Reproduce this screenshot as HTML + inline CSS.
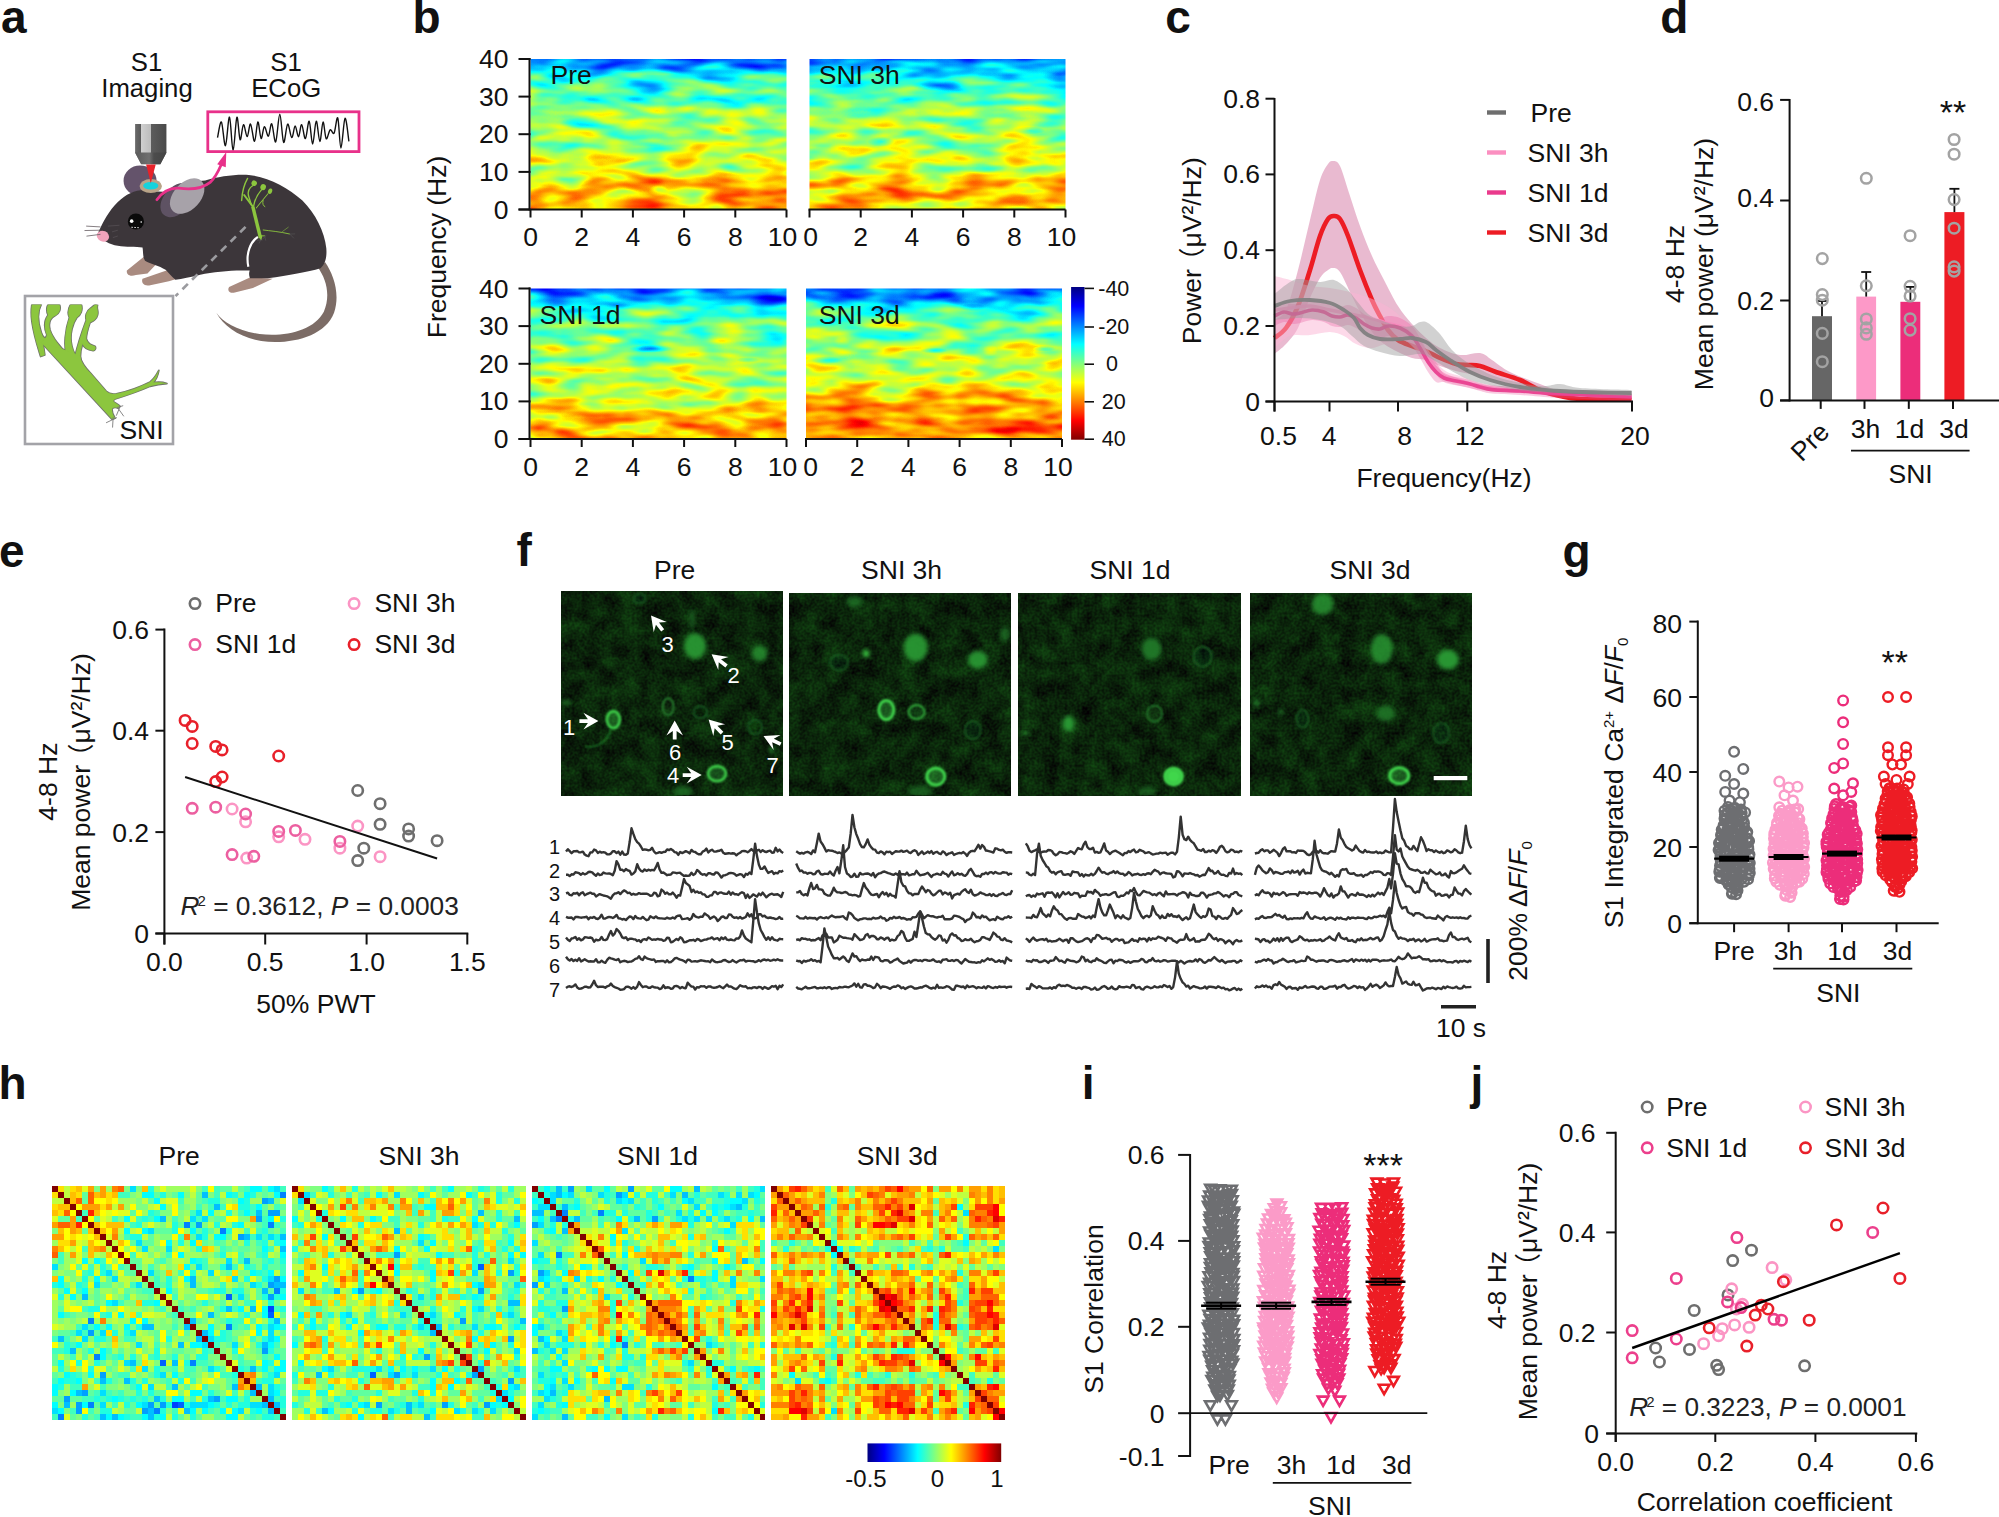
<!DOCTYPE html>
<html><head><meta charset="utf-8"><title>Figure</title>
<style>html,body{margin:0;padding:0;background:#fff}svg{display:block}text{font-family:"Liberation Sans", "Noto Sans CJK SC", sans-serif}</style></head>
<body><svg width="1999" height="1517" viewBox="0 0 1999 1517">
<defs><filter id="jt0" x="0" y="0" width="1" height="1" color-interpolation-filters="sRGB" filterUnits="objectBoundingBox">
<feTurbulence type="fractalNoise" baseFrequency="0.024 0.085" numOctaves="2" seed="3" result="n"/>
<feColorMatrix in="n" type="matrix" values="1 0 0 0 0 1 0 0 0 0 1 0 0 0 0 0 0 0 0 1" result="g"/>
<feComposite in="SourceGraphic" in2="g" operator="arithmetic" k1="0" k2="1" k3="0.47" k4="-0.235" result="m"/>
<feComponentTransfer in="m"><feFuncR type="table" tableValues="0 0 0 0 .5 1 1 1 .5"/><feFuncG type="table" tableValues="0 0 .5 1 1 1 .5 0 0"/><feFuncB type="table" tableValues=".5 1 1 1 .5 0 0 0 0"/></feComponentTransfer></filter><filter id="jt1" x="0" y="0" width="1" height="1" color-interpolation-filters="sRGB" filterUnits="objectBoundingBox">
<feTurbulence type="fractalNoise" baseFrequency="0.024 0.085" numOctaves="2" seed="11" result="n"/>
<feColorMatrix in="n" type="matrix" values="1 0 0 0 0 1 0 0 0 0 1 0 0 0 0 0 0 0 0 1" result="g"/>
<feComposite in="SourceGraphic" in2="g" operator="arithmetic" k1="0" k2="1" k3="0.47" k4="-0.235" result="m"/>
<feComponentTransfer in="m"><feFuncR type="table" tableValues="0 0 0 0 .5 1 1 1 .5"/><feFuncG type="table" tableValues="0 0 .5 1 1 1 .5 0 0"/><feFuncB type="table" tableValues=".5 1 1 1 .5 0 0 0 0"/></feComponentTransfer></filter><filter id="jt2" x="0" y="0" width="1" height="1" color-interpolation-filters="sRGB" filterUnits="objectBoundingBox">
<feTurbulence type="fractalNoise" baseFrequency="0.024 0.085" numOctaves="2" seed="23" result="n"/>
<feColorMatrix in="n" type="matrix" values="1 0 0 0 0 1 0 0 0 0 1 0 0 0 0 0 0 0 0 1" result="g"/>
<feComposite in="SourceGraphic" in2="g" operator="arithmetic" k1="0" k2="1" k3="0.47" k4="-0.235" result="m"/>
<feComponentTransfer in="m"><feFuncR type="table" tableValues="0 0 0 0 .5 1 1 1 .5"/><feFuncG type="table" tableValues="0 0 .5 1 1 1 .5 0 0"/><feFuncB type="table" tableValues=".5 1 1 1 .5 0 0 0 0"/></feComponentTransfer></filter><filter id="jt3" x="0" y="0" width="1" height="1" color-interpolation-filters="sRGB" filterUnits="objectBoundingBox">
<feTurbulence type="fractalNoise" baseFrequency="0.024 0.085" numOctaves="2" seed="37" result="n"/>
<feColorMatrix in="n" type="matrix" values="1 0 0 0 0 1 0 0 0 0 1 0 0 0 0 0 0 0 0 1" result="g"/>
<feComposite in="SourceGraphic" in2="g" operator="arithmetic" k1="0" k2="1" k3="0.47" k4="-0.235" result="m"/>
<feComponentTransfer in="m"><feFuncR type="table" tableValues="0 0 0 0 .5 1 1 1 .5"/><feFuncG type="table" tableValues="0 0 .5 1 1 1 .5 0 0"/><feFuncB type="table" tableValues=".5 1 1 1 .5 0 0 0 0"/></feComponentTransfer></filter><radialGradient id="hot"><stop offset="0" stop-color="#fff" stop-opacity=".34"/><stop offset=".6" stop-color="#fff" stop-opacity=".17"/><stop offset="1" stop-color="#fff" stop-opacity="0"/></radialGradient><radialGradient id="cold"><stop offset="0" stop-color="#000" stop-opacity=".55"/><stop offset=".6" stop-color="#000" stop-opacity=".25"/><stop offset="1" stop-color="#000" stop-opacity="0"/></radialGradient><linearGradient id="cbv" x1="0" y1="0" x2="0" y2="1"><stop offset="0.0" stop-color="#000080"/><stop offset="0.125" stop-color="#0000ff"/><stop offset="0.25" stop-color="#0080ff"/><stop offset="0.375" stop-color="#00ffff"/><stop offset="0.5" stop-color="#80ff80"/><stop offset="0.625" stop-color="#ffff00"/><stop offset="0.75" stop-color="#ff8000"/><stop offset="0.875" stop-color="#ff0000"/><stop offset="1.0" stop-color="#800000"/></linearGradient><linearGradient id="cbh" x1="0" y1="0" x2="1" y2="0"><stop offset="0.0" stop-color="#000080"/><stop offset="0.125" stop-color="#0000ff"/><stop offset="0.25" stop-color="#0080ff"/><stop offset="0.375" stop-color="#00ffff"/><stop offset="0.5" stop-color="#80ff80"/><stop offset="0.625" stop-color="#ffff00"/><stop offset="0.75" stop-color="#ff8000"/><stop offset="0.875" stop-color="#ff0000"/><stop offset="1.0" stop-color="#800000"/></linearGradient><linearGradient id="obj" x1="0" y1="0" x2="1" y2="0"><stop offset="0" stop-color="#6a6a6a"/><stop offset=".18" stop-color="#5a5a5a"/><stop offset=".2" stop-color="#cfcfcf"/><stop offset=".5" stop-color="#bdbdbd"/><stop offset=".52" stop-color="#5c5c5c"/><stop offset="1" stop-color="#4a4a4a"/></linearGradient><linearGradient id="obj2" x1="0" y1="0" x2="1" y2="0"><stop offset="0" stop-color="#5a5a5a"/><stop offset=".45" stop-color="#707070"/><stop offset=".6" stop-color="#4c4c4c"/><stop offset="1" stop-color="#444"/></linearGradient><filter id="gn0" x="0" y="0" width="1" height="1" color-interpolation-filters="sRGB">
<feTurbulence type="fractalNoise" baseFrequency="0.05" numOctaves="3" seed="7"/>
<feColorMatrix type="matrix" values="0 .3 0 0 0 0 .3 0 0 0 0 .3 0 0 0 0 0 0 0 1" result="a"/>
<feTurbulence type="fractalNoise" baseFrequency="0.4" numOctaves="1" seed="8"/>
<feColorMatrix type="matrix" values="0 .22 0 0 0 0 .22 0 0 0 0 .22 0 0 0 0 0 0 0 1" result="b"/>
<feComposite in="a" in2="b" operator="arithmetic" k1="0" k2="1" k3="1" k4="0"/>
<feColorMatrix type="matrix" values="0 0.2 0 0 -0.01  0 1 0 0 -0.115  0 0.2 0 0 -0.01  0 0 0 0 1"/></filter><filter id="gn1" x="0" y="0" width="1" height="1" color-interpolation-filters="sRGB">
<feTurbulence type="fractalNoise" baseFrequency="0.05" numOctaves="3" seed="19"/>
<feColorMatrix type="matrix" values="0 .3 0 0 0 0 .3 0 0 0 0 .3 0 0 0 0 0 0 0 1" result="a"/>
<feTurbulence type="fractalNoise" baseFrequency="0.4" numOctaves="1" seed="20"/>
<feColorMatrix type="matrix" values="0 .22 0 0 0 0 .22 0 0 0 0 .22 0 0 0 0 0 0 0 1" result="b"/>
<feComposite in="a" in2="b" operator="arithmetic" k1="0" k2="1" k3="1" k4="0"/>
<feColorMatrix type="matrix" values="0 0.2 0 0 -0.01  0 1 0 0 -0.115  0 0.2 0 0 -0.01  0 0 0 0 1"/></filter><filter id="gn2" x="0" y="0" width="1" height="1" color-interpolation-filters="sRGB">
<feTurbulence type="fractalNoise" baseFrequency="0.05" numOctaves="3" seed="31"/>
<feColorMatrix type="matrix" values="0 .3 0 0 0 0 .3 0 0 0 0 .3 0 0 0 0 0 0 0 1" result="a"/>
<feTurbulence type="fractalNoise" baseFrequency="0.4" numOctaves="1" seed="32"/>
<feColorMatrix type="matrix" values="0 .22 0 0 0 0 .22 0 0 0 0 .22 0 0 0 0 0 0 0 1" result="b"/>
<feComposite in="a" in2="b" operator="arithmetic" k1="0" k2="1" k3="1" k4="0"/>
<feColorMatrix type="matrix" values="0 0.2 0 0 -0.01  0 1 0 0 -0.115  0 0.2 0 0 -0.01  0 0 0 0 1"/></filter><filter id="gn3" x="0" y="0" width="1" height="1" color-interpolation-filters="sRGB">
<feTurbulence type="fractalNoise" baseFrequency="0.05" numOctaves="3" seed="43"/>
<feColorMatrix type="matrix" values="0 .3 0 0 0 0 .3 0 0 0 0 .3 0 0 0 0 0 0 0 1" result="a"/>
<feTurbulence type="fractalNoise" baseFrequency="0.4" numOctaves="1" seed="44"/>
<feColorMatrix type="matrix" values="0 .22 0 0 0 0 .22 0 0 0 0 .22 0 0 0 0 0 0 0 1" result="b"/>
<feComposite in="a" in2="b" operator="arithmetic" k1="0" k2="1" k3="1" k4="0"/>
<feColorMatrix type="matrix" values="0 0.2 0 0 -0.01  0 1 0 0 -0.115  0 0.2 0 0 -0.01  0 0 0 0 1"/></filter><filter id="cb" x="-0.5" y="-0.5" width="2" height="2"><feGaussianBlur stdDeviation="1.6"/></filter><filter id="cb2" x="-0.5" y="-0.5" width="2" height="2"><feGaussianBlur stdDeviation="2.2"/></filter><filter id="cb1" x="-0.5" y="-0.5" width="2" height="2"><feGaussianBlur stdDeviation="0.8"/></filter></defs>
<rect width="1999" height="1517" fill="#fff"/>
<text x="0.9" y="33.3" font-size="46" font-weight="bold" fill="#111">a</text><text x="412.4" y="33.3" font-size="46" font-weight="bold" fill="#111">b</text><text x="1165.3" y="33.3" font-size="46" font-weight="bold" fill="#111">c</text><text x="1660.2" y="33.3" font-size="46" font-weight="bold" fill="#111">d</text><text x="-1.1" y="566.5" font-size="46" font-weight="bold" fill="#111">e</text><text x="516.6" y="566.2" font-size="46" font-weight="bold" fill="#111">f</text><text x="1562.6" y="566.5" font-size="46" font-weight="bold" fill="#111">g</text><text x="-1.4" y="1099.3" font-size="46" font-weight="bold" fill="#111">h</text><text x="1081.8" y="1099.3" font-size="46" font-weight="bold" fill="#111">i</text><text x="1470.5" y="1099.3" font-size="46" font-weight="bold" fill="#111">j</text>
<clipPath id="hc0"><rect x="530.5" y="59" width="256" height="150.5"/></clipPath><linearGradient id="hp0" gradientUnits="userSpaceOnUse" x1="0" y1="59" x2="0" y2="209.5"><stop offset="0" stop-color="#383838"/><stop offset="0.05" stop-color="#4f4f4f"/><stop offset="0.14" stop-color="#696969"/><stop offset="0.25" stop-color="#787878"/><stop offset="0.45" stop-color="#878787"/><stop offset="0.6" stop-color="#8c8c8c"/><stop offset="0.72" stop-color="#969696"/><stop offset="0.8" stop-color="#a3a3a3"/><stop offset="0.9" stop-color="#afafaf"/><stop offset="1" stop-color="#acacac"/></linearGradient><g clip-path="url(#hc0)"><g filter="url(#jt0)"><rect x="490.5" y="19" width="336" height="230.5" fill="url(#hp0)"/><ellipse cx="640.6" cy="183.2" rx="26" ry="9" fill="url(#hot)" opacity="0.6"/><ellipse cx="691.8" cy="185" rx="30" ry="9" fill="url(#hot)" opacity="0.7"/><ellipse cx="725.1" cy="179.4" rx="26" ry="8" fill="url(#hot)" opacity="0.6"/><ellipse cx="591.9" cy="198.2" rx="24" ry="7" fill="url(#hot)" opacity="0.55"/><ellipse cx="776.3" cy="194.4" rx="22" ry="12" fill="url(#hot)" opacity="0.5"/><ellipse cx="735.3" cy="203.9" rx="18" ry="6" fill="url(#hot)" opacity="0.5"/><ellipse cx="563.8" cy="179.4" rx="30" ry="8" fill="url(#cold)" opacity="0.45"/><ellipse cx="658.5" cy="190.7" rx="10" ry="6" fill="url(#cold)" opacity="0.3"/><ellipse cx="645.7" cy="138" rx="30" ry="9" fill="url(#cold)" opacity="0.45"/><ellipse cx="581.7" cy="123" rx="22" ry="6" fill="url(#cold)" opacity="0.3"/><ellipse cx="658.5" cy="68.4" rx="40" ry="6" fill="url(#cold)" opacity="0.5"/><ellipse cx="755.8" cy="66.5" rx="30" ry="5" fill="url(#cold)" opacity="0.6"/><ellipse cx="556.1" cy="77.8" rx="20" ry="6" fill="url(#cold)" opacity="0.4"/><ellipse cx="735.3" cy="134.2" rx="24" ry="8" fill="url(#hot)" opacity="0.3"/><ellipse cx="581.7" cy="149.3" rx="18" ry="5" fill="url(#hot)" opacity="0.3"/><ellipse cx="535.6" cy="205.7" rx="14" ry="8" fill="url(#hot)" opacity="0.5"/></g></g><path d="M529.5 58L529.5 210.5" stroke="#111" stroke-width="2" fill="none" /><path d="M518.5 209.5L786.5 209.5" stroke="#111" stroke-width="2" fill="none" /><path d="M530.5 209.5L530.5 217.5" stroke="#111" stroke-width="2" fill="none" /><text x="530.5" y="246" font-size="26.5" text-anchor="middle" fill="#111" >0</text><path d="M581.7 209.5L581.7 217.5" stroke="#111" stroke-width="2" fill="none" /><text x="581.7" y="246" font-size="26.5" text-anchor="middle" fill="#111" >2</text><path d="M632.9 209.5L632.9 217.5" stroke="#111" stroke-width="2" fill="none" /><text x="632.9" y="246" font-size="26.5" text-anchor="middle" fill="#111" >4</text><path d="M684.1 209.5L684.1 217.5" stroke="#111" stroke-width="2" fill="none" /><text x="684.1" y="246" font-size="26.5" text-anchor="middle" fill="#111" >6</text><path d="M735.3 209.5L735.3 217.5" stroke="#111" stroke-width="2" fill="none" /><text x="735.3" y="246" font-size="26.5" text-anchor="middle" fill="#111" >8</text><path d="M786.5 209.5L786.5 217.5" stroke="#111" stroke-width="2" fill="none" /><text x="782.5" y="246" font-size="26.5" text-anchor="middle" fill="#111" >10</text><path d="M518.5 209.5L530.5 209.5" stroke="#111" stroke-width="2" fill="none" /><text x="508.5" y="218.5" font-size="26.5" text-anchor="end" fill="#111" >0</text><path d="M518.5 171.9L530.5 171.9" stroke="#111" stroke-width="2" fill="none" /><text x="508.5" y="180.9" font-size="26.5" text-anchor="end" fill="#111" >10</text><path d="M518.5 134.2L530.5 134.2" stroke="#111" stroke-width="2" fill="none" /><text x="508.5" y="143.2" font-size="26.5" text-anchor="end" fill="#111" >20</text><path d="M518.5 96.6L530.5 96.6" stroke="#111" stroke-width="2" fill="none" /><text x="508.5" y="105.6" font-size="26.5" text-anchor="end" fill="#111" >30</text><path d="M518.5 59L530.5 59" stroke="#111" stroke-width="2" fill="none" /><text x="508.5" y="68" font-size="26.5" text-anchor="end" fill="#111" >40</text><clipPath id="hc1"><rect x="809.5" y="59" width="256" height="150.5"/></clipPath><linearGradient id="hp1" gradientUnits="userSpaceOnUse" x1="0" y1="59" x2="0" y2="209.5"><stop offset="0" stop-color="#383838"/><stop offset="0.05" stop-color="#4f4f4f"/><stop offset="0.14" stop-color="#696969"/><stop offset="0.25" stop-color="#787878"/><stop offset="0.45" stop-color="#878787"/><stop offset="0.6" stop-color="#8c8c8c"/><stop offset="0.72" stop-color="#969696"/><stop offset="0.8" stop-color="#a3a3a3"/><stop offset="0.9" stop-color="#afafaf"/><stop offset="1" stop-color="#acacac"/></linearGradient><g clip-path="url(#hc1)"><g filter="url(#jt1)"><rect x="769.5" y="19" width="336" height="230.5" fill="url(#hp1)"/><ellipse cx="886.3" cy="194.4" rx="40" ry="10" fill="url(#hot)" opacity="0.55"/><ellipse cx="1011.7" cy="194.4" rx="22" ry="13" fill="url(#hot)" opacity="0.75"/><ellipse cx="950.3" cy="183.2" rx="28" ry="7" fill="url(#hot)" opacity="0.4"/><ellipse cx="1055.3" cy="156.8" rx="18" ry="10" fill="url(#hot)" opacity="0.5"/><ellipse cx="842.8" cy="149.3" rx="16" ry="7" fill="url(#hot)" opacity="0.35"/><ellipse cx="899.1" cy="130.5" rx="10" ry="6" fill="url(#hot)" opacity="0.35"/><ellipse cx="817.2" cy="190.7" rx="14" ry="12" fill="url(#hot)" opacity="0.4"/><ellipse cx="937.5" cy="85.3" rx="26" ry="6" fill="url(#cold)" opacity="0.65"/><ellipse cx="881.2" cy="141.8" rx="14" ry="5" fill="url(#cold)" opacity="0.5"/><ellipse cx="1029.7" cy="130.5" rx="16" ry="4" fill="url(#cold)" opacity="0.55"/><ellipse cx="894" cy="66.5" rx="30" ry="5" fill="url(#cold)" opacity="0.5"/><ellipse cx="1057.8" cy="74" rx="18" ry="8" fill="url(#cold)" opacity="0.5"/><ellipse cx="975.9" cy="168.1" rx="30" ry="5" fill="url(#cold)" opacity="0.3"/></g></g><path d="M808.5 209.5L1065.5 209.5" stroke="#111" stroke-width="2" fill="none" /><path d="M809.5 209.5L809.5 217.5" stroke="#111" stroke-width="2" fill="none" /><text x="810.5" y="246" font-size="26.5" text-anchor="middle" fill="#111" >0</text><path d="M860.7 209.5L860.7 217.5" stroke="#111" stroke-width="2" fill="none" /><text x="860.7" y="246" font-size="26.5" text-anchor="middle" fill="#111" >2</text><path d="M911.9 209.5L911.9 217.5" stroke="#111" stroke-width="2" fill="none" /><text x="911.9" y="246" font-size="26.5" text-anchor="middle" fill="#111" >4</text><path d="M963.1 209.5L963.1 217.5" stroke="#111" stroke-width="2" fill="none" /><text x="963.1" y="246" font-size="26.5" text-anchor="middle" fill="#111" >6</text><path d="M1014.3 209.5L1014.3 217.5" stroke="#111" stroke-width="2" fill="none" /><text x="1014.3" y="246" font-size="26.5" text-anchor="middle" fill="#111" >8</text><path d="M1065.5 209.5L1065.5 217.5" stroke="#111" stroke-width="2" fill="none" /><text x="1061.5" y="246" font-size="26.5" text-anchor="middle" fill="#111" >10</text><clipPath id="hc2"><rect x="530.5" y="288.5" width="256" height="150.5"/></clipPath><linearGradient id="hp2" gradientUnits="userSpaceOnUse" x1="0" y1="288.5" x2="0" y2="439"><stop offset="0" stop-color="#383838"/><stop offset="0.05" stop-color="#4f4f4f"/><stop offset="0.14" stop-color="#696969"/><stop offset="0.25" stop-color="#787878"/><stop offset="0.45" stop-color="#878787"/><stop offset="0.6" stop-color="#8c8c8c"/><stop offset="0.72" stop-color="#969696"/><stop offset="0.8" stop-color="#a3a3a3"/><stop offset="0.9" stop-color="#afafaf"/><stop offset="1" stop-color="#acacac"/></linearGradient><g clip-path="url(#hc2)"><g filter="url(#jt2)"><rect x="490.5" y="248.5" width="336" height="230.5" fill="url(#hp2)"/><ellipse cx="568.9" cy="412.7" rx="36" ry="10" fill="url(#hot)" opacity="0.5"/><ellipse cx="735.3" cy="418.3" rx="40" ry="10" fill="url(#hot)" opacity="0.55"/><ellipse cx="658.5" cy="427.7" rx="26" ry="8" fill="url(#hot)" opacity="0.45"/><ellipse cx="750.7" cy="431.5" rx="18" ry="7" fill="url(#hot)" opacity="0.6"/><ellipse cx="538.2" cy="427.7" rx="16" ry="12" fill="url(#hot)" opacity="0.45"/><ellipse cx="743" cy="367.5" rx="24" ry="6" fill="url(#hot)" opacity="0.3"/><ellipse cx="658.5" cy="382.6" rx="12" ry="5" fill="url(#hot)" opacity="0.3"/><ellipse cx="581.7" cy="296" rx="50" ry="7" fill="url(#cold)" opacity="0.6"/><ellipse cx="615" cy="305.4" rx="30" ry="5" fill="url(#cold)" opacity="0.5"/><ellipse cx="650.8" cy="348.7" rx="22" ry="4" fill="url(#cold)" opacity="0.55"/><ellipse cx="773.7" cy="299.8" rx="26" ry="6" fill="url(#cold)" opacity="0.5"/><ellipse cx="709.7" cy="333.6" rx="30" ry="6" fill="url(#cold)" opacity="0.3"/><ellipse cx="748.1" cy="360" rx="12" ry="3" fill="url(#cold)" opacity="0.4"/></g></g><path d="M529.5 287.5L529.5 440" stroke="#111" stroke-width="2" fill="none" /><path d="M518.5 439L786.5 439" stroke="#111" stroke-width="2" fill="none" /><path d="M530.5 439L530.5 447" stroke="#111" stroke-width="2" fill="none" /><text x="530.5" y="475.5" font-size="26.5" text-anchor="middle" fill="#111" >0</text><path d="M581.7 439L581.7 447" stroke="#111" stroke-width="2" fill="none" /><text x="581.7" y="475.5" font-size="26.5" text-anchor="middle" fill="#111" >2</text><path d="M632.9 439L632.9 447" stroke="#111" stroke-width="2" fill="none" /><text x="632.9" y="475.5" font-size="26.5" text-anchor="middle" fill="#111" >4</text><path d="M684.1 439L684.1 447" stroke="#111" stroke-width="2" fill="none" /><text x="684.1" y="475.5" font-size="26.5" text-anchor="middle" fill="#111" >6</text><path d="M735.3 439L735.3 447" stroke="#111" stroke-width="2" fill="none" /><text x="735.3" y="475.5" font-size="26.5" text-anchor="middle" fill="#111" >8</text><path d="M786.5 439L786.5 447" stroke="#111" stroke-width="2" fill="none" /><text x="782.5" y="475.5" font-size="26.5" text-anchor="middle" fill="#111" >10</text><path d="M518.5 439L530.5 439" stroke="#111" stroke-width="2" fill="none" /><text x="508.5" y="448" font-size="26.5" text-anchor="end" fill="#111" >0</text><path d="M518.5 401.4L530.5 401.4" stroke="#111" stroke-width="2" fill="none" /><text x="508.5" y="410.4" font-size="26.5" text-anchor="end" fill="#111" >10</text><path d="M518.5 363.8L530.5 363.8" stroke="#111" stroke-width="2" fill="none" /><text x="508.5" y="372.8" font-size="26.5" text-anchor="end" fill="#111" >20</text><path d="M518.5 326.1L530.5 326.1" stroke="#111" stroke-width="2" fill="none" /><text x="508.5" y="335.1" font-size="26.5" text-anchor="end" fill="#111" >30</text><path d="M518.5 288.5L530.5 288.5" stroke="#111" stroke-width="2" fill="none" /><text x="508.5" y="297.5" font-size="26.5" text-anchor="end" fill="#111" >40</text><clipPath id="hc3"><rect x="806" y="288.5" width="256" height="150.5"/></clipPath><linearGradient id="hp3" gradientUnits="userSpaceOnUse" x1="0" y1="288.5" x2="0" y2="439"><stop offset="0" stop-color="#333333"/><stop offset="0.05" stop-color="#4a4a4a"/><stop offset="0.14" stop-color="#696969"/><stop offset="0.25" stop-color="#7d7d7d"/><stop offset="0.45" stop-color="#8c8c8c"/><stop offset="0.6" stop-color="#969696"/><stop offset="0.7" stop-color="#a6a6a6"/><stop offset="0.78" stop-color="#b6b6b6"/><stop offset="0.9" stop-color="#bebebe"/><stop offset="1" stop-color="#b5b5b5"/></linearGradient><g clip-path="url(#hc3)"><g filter="url(#jt3)"><rect x="766" y="248.5" width="336" height="230.5" fill="url(#hp3)"/><ellipse cx="844.4" cy="416.4" rx="50" ry="12" fill="url(#hot)" opacity="0.55"/><ellipse cx="908.4" cy="423.9" rx="50" ry="10" fill="url(#hot)" opacity="0.5"/><ellipse cx="992.9" cy="429.6" rx="26" ry="9" fill="url(#hot)" opacity="0.6"/><ellipse cx="1026.2" cy="393.9" rx="34" ry="10" fill="url(#hot)" opacity="0.5"/><ellipse cx="1051.8" cy="423.9" rx="16" ry="12" fill="url(#hot)" opacity="0.6"/><ellipse cx="934" cy="388.2" rx="22" ry="7" fill="url(#hot)" opacity="0.4"/><ellipse cx="816.2" cy="382.6" rx="16" ry="7" fill="url(#hot)" opacity="0.4"/><ellipse cx="990.3" cy="350.6" rx="8" ry="6" fill="url(#hot)" opacity="0.4"/><ellipse cx="841.8" cy="341.2" rx="8" ry="6" fill="url(#hot)" opacity="0.3"/><ellipse cx="934" cy="294.1" rx="24" ry="6" fill="url(#cold)" opacity="0.7"/><ellipse cx="972.4" cy="307.3" rx="14" ry="4" fill="url(#cold)" opacity="0.5"/><ellipse cx="826.5" cy="360" rx="16" ry="4" fill="url(#cold)" opacity="0.45"/><ellipse cx="934" cy="350.6" rx="14" ry="3" fill="url(#cold)" opacity="0.45"/><ellipse cx="1044.1" cy="348.7" rx="12" ry="3" fill="url(#cold)" opacity="0.45"/><ellipse cx="1044.1" cy="296" rx="20" ry="5" fill="url(#cold)" opacity="0.4"/><ellipse cx="826.5" cy="296" rx="20" ry="4" fill="url(#cold)" opacity="0.4"/></g></g><path d="M805 439L1062 439" stroke="#111" stroke-width="2" fill="none" /><path d="M806 439L806 447" stroke="#111" stroke-width="2" fill="none" /><text x="810.5" y="475.5" font-size="26.5" text-anchor="middle" fill="#111" >0</text><path d="M857.2 439L857.2 447" stroke="#111" stroke-width="2" fill="none" /><text x="857.2" y="475.5" font-size="26.5" text-anchor="middle" fill="#111" >2</text><path d="M908.4 439L908.4 447" stroke="#111" stroke-width="2" fill="none" /><text x="908.4" y="475.5" font-size="26.5" text-anchor="middle" fill="#111" >4</text><path d="M959.6 439L959.6 447" stroke="#111" stroke-width="2" fill="none" /><text x="959.6" y="475.5" font-size="26.5" text-anchor="middle" fill="#111" >6</text><path d="M1010.8 439L1010.8 447" stroke="#111" stroke-width="2" fill="none" /><text x="1010.8" y="475.5" font-size="26.5" text-anchor="middle" fill="#111" >8</text><path d="M1062 439L1062 447" stroke="#111" stroke-width="2" fill="none" /><text x="1058" y="475.5" font-size="26.5" text-anchor="middle" fill="#111" >10</text><text x="550.5" y="84.2" font-size="26.5" text-anchor="start" fill="#111" >Pre</text><text x="818.8" y="84.2" font-size="26.5" text-anchor="start" fill="#111" >SNI 3h</text><text x="539.5" y="324.3" font-size="26.5" text-anchor="start" fill="#111" >SNI 1d</text><text x="818.8" y="324.3" font-size="26.5" text-anchor="start" fill="#111" >SNI 3d</text><text transform="translate(446 247) rotate(-90)" font-size="26.5" text-anchor="middle" fill="#111" >Frequency (Hz)</text><rect x="1071.1" y="287" width="13.4" height="152.7" fill="url(#cbv)"/><path d="M1084.5 288.4L1094 288.4" stroke="#111" stroke-width="1.6" fill="none" /><text x="1113.8" y="295.6" font-size="21.5" text-anchor="middle" fill="#111" >-40</text><path d="M1084.5 327L1094 327" stroke="#111" stroke-width="1.6" fill="none" /><text x="1113.8" y="334.2" font-size="21.5" text-anchor="middle" fill="#111" >-20</text><path d="M1084.5 364.2L1094 364.2" stroke="#111" stroke-width="1.6" fill="none" /><text x="1112" y="371.4" font-size="21.5" text-anchor="middle" fill="#111" >0</text><path d="M1084.5 401.8L1094 401.8" stroke="#111" stroke-width="1.6" fill="none" /><text x="1113.8" y="409" font-size="21.5" text-anchor="middle" fill="#111" >20</text><path d="M1084.5 439.2L1094 439.2" stroke="#111" stroke-width="1.6" fill="none" /><text x="1113.8" y="446.4" font-size="21.5" text-anchor="middle" fill="#111" >40</text><text x="146.5" y="70.8" font-size="25.7" text-anchor="middle" fill="#111" >S1</text><text x="147" y="97.3" font-size="25.7" text-anchor="middle" fill="#111" >Imaging</text><text x="286" y="70.8" font-size="25.7" text-anchor="middle" fill="#111" >S1</text><text x="286.2" y="97.3" font-size="25.7" text-anchor="middle" fill="#111" >ECoG</text><g transform="translate(70 100) scale(0.16483)"><path d="M1500 1010C1560 1090 1580 1190 1540 1285C1480 1400 1300 1440 1150 1420C1020 1400 930 1350 888 1290C930 1370 1030 1440 1160 1462C1330 1485 1545 1440 1602 1290C1640 1180 1600 1060 1548 985Z" fill="#7c6c66"/><ellipse cx="425" cy="490" rx="100" ry="92" fill="#64536b"/><path d="M450 950L345 1035C340 1060 365 1075 400 1062L470 1052L520 1000Z" fill="#a98b80"/><path d="M585 1035L440 1085C430 1110 450 1130 480 1125L600 1100L680 1075Z" fill="#a98b80"/><path d="M1095 1075L965 1135C950 1160 975 1175 1000 1168L1110 1140L1230 1085Z" fill="#a98b80"/><path d="M165 820C185 770 225 690 270 640C320 585 370 555 430 548C480 545 540 560 580 555C640 520 720 495 820 488C900 465 1000 450 1085 455C1200 465 1320 530 1410 610C1490 690 1545 800 1555 900C1560 960 1545 1000 1520 1020C1440 1045 1330 1060 1200 1082L1092 1082C1085 1065 1085 1050 1090 1035C1000 1030 880 1040 790 1060C730 1075 680 1085 640 1090C615 1070 600 1050 580 1030C540 1005 490 995 455 975C440 950 445 920 440 895C400 890 340 895 290 885C240 875 195 850 165 820Z" fill="#3c363a"/><ellipse cx="650" cy="606" rx="122" ry="80" fill="#5e5263" transform="rotate(-47 650 606)"/><ellipse cx="711" cy="583" rx="126" ry="82" fill="#a7a2a9" transform="rotate(-47 711 583)"/><ellipse cx="490" cy="522" rx="68" ry="42" fill="#b9a488"/><ellipse cx="490" cy="520" rx="46" ry="23" fill="#16d3dc"/><path d="M395 145H585V320L548 390H432L395 320Z" fill="url(#obj)"/><path d="M395 318H585L548 390H432Z" fill="url(#obj2)"/><path d="M462 392H520L490 505Z" fill="#e8222a"/><circle cx="400" cy="737" r="49" fill="#0a0a0a"/><circle cx="374" cy="735" r="11" fill="#fff"/><circle cx="432" cy="740" r="5" fill="#fff"/><path d="M372 772L420 775" stroke="#fff" stroke-width="5" stroke-dasharray="10 8"/><ellipse cx="200" cy="826" rx="38" ry="32" fill="#f1a3bb" transform="rotate(25 200 826)"/><path d="M185 770L98 765M185 790L88 792M185 815L100 826" stroke="#6a6266" stroke-width="5" fill="none"/><path d="M230 765L300 760M255 800L290 790M260 835L290 825" stroke="#5a5458" stroke-width="4" fill="none"/><path d="M1140 830C1095 860 1065 930 1082 1012" stroke="#fff" stroke-width="13" fill="none"/></g><g transform="translate(247.7 177.8) rotate(22) scale(0.46) translate(-36.3 -304.4) translate(0 280) scale(0.12506)"><g fill="none" stroke="#8cc63e" stroke-linecap="round" stroke-linejoin="round"><path d="M292 205C275 320 300 480 340 600" stroke-width="24"/><path d="M425 285C385 340 380 420 420 480L520 600" stroke-width="24"/><path d="M590 300C555 400 545 500 570 610" stroke-width="24"/><path d="M720 320C690 420 655 520 625 625" stroke-width="16"/><path d="M685 460C695 520 720 545 755 548" stroke-width="15"/><path d="M345 495L560 625" stroke-width="34"/><path d="M560 625L890 1085" stroke-width="60" stroke-linecap="butt"/><path d="M880 935C1000 905 1150 855 1330 828" stroke-width="14"/><path d="M1200 835L1266 728" stroke-width="8"/></g><g fill="#8cc63e"><ellipse cx="430" cy="240" rx="48" ry="48"/><ellipse cx="600" cy="245" rx="48" ry="52"/><ellipse cx="738" cy="265" rx="36" ry="48"/><path d="M870 1040L955 1010L940 1030L900 1050L920 1105L890 1110Z"/></g><path d="M848 1142L935 1100M905 1095L900 1180M930 1085L962 1008M940 1020L990 1090M1335 828L1420 790M1335 828L1430 870" stroke="#5a5a5a" stroke-width="8" fill="none"/></g><g transform="translate(70 100) scale(0.16483)"><path d="M527 605C560 560 600 530 660 535C730 545 800 540 850 500C890 465 905 420 925 375" fill="none" stroke="#e8318a" stroke-width="17" stroke-linecap="round"/><path d="M948 316L893 390L945 408Z" fill="#e8318a"/><path d="M1065 770L640 1190" stroke="#9b9b9f" stroke-width="16" stroke-dasharray="46 36" fill="none"/><path d="M895 228.7C898.9 212.9 910.4 125.6 918.5 133.6C926.5 141.6 934.9 281.7 943.1 276.8C951.3 271.9 959.9 99.1 967.6 104.2C975.4 109.3 982 307.2 989.4 307.3C996.9 307.5 1005.2 116.1 1012.3 105C1019.4 94 1025.3 233.3 1032 240.8C1038.7 248.2 1045.3 152.8 1052.5 149.8C1059.6 146.8 1067.8 223.2 1074.9 222.5C1082.1 221.9 1087.8 141.1 1095.2 145.8C1102.7 150.6 1112.3 253.1 1119.7 251.1C1127.1 249 1133.1 136.5 1139.7 133.5C1146.3 130.6 1152.9 228.5 1159.5 233.2C1166.1 237.9 1171.9 163.8 1179.3 161.5C1186.6 159.3 1196.1 222.6 1203.5 219.7C1210.9 216.7 1216.4 138.2 1223.8 144C1231.2 149.8 1239.9 263.7 1248 254.2C1256.2 244.7 1264.8 86.4 1272.8 86.8C1280.8 87.2 1287.9 246.6 1295.9 256.6C1303.8 266.5 1312.3 151.1 1320.5 146.5C1328.8 141.8 1337.7 226.7 1345.3 228.5C1352.9 230.3 1359.3 158.2 1366.1 157.3C1372.9 156.3 1379.5 224.2 1386.1 222.9C1392.7 221.5 1398.5 147.4 1405.5 149.2C1412.5 151.1 1420.5 237.5 1428.1 234.1C1435.7 230.8 1443.9 123.6 1451.2 129.2C1458.5 134.8 1464.9 267.8 1472 267.7C1479.2 267.5 1486.6 131.1 1493.9 128.4C1501.2 125.7 1508.9 250.5 1515.8 251.4C1522.7 252.2 1528.7 136.5 1535.2 133.7C1541.6 131 1547.1 227 1554.3 234.9C1561.5 242.7 1570.4 186.6 1578.4 180.9C1586.3 175.2 1594.4 212.5 1602.1 200.5C1609.8 188.6 1617.6 94.2 1624.6 109.4C1631.5 124.6 1636.5 291.4 1643.8 291.7C1651.2 292 1660.5 118 1668.6 111.1C1676.6 104.2 1688.2 227.2 1692.1 250.4" fill="none" stroke="#111" stroke-width="8.5" stroke-linejoin="round"/></g><rect x="207.8" y="111.8" width="151.2" height="39.8" fill="none" stroke="#e8318a" stroke-width="2.8"/><rect x="25" y="296" width="148" height="148" fill="none" stroke="#a3a3a8" stroke-width="2.6"/><g transform="translate(0 280) scale(0.12506)"><clipPath id="ncl"><rect x="210" y="195" width="1160" height="1100"/></clipPath><g clip-path="url(#ncl)"><path d="M255 195L330 195C300 250 300 330 330 420C340 450 350 470 380 470L400 500L340 500C350 540 355 570 358 600L325 612C300 530 270 440 255 330C248 280 250 230 255 195Z" fill="#6e6e6e" stroke="#6e6e6e" stroke-width="14" stroke-linejoin="round"/><path d="M385 195L475 195C490 230 475 270 440 285C400 305 385 340 400 400C420 460 480 540 540 590L500 640L330 500C360 470 370 460 375 440C350 380 355 320 385 280C370 250 372 220 385 195Z" fill="#6e6e6e" stroke="#6e6e6e" stroke-width="14" stroke-linejoin="round"/><path d="M565 195L650 195C665 240 645 280 615 300C580 350 560 430 570 500C575 540 590 580 610 610L530 600C510 520 520 400 555 300C540 270 545 230 565 195Z" fill="#6e6e6e" stroke="#6e6e6e" stroke-width="14" stroke-linejoin="round"/><path d="M760 195L780 200C770 230 790 250 780 280C770 320 740 330 720 340C700 400 690 440 690 470C700 510 730 520 760 530C770 545 760 565 745 565C700 560 670 540 660 510C645 560 640 600 645 640L600 610C620 520 660 400 690 320C680 290 690 250 720 230C740 215 750 205 760 195Z" fill="#6e6e6e" stroke="#6e6e6e" stroke-width="14" stroke-linejoin="round"/><path d="M330 500L520 560L640 610C650 660 680 700 720 740L850 890C870 910 900 915 930 910C1030 890 1130 850 1200 815C1230 790 1250 760 1270 722C1262 770 1245 800 1225 820C1260 815 1300 815 1335 828C1290 830 1240 838 1200 850C1110 890 1020 920 940 945C920 950 905 960 905 970C920 985 945 995 960 1010L945 1025C925 1015 905 1020 895 1030C895 1060 905 1085 920 1105L895 1112Z" fill="#6e6e6e" stroke="#6e6e6e" stroke-width="14" stroke-linejoin="round"/><path d="M255 195L330 195C300 250 300 330 330 420C340 450 350 470 380 470L400 500L340 500C350 540 355 570 358 600L325 612C300 530 270 440 255 330C248 280 250 230 255 195Z" fill="#8cc63e" stroke="#8cc63e" stroke-width="2"/><path d="M385 195L475 195C490 230 475 270 440 285C400 305 385 340 400 400C420 460 480 540 540 590L500 640L330 500C360 470 370 460 375 440C350 380 355 320 385 280C370 250 372 220 385 195Z" fill="#8cc63e" stroke="#8cc63e" stroke-width="2"/><path d="M565 195L650 195C665 240 645 280 615 300C580 350 560 430 570 500C575 540 590 580 610 610L530 600C510 520 520 400 555 300C540 270 545 230 565 195Z" fill="#8cc63e" stroke="#8cc63e" stroke-width="2"/><path d="M760 195L780 200C770 230 790 250 780 280C770 320 740 330 720 340C700 400 690 440 690 470C700 510 730 520 760 530C770 545 760 565 745 565C700 560 670 540 660 510C645 560 640 600 645 640L600 610C620 520 660 400 690 320C680 290 690 250 720 230C740 215 750 205 760 195Z" fill="#8cc63e" stroke="#8cc63e" stroke-width="2"/><path d="M330 500L520 560L640 610C650 660 680 700 720 740L850 890C870 910 900 915 930 910C1030 890 1130 850 1200 815C1230 790 1250 760 1270 722C1262 770 1245 800 1225 820C1260 815 1300 815 1335 828C1290 830 1240 838 1200 850C1110 890 1020 920 940 945C920 950 905 960 905 970C920 985 945 995 960 1010L945 1025C925 1015 905 1020 895 1030C895 1060 905 1085 920 1105L895 1112Z" fill="#8cc63e" stroke="#8cc63e" stroke-width="2"/><path d="M848 1142L935 1100M905 1095L900 1180M930 1085L962 1008M940 1020L990 1090M935 1020L985 1005" stroke="#777" stroke-width="7" fill="none"/></g></g><text x="119.4" y="438.7" font-size="26.5" text-anchor="start" fill="#111" >SNI</text><path d="M1274.4 320C1276.3 318.3 1282.1 318.3 1286 310C1289.9 301.7 1294 285 1298 270C1302 255 1306.3 235 1310 220C1313.7 205 1317 189.3 1320 180C1323 170.7 1325.8 167.2 1328 164C1330.2 160.8 1331 160.7 1333 161C1335 161.3 1337.2 160.2 1340 166C1342.8 171.8 1346.7 186 1350 196C1353.3 206 1356.3 216 1360 226C1363.7 236 1368 247 1372 256C1376 265 1379.7 271.7 1384 280C1388.3 288.3 1393.3 298.7 1398 306C1402.7 313.3 1407.3 318.7 1412 324C1416.7 329.3 1421.3 334 1426 338C1430.7 342 1434.3 345.2 1440 348C1445.7 350.8 1453.3 354.2 1460 355C1466.7 355.8 1474.7 352.2 1480 353C1485.3 353.8 1487 356.8 1492 360C1497 363.2 1502 368 1510 372C1518 376 1528.3 379.8 1540 384C1551.7 388.2 1564.7 394.7 1580 397C1595.3 399.3 1623 397.8 1631.6 398L1631.6 400.6C1623 400.5 1595.3 401.1 1580 400C1564.7 398.9 1553.3 397 1540 394C1526.7 391 1510 385 1500 382C1490 379 1486.7 377.7 1480 376C1473.3 374.3 1466.7 373.7 1460 372C1453.3 370.3 1445.7 368 1440 366C1434.3 364 1430.7 361.3 1426 360C1421.3 358.7 1416.7 359.3 1412 358C1407.3 356.7 1402.7 354.3 1398 352C1393.3 349.7 1388.3 347.3 1384 344C1379.7 340.7 1376 337.3 1372 332C1368 326.7 1363.7 318.7 1360 312C1356.3 305.3 1353.3 298.7 1350 292C1346.7 285.3 1342.8 276 1340 272C1337.2 268 1335 268.3 1333 268C1331 267.7 1330.2 268.3 1328 270C1325.8 271.7 1323 273.3 1320 278C1317 282.7 1313.7 289.7 1310 298C1306.3 306.3 1302 320.3 1298 328C1294 335.7 1289.9 339.7 1286 344C1282.1 348.3 1276.3 352.3 1274.4 354Z" fill="#c9528a" opacity="0.4"/><path d="M1274.4 338C1276.3 336.3 1282.1 333.3 1286 328C1289.9 322.7 1294 315.7 1298 306C1302 296.3 1306.3 281.7 1310 270C1313.7 258.3 1317 244.5 1320 236C1323 227.5 1325.7 222.3 1328 219C1330.3 215.7 1332 216 1334 216C1336 216 1337.7 215.7 1340 219C1342.3 222.3 1344.7 227.5 1348 236C1351.3 244.5 1356 259.3 1360 270C1364 280.7 1368.7 292.3 1372 300C1375.3 307.7 1377.3 311 1380 316C1382.7 321 1385 326 1388 330C1391 334 1394 337.3 1398 340C1402 342.7 1407.3 344.2 1412 346C1416.7 347.8 1421.3 349 1426 351C1430.7 353 1435 355.8 1440 358C1445 360.2 1451.3 362.8 1456 364C1460.7 365.2 1464 364.7 1468 365C1472 365.3 1475.3 364.8 1480 366C1484.7 367.2 1489.3 369.7 1496 372C1502.7 374.3 1512.7 377 1520 380C1527.3 383 1533.3 387.3 1540 390C1546.7 392.7 1553.3 394.5 1560 396C1566.7 397.5 1568.1 398.4 1580 399C1591.9 399.6 1623 399.5 1631.6 399.6" fill="none" stroke="#ed1c24" stroke-width="4.6" opacity="1"/><path d="M1274.4 310C1277 309.7 1284.1 308.7 1290 308C1295.9 307.3 1303.3 305.7 1310 306C1316.7 306.3 1323.3 308.7 1330 310C1336.7 311.3 1343.3 312.7 1350 314C1356.7 315.3 1363.3 316.3 1370 318C1376.7 319.7 1384.3 322.3 1390 324C1395.7 325.7 1399 324.7 1404 328C1409 331.3 1415.7 338.7 1420 344C1424.3 349.3 1426.7 355.3 1430 360C1433.3 364.7 1436.3 369 1440 372C1443.7 375 1445.3 375.7 1452 378C1458.7 380.3 1468.7 383.8 1480 386C1491.3 388.2 1494.7 389.3 1520 391C1545.3 392.7 1613 395.2 1631.6 396" fill="none" stroke="#fb8fc0" stroke-width="3.4" opacity="0.9"/><path d="M1274.4 276C1277 276.7 1284.1 278.3 1290 280C1295.9 281.7 1303.3 284.7 1310 286C1316.7 287.3 1323.3 287 1330 288C1336.7 289 1343.3 290.3 1350 292C1356.7 293.7 1363.3 295.3 1370 298C1376.7 300.7 1384.3 304.3 1390 308C1395.7 311.7 1399 315.3 1404 320C1409 324.7 1415.3 330 1420 336C1424.7 342 1428 350.3 1432 356C1436 361.7 1439.3 366.7 1444 370C1448.7 373.3 1450.7 373.3 1460 376C1469.3 378.7 1471.4 383 1500 386C1528.6 389 1609.7 392.7 1631.6 394L1631.6 398C1609.7 397 1528.6 394 1500 392C1471.4 390 1469.3 387.7 1460 386C1450.7 384.3 1448.7 384.7 1444 382C1439.3 379.3 1436 374.7 1432 370C1428 365.3 1424.7 359 1420 354C1415.3 349 1409 342 1404 340C1399 338 1395.3 340.7 1390 342C1384.7 343.3 1377.7 347.7 1372 348C1366.3 348.3 1360.7 346 1356 344C1351.3 342 1348.3 338 1344 336C1339.7 334 1335.7 332.2 1330 332C1324.3 331.8 1316.7 334.3 1310 335C1303.3 335.7 1295.9 333.8 1290 336C1284.1 338.2 1277 346 1274.4 348Z" fill="#fbb4d4" opacity="0.5"/><path d="M1274.4 316C1276 315.3 1281.1 312.3 1284 312C1286.9 311.7 1289.3 313.8 1292 314C1294.7 314.2 1296.7 313.7 1300 313C1303.3 312.3 1308 310.2 1312 310C1316 309.8 1320.7 311 1324 312C1327.3 313 1329.3 315.2 1332 316C1334.7 316.8 1337.3 317.2 1340 317C1342.7 316.8 1345.3 314.8 1348 315C1350.7 315.2 1353.3 316.5 1356 318C1358.7 319.5 1361.3 322.3 1364 324C1366.7 325.7 1369.3 327.2 1372 328C1374.7 328.8 1377.3 329.3 1380 329C1382.7 328.7 1384.7 326.2 1388 326C1391.3 325.8 1396 326.3 1400 328C1404 329.7 1408.7 332.7 1412 336C1415.3 339.3 1417.3 343.7 1420 348C1422.7 352.3 1425.3 358 1428 362C1430.7 366 1433.3 369.3 1436 372C1438.7 374.7 1440.7 376.5 1444 378C1447.3 379.5 1451.7 380 1456 381C1460.3 382 1466 383 1470 384C1474 385 1476.3 386.1 1480 387C1483.7 387.9 1485.3 388.9 1492 389.6C1498.7 390.3 1508.7 390.3 1520 391C1531.3 391.7 1541.4 393 1560 394C1578.6 395 1619.7 396.5 1631.6 397" fill="none" stroke="#ea3a8c" stroke-width="3.6" opacity="0.95"/><path d="M1274.4 306C1276 305.3 1281.1 302.3 1284 302C1286.9 301.7 1289.3 303.8 1292 304C1294.7 304.2 1296.7 303.7 1300 303C1303.3 302.3 1308 300.2 1312 300C1316 299.8 1320.7 301 1324 302C1327.3 303 1329.3 305.2 1332 306C1334.7 306.8 1337.3 307.2 1340 307C1342.7 306.8 1345.3 304.8 1348 305C1350.7 305.2 1353.3 306.5 1356 308C1358.7 309.5 1361.3 312.3 1364 314C1366.7 315.7 1369.3 317.2 1372 318C1374.7 318.8 1377.3 319.3 1380 319C1382.7 318.7 1384.7 316.2 1388 316C1391.3 315.8 1396 316.3 1400 318C1404 319.7 1408.7 322.7 1412 326C1415.3 329.3 1417.3 333.7 1420 338C1422.7 342.3 1425.3 348 1428 352C1430.7 356 1433.3 358.3 1436 362C1438.7 365.7 1440.7 371.5 1444 374C1447.3 376.5 1451.7 376 1456 377C1460.3 378 1466 379 1470 380C1474 381 1476.3 382.1 1480 383C1483.7 383.9 1485.3 384.9 1492 385.6C1498.7 386.3 1508.7 386.3 1520 387C1531.3 387.7 1541.4 389 1560 390C1578.6 391 1619.7 392.5 1631.6 393L1631.6 401C1619.7 400.5 1578.6 399 1560 398C1541.4 397 1531.3 395.7 1520 395C1508.7 394.3 1498.7 394.3 1492 393.6C1485.3 392.9 1483.7 391.9 1480 391C1476.3 390.1 1474 389 1470 388C1466 387 1460.3 386 1456 385C1451.7 384 1447.3 382.5 1444 382C1440.7 381.5 1438.7 383.7 1436 382C1433.3 380.3 1430.7 376 1428 372C1425.3 368 1422.7 362.3 1420 358C1417.3 353.7 1415.3 349.3 1412 346C1408.7 342.7 1404 339.7 1400 338C1396 336.3 1391.3 335.8 1388 336C1384.7 336.2 1382.7 338.7 1380 339C1377.3 339.3 1374.7 338.8 1372 338C1369.3 337.2 1366.7 335.7 1364 334C1361.3 332.3 1358.7 329.5 1356 328C1353.3 326.5 1350.7 325.2 1348 325C1345.3 324.8 1342.7 326.8 1340 327C1337.3 327.2 1334.7 326.8 1332 326C1329.3 325.2 1327.3 323 1324 322C1320.7 321 1316 319.8 1312 320C1308 320.2 1303.3 322.3 1300 323C1296.7 323.7 1294.7 324.2 1292 324C1289.3 323.8 1286.9 321.7 1284 322C1281.1 322.3 1276 325.3 1274.4 326Z" fill="#e8559a" opacity="0.3"/><path d="M1274.4 306C1277 305.2 1284.1 302 1290 301C1295.9 300 1303.3 299.7 1310 300C1316.7 300.3 1324.3 301.3 1330 303C1335.7 304.7 1340 307.5 1344 310C1348 312.5 1351.3 315 1354 318C1356.7 321 1357.7 325.2 1360 328C1362.3 330.8 1364.7 333.2 1368 335C1371.3 336.8 1374.7 338.3 1380 339C1385.3 339.7 1394.7 339.2 1400 339C1405.3 338.8 1407.7 337.5 1412 338C1416.3 338.5 1422 340 1426 342C1430 344 1432 347 1436 350C1440 353 1444.3 356.3 1450 360C1455.7 363.7 1463.3 368.7 1470 372C1476.7 375.3 1481.7 377.5 1490 380C1498.3 382.5 1508.3 385.2 1520 387C1531.7 388.8 1546.7 390.1 1560 391C1573.3 391.9 1588.1 392.1 1600 392.4C1611.9 392.7 1626.3 392.9 1631.6 393" fill="none" stroke="#6e6e6e" stroke-width="3.8" opacity="0.95"/><path d="M1274.4 294C1277 292 1285.7 284.5 1290 282C1294.3 279.5 1295 279 1300 279C1305 279 1314.3 281.8 1320 282C1325.7 282.2 1329.7 279 1334 280C1338.3 281 1342.3 284.7 1346 288C1349.7 291.3 1352.3 295.7 1356 300C1359.7 304.3 1364 310.7 1368 314C1372 317.3 1374.7 318 1380 320C1385.3 322 1394.7 325 1400 326C1405.3 327 1408.7 326.7 1412 326C1415.3 325.3 1417.3 322.5 1420 322C1422.7 321.5 1424.7 321 1428 323C1431.3 325 1436 329.5 1440 334C1444 338.5 1447 345 1452 350C1457 355 1462 359.3 1470 364C1478 368.7 1488.3 374.3 1500 378C1511.7 381.7 1530 385 1540 386C1550 387 1553.3 383.7 1560 384C1566.7 384.3 1568.1 387 1580 388C1591.9 389 1623 389.7 1631.6 390L1631.6 396C1616.3 395.3 1561.9 393.5 1540 392C1518.1 390.5 1511.7 389 1500 387C1488.3 385 1478.3 382.8 1470 380C1461.7 377.2 1456.7 373.7 1450 370C1443.3 366.3 1435 360.7 1430 358C1425 355.3 1425 354.3 1420 354C1415 353.7 1406.7 356.3 1400 356C1393.3 355.7 1386 353.7 1380 352C1374 350.3 1368.7 348.7 1364 346C1359.3 343.3 1356 339.3 1352 336C1348 332.7 1345.3 328.7 1340 326C1334.7 323.3 1326.7 321.3 1320 320C1313.3 318.7 1307.6 318 1300 318C1292.4 318 1278.7 319.7 1274.4 320Z" fill="#9a9a9a" opacity="0.45"/><path d="M1274.5 98L1274.5 411.5" stroke="#111" stroke-width="2" fill="none" /><path d="M1265.5 401.5L1633 401.5" stroke="#111" stroke-width="2" fill="none" /><path d="M1265.5 98.7L1274.5 98.7" stroke="#111" stroke-width="2" fill="none" /><text x="1260" y="107.7" font-size="26.5" text-anchor="end" fill="#111" >0.8</text><path d="M1265.5 174.4L1274.5 174.4" stroke="#111" stroke-width="2" fill="none" /><text x="1260" y="183.4" font-size="26.5" text-anchor="end" fill="#111" >0.6</text><path d="M1265.5 250.2L1274.5 250.2" stroke="#111" stroke-width="2" fill="none" /><text x="1260" y="259.2" font-size="26.5" text-anchor="end" fill="#111" >0.4</text><path d="M1265.5 326L1274.5 326" stroke="#111" stroke-width="2" fill="none" /><text x="1260" y="335" font-size="26.5" text-anchor="end" fill="#111" >0.2</text><path d="M1265.5 401.5L1274.5 401.5" stroke="#111" stroke-width="2" fill="none" /><text x="1260" y="410.5" font-size="26.5" text-anchor="end" fill="#111" >0</text><path d="M1274.5 401.5L1274.5 411.5" stroke="#111" stroke-width="2" fill="none" /><text x="1278.5" y="445" font-size="26.5" text-anchor="middle" fill="#111" >0.5</text><path d="M1329.5 401.5L1329.5 411.5" stroke="#111" stroke-width="2" fill="none" /><text x="1329" y="445" font-size="26.5" text-anchor="middle" fill="#111" >4</text><path d="M1398 401.5L1398 411.5" stroke="#111" stroke-width="2" fill="none" /><text x="1404.5" y="445" font-size="26.5" text-anchor="middle" fill="#111" >8</text><path d="M1467.3 401.5L1467.3 411.5" stroke="#111" stroke-width="2" fill="none" /><text x="1469.8" y="445" font-size="26.5" text-anchor="middle" fill="#111" >12</text><path d="M1632 401.5L1632 411.5" stroke="#111" stroke-width="2" fill="none" /><text x="1635" y="445" font-size="26.5" text-anchor="middle" fill="#111" >20</text><text x="1444" y="487" font-size="26.5" text-anchor="middle" fill="#111" >Frequency(Hz)</text><text transform="translate(1201 250.7) rotate(-90)" font-size="26.5" text-anchor="middle" fill="#111" >Power<tspan dx="-5">（</tspan>μV²/Hz)</text><path d="M1487 112.5L1506 112.5" stroke="#6e6e6e" stroke-width="4.4" fill="none" /><text x="1530.5" y="121.5" font-size="26.5" text-anchor="start" fill="#111" >Pre</text><path d="M1487 152.5L1506 152.5" stroke="#fb8fc0" stroke-width="4.4" fill="none" /><text x="1527.5" y="161.5" font-size="26.5" text-anchor="start" fill="#111" >SNI 3h</text><path d="M1487 192.5L1506 192.5" stroke="#ea3a8c" stroke-width="4.4" fill="none" /><text x="1527.5" y="201.5" font-size="26.5" text-anchor="start" fill="#111" >SNI 1d</text><path d="M1487 232.5L1506 232.5" stroke="#ed1c24" stroke-width="4.4" fill="none" /><text x="1527.5" y="241.5" font-size="26.5" text-anchor="start" fill="#111" >SNI 3d</text><rect x="1812" y="316.2" width="20" height="84.2" fill="#666666"/><path d="M1822 316.2L1822 301" stroke="#111" stroke-width="1.8" fill="none" /><path d="M1817 301L1827 301" stroke="#111" stroke-width="1.8" fill="none" /><rect x="1856.3" y="296.6" width="19.8" height="103.8" fill="#fd99c8"/><path d="M1866.2 296.6L1866.2 272" stroke="#111" stroke-width="1.8" fill="none" /><path d="M1861.2 272L1871.2 272" stroke="#111" stroke-width="1.8" fill="none" /><rect x="1900.4" y="301.8" width="19.9" height="98.6" fill="#ec2d7a"/><path d="M1910.4 301.8L1910.4 286.9" stroke="#111" stroke-width="1.8" fill="none" /><path d="M1905.4 286.9L1915.4 286.9" stroke="#111" stroke-width="1.8" fill="none" /><rect x="1944.4" y="212.1" width="20" height="188.3" fill="#ed1c24"/><path d="M1954.4 212.1L1954.4 188.8" stroke="#111" stroke-width="1.8" fill="none" /><path d="M1949.4 188.8L1959.4 188.8" stroke="#111" stroke-width="1.8" fill="none" /><circle cx="1822.3" cy="258.6" r="5.3" fill="none" stroke="#a3a3a3" stroke-width="2.5"/><circle cx="1822.3" cy="294.6" r="5.3" fill="none" stroke="#a3a3a3" stroke-width="2.5"/><circle cx="1822.3" cy="300.2" r="5.3" fill="none" stroke="#a3a3a3" stroke-width="2.5"/><circle cx="1822.3" cy="333.4" r="5.3" fill="none" stroke="#a3a3a3" stroke-width="2.5"/><circle cx="1822.3" cy="361.7" r="5.3" fill="none" stroke="#a3a3a3" stroke-width="2.5"/><circle cx="1866.3" cy="178.3" r="5.3" fill="none" stroke="#a3a3a3" stroke-width="2.5"/><circle cx="1866.3" cy="285.8" r="5.3" fill="none" stroke="#a3a3a3" stroke-width="2.5"/><circle cx="1866.3" cy="319" r="5.3" fill="none" stroke="#a3a3a3" stroke-width="2.5"/><circle cx="1866.3" cy="327.9" r="5.3" fill="none" stroke="#a3a3a3" stroke-width="2.5"/><circle cx="1866.3" cy="334.3" r="5.3" fill="none" stroke="#a3a3a3" stroke-width="2.5"/><circle cx="1910.1" cy="235.7" r="5.3" fill="none" stroke="#a3a3a3" stroke-width="2.5"/><circle cx="1910.1" cy="286.3" r="5.3" fill="none" stroke="#a3a3a3" stroke-width="2.5"/><circle cx="1910.1" cy="296" r="5.3" fill="none" stroke="#a3a3a3" stroke-width="2.5"/><circle cx="1910.1" cy="318.7" r="5.3" fill="none" stroke="#a3a3a3" stroke-width="2.5"/><circle cx="1910.1" cy="330.1" r="5.3" fill="none" stroke="#a3a3a3" stroke-width="2.5"/><circle cx="1954.1" cy="139.5" r="5.3" fill="none" stroke="#a3a3a3" stroke-width="2.5"/><circle cx="1954.1" cy="154.2" r="5.3" fill="none" stroke="#a3a3a3" stroke-width="2.5"/><circle cx="1954.1" cy="199.6" r="5.3" fill="none" stroke="#a3a3a3" stroke-width="2.5"/><circle cx="1954.1" cy="228.2" r="5.3" fill="none" stroke="#a3a3a3" stroke-width="2.5"/><circle cx="1954.1" cy="266.9" r="5.3" fill="none" stroke="#a3a3a3" stroke-width="2.5"/><circle cx="1954.1" cy="271.1" r="5.3" fill="none" stroke="#a3a3a3" stroke-width="2.5"/><path d="M1789.6 99L1789.6 401.4" stroke="#111" stroke-width="2" fill="none" /><path d="M1780.1 400.4L1999 400.4" stroke="#111" stroke-width="2" fill="none" /><path d="M1780.1 99.9L1789.6 99.9" stroke="#111" stroke-width="2" fill="none" /><text x="1774" y="111.1" font-size="26.5" text-anchor="end" fill="#111" >0.6</text><path d="M1780.1 200.5L1789.6 200.5" stroke="#111" stroke-width="2" fill="none" /><text x="1774" y="206.5" font-size="26.5" text-anchor="end" fill="#111" >0.4</text><path d="M1780.1 300.5L1789.6 300.5" stroke="#111" stroke-width="2" fill="none" /><text x="1774" y="309.8" font-size="26.5" text-anchor="end" fill="#111" >0.2</text><path d="M1780.1 400.4L1789.6 400.4" stroke="#111" stroke-width="2" fill="none" /><text x="1774" y="406.9" font-size="26.5" text-anchor="end" fill="#111" >0</text><path d="M1820.7 400.4L1820.7 408.9" stroke="#111" stroke-width="2" fill="none" /><path d="M1864.5 400.4L1864.5 408.9" stroke="#111" stroke-width="2" fill="none" /><path d="M1908.8 400.4L1908.8 408.9" stroke="#111" stroke-width="2" fill="none" /><path d="M1953 400.4L1953 408.9" stroke="#111" stroke-width="2" fill="none" /><text x="1953" y="124" font-size="34" text-anchor="middle" fill="#111" >**</text><text x="1865.5" y="437.5" font-size="26.5" text-anchor="middle" fill="#111" >3h</text><text x="1909.5" y="437.5" font-size="26.5" text-anchor="middle" fill="#111" >1d</text><text x="1954" y="437.5" font-size="26.5" text-anchor="middle" fill="#111" >3d</text><path d="M1851 450.6L1969.6 450.6" stroke="#111" stroke-width="1.8" fill="none" /><text x="1910.6" y="483.3" font-size="26.5" text-anchor="middle" fill="#111" >SNI</text><text transform="translate(1831 433.5) rotate(-45)" font-size="26.5" text-anchor="end" fill="#111" >Pre</text><text transform="translate(1684 264) rotate(-90)" font-size="26.5" text-anchor="middle" fill="#111" >4-8 Hz</text><text transform="translate(1713 264) rotate(-90)" font-size="26.5" text-anchor="middle" fill="#111" >Mean power (μV²/Hz)</text><path d="M164.4 628.6L164.4 944.5" stroke="#111" stroke-width="2" fill="none" /><path d="M155.4 933.5L468.3 933.5" stroke="#111" stroke-width="2" fill="none" /><path d="M155.4 629.6L164.4 629.6" stroke="#111" stroke-width="2" fill="none" /><text x="149" y="639.1" font-size="26.5" text-anchor="end" fill="#111" >0.6</text><path d="M155.4 730.7L164.4 730.7" stroke="#111" stroke-width="2" fill="none" /><text x="149" y="740.2" font-size="26.5" text-anchor="end" fill="#111" >0.4</text><path d="M155.4 832.1L164.4 832.1" stroke="#111" stroke-width="2" fill="none" /><text x="149" y="841.6" font-size="26.5" text-anchor="end" fill="#111" >0.2</text><path d="M155.4 933.5L164.4 933.5" stroke="#111" stroke-width="2" fill="none" /><text x="149" y="943" font-size="26.5" text-anchor="end" fill="#111" >0</text><path d="M164.4 933.5L164.4 944.5" stroke="#111" stroke-width="2" fill="none" /><text x="164.4" y="971.2" font-size="26.5" text-anchor="middle" fill="#111" >0.0</text><path d="M265.2 933.5L265.2 944.5" stroke="#111" stroke-width="2" fill="none" /><text x="265.2" y="971.2" font-size="26.5" text-anchor="middle" fill="#111" >0.5</text><path d="M366.6 933.5L366.6 944.5" stroke="#111" stroke-width="2" fill="none" /><text x="366.6" y="971.2" font-size="26.5" text-anchor="middle" fill="#111" >1.0</text><path d="M467.3 933.5L467.3 944.5" stroke="#111" stroke-width="2" fill="none" /><text x="467.3" y="971.2" font-size="26.5" text-anchor="middle" fill="#111" >1.5</text><text x="316" y="1013" font-size="26.5" text-anchor="middle" fill="#111" >50% PWT</text><text transform="translate(57 781.6) rotate(-90)" font-size="26.5" text-anchor="middle" fill="#111" >4-8 Hz</text><text transform="translate(89.7 782) rotate(-90)" font-size="26.5" text-anchor="middle" fill="#111" >Mean power<tspan dx="-5">（</tspan>μV²/Hz)</text><circle cx="357.7" cy="790.5" r="5.2" fill="none" stroke="#6e6e6e" stroke-width="2.6"/><circle cx="380.1" cy="803.7" r="5.2" fill="none" stroke="#6e6e6e" stroke-width="2.6"/><circle cx="380.1" cy="824.3" r="5.2" fill="none" stroke="#6e6e6e" stroke-width="2.6"/><circle cx="408.6" cy="828.9" r="5.2" fill="none" stroke="#6e6e6e" stroke-width="2.6"/><circle cx="408.6" cy="836.1" r="5.2" fill="none" stroke="#6e6e6e" stroke-width="2.6"/><circle cx="437.1" cy="840.7" r="5.2" fill="none" stroke="#6e6e6e" stroke-width="2.6"/><circle cx="363.8" cy="848.2" r="5.2" fill="none" stroke="#6e6e6e" stroke-width="2.6"/><circle cx="357.7" cy="860.6" r="5.2" fill="none" stroke="#6e6e6e" stroke-width="2.6"/><circle cx="232.1" cy="809" r="5.2" fill="none" stroke="#fb95c4" stroke-width="2.6"/><circle cx="245.6" cy="821.8" r="5.2" fill="none" stroke="#fb95c4" stroke-width="2.6"/><circle cx="278.7" cy="836.8" r="5.2" fill="none" stroke="#fb95c4" stroke-width="2.6"/><circle cx="305" cy="839.3" r="5.2" fill="none" stroke="#fb95c4" stroke-width="2.6"/><circle cx="339.9" cy="848.2" r="5.2" fill="none" stroke="#fb95c4" stroke-width="2.6"/><circle cx="357.7" cy="826.1" r="5.2" fill="none" stroke="#fb95c4" stroke-width="2.6"/><circle cx="380.1" cy="856.7" r="5.2" fill="none" stroke="#fb95c4" stroke-width="2.6"/><circle cx="246.7" cy="858.1" r="5.2" fill="none" stroke="#fb95c4" stroke-width="2.6"/><circle cx="192.2" cy="808.3" r="5.2" fill="none" stroke="#ec5fa0" stroke-width="2.6"/><circle cx="215.7" cy="807.2" r="5.2" fill="none" stroke="#ec5fa0" stroke-width="2.6"/><circle cx="245.6" cy="814" r="5.2" fill="none" stroke="#ec5fa0" stroke-width="2.6"/><circle cx="278.7" cy="831.4" r="5.2" fill="none" stroke="#ec5fa0" stroke-width="2.6"/><circle cx="295.4" cy="830.4" r="5.2" fill="none" stroke="#ec5fa0" stroke-width="2.6"/><circle cx="339.9" cy="841.4" r="5.2" fill="none" stroke="#ec5fa0" stroke-width="2.6"/><circle cx="232.1" cy="854.6" r="5.2" fill="none" stroke="#ec5fa0" stroke-width="2.6"/><circle cx="253.8" cy="856.3" r="5.2" fill="none" stroke="#ec5fa0" stroke-width="2.6"/><circle cx="185.1" cy="720.4" r="5.2" fill="none" stroke="#e8202a" stroke-width="2.6"/><circle cx="192.2" cy="726.4" r="5.2" fill="none" stroke="#e8202a" stroke-width="2.6"/><circle cx="192.2" cy="743.5" r="5.2" fill="none" stroke="#e8202a" stroke-width="2.6"/><circle cx="215.7" cy="746.4" r="5.2" fill="none" stroke="#e8202a" stroke-width="2.6"/><circle cx="222.1" cy="749.9" r="5.2" fill="none" stroke="#e8202a" stroke-width="2.6"/><circle cx="278.7" cy="756" r="5.2" fill="none" stroke="#e8202a" stroke-width="2.6"/><circle cx="215.7" cy="781.6" r="5.2" fill="none" stroke="#e8202a" stroke-width="2.6"/><circle cx="222.1" cy="777" r="5.2" fill="none" stroke="#e8202a" stroke-width="2.6"/><path d="M185.1 777L437.1 858.5" stroke="#111" stroke-width="2" fill="none" /><circle cx="195" cy="603.6" r="5.2" fill="none" stroke="#6e6e6e" stroke-width="2.6"/><text x="215.3" y="612.1" font-size="26.5" text-anchor="start" fill="#111" >Pre</text><circle cx="354.1" cy="603.6" r="5.2" fill="none" stroke="#fb95c4" stroke-width="2.6"/><text x="374.4" y="612.1" font-size="26.5" text-anchor="start" fill="#111" >SNI 3h</text><circle cx="195" cy="644.6" r="5.2" fill="none" stroke="#ec5fa0" stroke-width="2.6"/><text x="215.3" y="653.1" font-size="26.5" text-anchor="start" fill="#111" >SNI 1d</text><circle cx="354.1" cy="644.6" r="5.2" fill="none" stroke="#e8202a" stroke-width="2.6"/><text x="374.4" y="653.1" font-size="26.5" text-anchor="start" fill="#111" >SNI 3d</text><text x="180.5" y="915.2" font-size="26.3" fill="#222"><tspan font-style="italic">R</tspan><tspan font-size="15" dy="-9" dx="-2">2</tspan><tspan dy="9"> = 0.3612, </tspan><tspan font-style="italic">P</tspan> = 0.0003</text><rect x="561" y="591.5" width="222" height="203.7" fill="#072607"/><rect x="561" y="591.5" width="222" height="203.7" filter="url(#gn0)"/><rect x="789" y="593" width="222" height="202.2" fill="#072607"/><rect x="789" y="593" width="222" height="202.2" filter="url(#gn1)"/><rect x="1018.6" y="593" width="222" height="202.2" fill="#072607"/><rect x="1018.6" y="593" width="222" height="202.2" filter="url(#gn2)"/><rect x="1250" y="593" width="221.3" height="202.2" fill="#072607"/><rect x="1250" y="593" width="221.3" height="202.2" filter="url(#gn3)"/><clipPath id="ic0"><rect x="561" y="591.5" width="222" height="203.7"/></clipPath><clipPath id="ic1"><rect x="789" y="593" width="222" height="202.2"/></clipPath><clipPath id="ic2"><rect x="1018.6" y="593" width="222" height="202.2"/></clipPath><clipPath id="ic3"><rect x="1250" y="593" width="221.3" height="202.2"/></clipPath><g clip-path="url(#ic0)"><ellipse cx="695.1" cy="646.1" rx="11" ry="13" fill="#2a9c34" opacity="0.9" filter="url(#cb2)"/><ellipse cx="759.6" cy="653.6" rx="8" ry="8" fill="#2a9c34" opacity="0.75" filter="url(#cb2)"/><ellipse cx="692.1" cy="619" rx="3" ry="10" fill="#1a6020" opacity="0.8" filter="url(#cb2)"/><ellipse cx="613.4" cy="719.6" rx="6.5" ry="8.5" fill="#3fd64c" fill-opacity="0.3" stroke="#3fd64c" stroke-width="2.6" filter="url(#cb1)"/><ellipse cx="717" cy="773.6" rx="9" ry="7.5" fill="#3fd64c" fill-opacity="0.25" stroke="#3fd64c" stroke-width="2.6" filter="url(#cb1)"/><ellipse cx="668.1" cy="706.7" rx="5.5" ry="8.5" fill="#26802e" fill-opacity="0.1" stroke="#26802e" stroke-width="2" filter="url(#cb1)"/><ellipse cx="700.5" cy="712.1" rx="7" ry="6" fill="#1b5e24" fill-opacity="0.05" stroke="#1b5e24" stroke-width="1.6" filter="url(#cb1)"/><ellipse cx="755.1" cy="727.1" rx="7" ry="7" fill="#1b5e24" fill-opacity="0.05" stroke="#1b5e24" stroke-width="1.5" filter="url(#cb1)"/><ellipse cx="639.6" cy="598.6" rx="6" ry="5" fill="#1b5e24" fill-opacity="0.1" stroke="#1b5e24" stroke-width="1.5" filter="url(#cb1)"/><path d="M611 729.2C608 742.1 596 748.1 585.5 746.6" stroke="#1f7a28" stroke-width="1.5" fill="none" filter="url(#cb1)"/><ellipse cx="683.1" cy="791.6" rx="10" ry="6" fill="#227e2a" opacity="0.7" filter="url(#cb2)"/><ellipse cx="566.6" cy="702.5" rx="5" ry="3" fill="#227e2a" opacity="0.8" filter="url(#cb2)"/><ellipse cx="771.6" cy="749.6" rx="3" ry="3" fill="#2a9c34" opacity="0.8" filter="url(#cb2)"/></g><g clip-path="url(#ic1)"><ellipse cx="915.7" cy="647.6" rx="12" ry="14" fill="#2a9c34" opacity="0.9" filter="url(#cb2)"/><ellipse cx="977.8" cy="659.6" rx="10" ry="9" fill="#2a9c34" opacity="0.9" filter="url(#cb2)"/><ellipse cx="866.1" cy="653.6" rx="3" ry="3.5" fill="#3fd848" opacity="1" filter="url(#cb2)"/><ellipse cx="854.1" cy="601.6" rx="8" ry="6" fill="#227e2a" opacity="0.7" filter="url(#cb2)"/><ellipse cx="1004.8" cy="634" rx="5" ry="7" fill="#227e2a" opacity="0.7" filter="url(#cb2)"/><ellipse cx="886.3" cy="710" rx="7.5" ry="9.5" fill="#3fd64c" fill-opacity="0.3" stroke="#3fd64c" stroke-width="3" filter="url(#cb1)"/><ellipse cx="916.6" cy="712.1" rx="8" ry="7" fill="#30ac3a" fill-opacity="0.15" stroke="#30ac3a" stroke-width="2" filter="url(#cb1)"/><ellipse cx="935.8" cy="776.6" rx="9" ry="8.5" fill="#3fd64c" fill-opacity="0.3" stroke="#3fd64c" stroke-width="3.2" filter="url(#cb1)"/><ellipse cx="839.1" cy="662.6" rx="9" ry="8" fill="#1b5e24" fill-opacity="0.1" stroke="#1b5e24" stroke-width="1.6" filter="url(#cb1)"/><ellipse cx="972.7" cy="730.1" rx="8" ry="9" fill="#1b5e24" fill-opacity="0.1" stroke="#1b5e24" stroke-width="1.6" filter="url(#cb1)"/><ellipse cx="920.2" cy="791.6" rx="12" ry="6" fill="#227e2a" opacity="0.6" filter="url(#cb2)"/></g><g clip-path="url(#ic2)"><ellipse cx="1151.6" cy="649.1" rx="10" ry="11" fill="#227e2a" opacity="0.9" filter="url(#cb2)"/><ellipse cx="1068.4" cy="723.5" rx="6" ry="8" fill="#2a9c34" opacity="0.95" filter="url(#cb2)"/><ellipse cx="1173.5" cy="776.6" rx="9" ry="8.5" fill="#3fd848" opacity="1" filter="url(#cb2)"/><ellipse cx="1025.5" cy="733.1" rx="5" ry="1.5" fill="#2a9c34" opacity="0.9" filter="url(#cb2)"/><ellipse cx="1147.1" cy="791.6" rx="9" ry="5" fill="#227e2a" opacity="0.6" filter="url(#cb2)"/><ellipse cx="1173.5" cy="776.6" rx="8.5" ry="8" fill="#3fd64c" fill-opacity="0.6" stroke="#3fd64c" stroke-width="3" filter="url(#cb1)"/><ellipse cx="1202.6" cy="656.6" rx="9" ry="10" fill="#1b5e24" fill-opacity="0.15" stroke="#1b5e24" stroke-width="1.8" filter="url(#cb1)"/><ellipse cx="1154.6" cy="713.6" rx="7.5" ry="8" fill="#26802e" fill-opacity="0.1" stroke="#26802e" stroke-width="1.6" filter="url(#cb1)"/><ellipse cx="1036" cy="775.1" rx="6" ry="6" fill="#1a6020" opacity="0.0" filter="url(#cb2)"/></g><g clip-path="url(#ic3)"><ellipse cx="1322.6" cy="604" rx="11" ry="11" fill="#2a9c34" opacity="0.8" filter="url(#cb2)"/><ellipse cx="1381.8" cy="649.1" rx="11" ry="15" fill="#2a9c34" opacity="0.8" filter="url(#cb2)"/><ellipse cx="1447.8" cy="659.6" rx="11" ry="10" fill="#2a9c34" opacity="0.95" filter="url(#cb2)"/><ellipse cx="1385.7" cy="713.6" rx="9" ry="8" fill="#227e2a" opacity="0.8" filter="url(#cb2)"/><ellipse cx="1399.2" cy="775.7" rx="9.5" ry="8" fill="#3fd64c" fill-opacity="0.3" stroke="#3fd64c" stroke-width="3.2" filter="url(#cb1)"/><ellipse cx="1441.2" cy="733.1" rx="8" ry="10" fill="#1b5e24" fill-opacity="0.1" stroke="#1b5e24" stroke-width="1.5" filter="url(#cb1)"/><ellipse cx="1302.5" cy="718.7" rx="6" ry="9" fill="#1b5e24" fill-opacity="0.1" stroke="#1b5e24" stroke-width="1.5" filter="url(#cb1)"/><ellipse cx="1256.6" cy="703.1" rx="3" ry="4" fill="#2a9c34" opacity="0.7" filter="url(#cb2)"/><ellipse cx="1280.6" cy="712.1" rx="3" ry="2.5" fill="#2a9c34" opacity="0.7" filter="url(#cb2)"/></g><rect x="1433.7" y="776" width="33.6" height="4.2" fill="#fff"/><path transform="translate(598.4 721.1) rotate(0)" d="M0 0L-15 -8.3L-10.5 -1.9H-19V1.9H-10.5L-15 8.3Z" fill="#fff"/><text x="569" y="734.6" font-size="22" text-anchor="middle" fill="#fff" >1</text><path transform="translate(711.6 654.2) rotate(-142)" d="M0 0L-15 -8.3L-10.5 -1.9H-19V1.9H-10.5L-15 8.3Z" fill="#fff"/><text x="733.5" y="683" font-size="22" text-anchor="middle" fill="#fff" >2</text><path transform="translate(651 615.4) rotate(-128)" d="M0 0L-15 -8.3L-10.5 -1.9H-19V1.9H-10.5L-15 8.3Z" fill="#fff"/><text x="667.5" y="652.1" font-size="22" text-anchor="middle" fill="#fff" >3</text><path transform="translate(701.7 775.1) rotate(0)" d="M0 0L-15 -8.3L-10.5 -1.9H-19V1.9H-10.5L-15 8.3Z" fill="#fff"/><text x="673.2" y="782.6" font-size="22" text-anchor="middle" fill="#fff" >4</text><path transform="translate(708.6 719.6) rotate(-135)" d="M0 0L-15 -8.3L-10.5 -1.9H-19V1.9H-10.5L-15 8.3Z" fill="#fff"/><text x="727.5" y="750.2" font-size="22" text-anchor="middle" fill="#fff" >5</text><path transform="translate(674.7 720.5) rotate(-90)" d="M0 0L-15 -8.3L-10.5 -1.9H-19V1.9H-10.5L-15 8.3Z" fill="#fff"/><text x="675" y="760.1" font-size="22" text-anchor="middle" fill="#fff" >6</text><path transform="translate(763.5 736.1) rotate(-155)" d="M0 0L-15 -8.3L-10.5 -1.9H-19V1.9H-10.5L-15 8.3Z" fill="#fff"/><text x="772.5" y="772.7" font-size="22" text-anchor="middle" fill="#fff" >7</text><text x="674.7" y="579.3" font-size="26.5" text-anchor="middle" fill="#111" >Pre</text><text x="901.6" y="579.3" font-size="26.5" text-anchor="middle" fill="#111" >SNI 3h</text><text x="1130" y="579.3" font-size="26.5" text-anchor="middle" fill="#111" >SNI 1d</text><text x="1370" y="579.3" font-size="26.5" text-anchor="middle" fill="#111" >SNI 3d</text><text x="554.5" y="854" font-size="20" text-anchor="middle" fill="#111" >1</text><text x="554.5" y="877.5" font-size="20" text-anchor="middle" fill="#111" >2</text><text x="554.5" y="901" font-size="20" text-anchor="middle" fill="#111" >3</text><text x="554.5" y="925" font-size="20" text-anchor="middle" fill="#111" >4</text><text x="554.5" y="948.5" font-size="20" text-anchor="middle" fill="#111" >5</text><text x="554.5" y="972.5" font-size="20" text-anchor="middle" fill="#111" >6</text><text x="554.5" y="996.5" font-size="20" text-anchor="middle" fill="#111" >7</text><path d="M566 851.6L567.9 849.3L569.7 851.1L571.6 853.2L573.5 851.3L575.4 851.3L577.2 851L579.1 852.4L581 852.2L582.9 851.6L584.7 854.5L586.6 855.6L588.5 856.2L590.3 852.5L592.2 852.4L594.1 849.6L596 850.4L597.8 852.9L599.7 851.7L601.6 852.6L603.4 852.1L605.3 852.7L607.2 854.2L609.1 854.4L610.9 853.6L612.8 851.2L614.7 851.3L616.6 853.1L618.4 851.6L620.3 854.7L622.2 851.6L624 854.5L625.9 854.7L627.8 853.4L629.7 841.8L631.5 828.3L633.4 833.9L635.3 839.1L637.2 842.1L639 843.7L640.9 846.5L642.8 849.9L644.6 849.4L646.5 849.7L648.4 850.3L650.3 849.9L652.1 847.8L654 851.5L655.9 853.4L657.7 852.9L659.6 852.1L661.5 852.9L663.4 852L665.2 851.9L667.1 849.4L669 850.1L670.9 849L672.7 850.2L674.6 852.1L676.5 852.5L678.3 854.9L680.2 851.9L682.1 853.1L684 852.1L685.8 851.1L687.7 852L689.6 853.4L691.5 849.9L693.3 851.6L695.2 852L697.1 853.5L698.9 854.3L700.8 854.3L702.7 851.6L704.6 850.7L706.4 848.6L708.3 852.5L710.2 850.6L712 849.7L713.9 851.5L715.8 851.6L717.7 851L719.5 850.7L721.4 849.7L723.3 852.8L725.2 853.9L727 853.5L728.9 853.2L730.8 853.6L732.6 853.3L734.5 853.5L736.4 855.3L738.3 853.7L740.1 852.8L742 851.1L743.9 851L745.8 851.3L747.6 852.2L749.5 850.9L751.4 849.1L753.2 850.9L755.1 852.3L757 850.3L758.9 849.8L760.7 852L762.6 850.2L764.5 851.5L766.3 852.1L768.2 851.1L770.1 850.7L772 852.7L773.8 852.6L775.7 847.8L777.6 851.4L779.5 849.5L781.3 851.7L783.2 852.9" fill="none" stroke="#333" stroke-width="2.4" stroke-linejoin="round"/><path d="M566 874.7L567.9 874.7L569.7 876.1L571.6 874.3L573.5 874.6L575.4 872.3L577.2 872.6L579.1 873.2L581 874.7L582.9 873.1L584.7 874.4L586.6 873.6L588.5 872L590.3 871.8L592.2 872.3L594.1 874.3L596 875.7L597.8 873.5L599.7 875L601.6 874.6L603.4 872.5L605.3 873.4L607.2 873.6L609.1 873.4L610.9 874L612.8 875.2L614.7 870.8L616.6 861.1L618.4 864.3L620.3 869.8L622.2 869.7L624 871.3L625.9 869.1L627.8 870.4L629.7 871L631.5 874.6L633.4 873.5L635.3 871.4L637.2 864.2L639 868.5L640.9 870.8L642.8 871.5L644.6 869.4L646.5 870.9L648.4 869.7L650.3 870.5L652.1 869.9L654 870.3L655.9 867.1L657.7 862.9L659.6 869.5L661.5 872.9L663.4 872.5L665.2 873.8L667.1 875.2L669 874.7L670.9 874.6L672.7 872.4L674.6 872.6L676.5 873.2L678.3 872.9L680.2 872.8L682.1 874.6L684 875.9L685.8 875.5L687.7 875.9L689.6 875.5L691.5 872.7L693.3 874.9L695.2 873.7L697.1 870L698.9 871.4L700.8 873.6L702.7 874.7L704.6 874.1L706.4 875.5L708.3 873.3L710.2 873.3L712 874.3L713.9 874.6L715.8 872.4L717.7 872.7L719.5 874.8L721.4 877.6L723.3 875.4L725.2 875.2L727 874.5L728.9 873.2L730.8 873L732.6 873.1L734.5 873.9L736.4 875.7L738.3 874.9L740.1 874.2L742 874.7L743.9 877.1L745.8 873.8L747.6 874.8L749.5 872.4L751.4 874.1L753.2 860.1L755.1 843.8L757 856.1L758.9 864.8L760.7 868.9L762.6 868.8L764.5 866.4L766.3 869.9L768.2 872.9L770.1 872L772 871.2L773.8 873.9L775.7 872.8L777.6 873.4L779.5 871.1L781.3 871.7L783.2 870.5" fill="none" stroke="#333" stroke-width="2.4" stroke-linejoin="round"/><path d="M566 893.4L567.9 892.7L569.7 894.9L571.6 895.4L573.5 893.3L575.4 893.6L577.2 892.7L579.1 895.3L581 893.1L582.9 892.3L584.7 895.2L586.6 894.2L588.5 893.3L590.3 892.6L592.2 893.8L594.1 893.7L596 896.4L597.8 895.3L599.7 894.1L601.6 894.8L603.4 895.5L605.3 895.9L607.2 896.3L609.1 897.5L610.9 898.7L612.8 895.4L614.7 893.5L616.6 893.3L618.4 892.2L620.3 894.1L622.2 892L624 890.4L625.9 891.4L627.8 893.1L629.7 892.7L631.5 894.7L633.4 893.8L635.3 894.6L637.2 894.3L639 893.1L640.9 893.9L642.8 893.8L644.6 893.7L646.5 893.7L648.4 894.4L650.3 895.8L652.1 895.6L654 892.8L655.9 893.1L657.7 896.3L659.6 895.7L661.5 889.6L663.4 891.1L665.2 893.8L667.1 892.5L669 894.3L670.9 894.3L672.7 892.6L674.6 894.7L676.5 897.7L678.3 895.1L680.2 895.6L682.1 887.4L684 878.9L685.8 883L687.7 884.4L689.6 886L691.5 892L693.3 889.7L695.2 892.4L697.1 891.5L698.9 892.9L700.8 892.3L702.7 894.3L704.6 894.4L706.4 896.7L708.3 896.9L710.2 895.4L712 895.2L713.9 892L715.8 892L717.7 894.1L719.5 892.6L721.4 892.5L723.3 893.5L725.2 893.8L727 893.9L728.9 891.6L730.8 894.7L732.6 892.4L734.5 894.2L736.4 894.1L738.3 895L740.1 893.3L742 892.3L743.9 893.1L745.8 898L747.6 894.5L749.5 897.9L751.4 896.3L753.2 894.4L755.1 895.5L757 896.6L758.9 893.6L760.7 895.2L762.6 892.6L764.5 895L766.3 897.3L768.2 895.6L770.1 894.3L772 893.7L773.8 894.8L775.7 894.5L777.6 894.2L779.5 895.4L781.3 897L783.2 891.9" fill="none" stroke="#333" stroke-width="2.4" stroke-linejoin="round"/><path d="M566 916.8L567.9 917.7L569.7 917.8L571.6 917.5L573.5 919.5L575.4 917L577.2 917L579.1 917.3L581 917.7L582.9 917.4L584.7 917.3L586.6 916.7L588.5 919.2L590.3 917.4L592.2 917.8L594.1 916.9L596 918.5L597.8 919L599.7 917.7L601.6 914.7L603.4 918.6L605.3 918.5L607.2 917.5L609.1 916.9L610.9 917.2L612.8 918L614.7 916.9L616.6 914.9L618.4 918.2L620.3 918.5L622.2 919.5L624 918.9L625.9 920.1L627.8 918.1L629.7 916.5L631.5 917L633.4 919.1L635.3 916L637.2 918L639 918.4L640.9 918.6L642.8 916.9L644.6 918.6L646.5 920.2L648.4 919.7L650.3 916.3L652.1 917.3L654 918L655.9 916.4L657.7 918L659.6 918.3L661.5 918.4L663.4 918.6L665.2 918.7L667.1 917.6L669 918.5L670.9 918.5L672.7 917.4L674.6 918.6L676.5 916.4L678.3 915.7L680.2 915.5L682.1 919.1L684 918.9L685.8 918.6L687.7 918.2L689.6 919.7L691.5 918.2L693.3 914L695.2 916.3L697.1 917.1L698.9 917.5L700.8 916.6L702.7 916.7L704.6 913.4L706.4 914.7L708.3 915.9L710.2 918.8L712 917.6L713.9 916.5L715.8 917.9L717.7 921L719.5 919.4L721.4 917L723.3 916.5L725.2 918L727 918L728.9 914.5L730.8 914.6L732.6 916.8L734.5 917.9L736.4 917.3L738.3 918.4L740.1 917L742 918.6L743.9 917.8L745.8 917L747.6 913.3L749.5 916.4L751.4 914.2L753.2 918.4L755.1 918.3L757 917.6L758.9 914.1L760.7 914.3L762.6 916.5L764.5 915.6L766.3 917.4L768.2 918L770.1 917.5L772 918L773.8 918.3L775.7 919.1L777.6 918.7L779.5 917L781.3 918.9L783.2 918.7" fill="none" stroke="#333" stroke-width="2.4" stroke-linejoin="round"/><path d="M566 937.4L567.9 939.8L569.7 940.9L571.6 938.5L573.5 938.1L575.4 936.9L577.2 939.8L579.1 938.3L581 940.3L582.9 939.4L584.7 937.2L586.6 937.4L588.5 937.9L590.3 937.5L592.2 938.2L594.1 941.8L596 939.6L597.8 940.4L599.7 939.9L601.6 936.9L603.4 939.9L605.3 940.1L607.2 939.1L609.1 934.5L610.9 931L612.8 935.6L614.7 933.6L616.6 929L618.4 930.8L620.3 933.5L622.2 937.4L624 938.2L625.9 937.3L627.8 940L629.7 938.7L631.5 938.7L633.4 939.2L635.3 939.4L637.2 941L639 940.2L640.9 942.1L642.8 939.6L644.6 939.1L646.5 940L648.4 937.4L650.3 938.6L652.1 939.9L654 939.4L655.9 939.7L657.7 938.9L659.6 939.5L661.5 939.4L663.4 940.7L665.2 940.4L667.1 937.7L669 938L670.9 942.3L672.7 941.8L674.6 940.4L676.5 938.9L678.3 940.1L680.2 937.3L682.1 938.6L684 942.3L685.8 942.1L687.7 941.2L689.6 940.2L691.5 940.3L693.3 939.8L695.2 941L697.1 939L698.9 939.5L700.8 941.1L702.7 940.3L704.6 939.6L706.4 939.6L708.3 938.6L710.2 938.4L712 937.4L713.9 939.3L715.8 938.7L717.7 938.2L719.5 940.3L721.4 937.5L723.3 939.1L725.2 937.3L727 939.7L728.9 940.2L730.8 939.5L732.6 940.1L734.5 940.4L736.4 938.4L738.3 938.6L740.1 936.6L742 930.4L743.9 935.5L745.8 938.5L747.6 939.7L749.5 941.1L751.4 942.3L753.2 921.8L755.1 899.2L757 912.7L758.9 923.7L760.7 930L762.6 933.4L764.5 937.1L766.3 939.8L768.2 937.2L770.1 939.9L772 937.3L773.8 939.6L775.7 940.2L777.6 940.7L779.5 938.8L781.3 939.1L783.2 939.2" fill="none" stroke="#333" stroke-width="2.4" stroke-linejoin="round"/><path d="M566 956.7L567.9 959.3L569.7 960.6L571.6 959L573.5 961.1L575.4 959.8L577.2 960.9L579.1 958.2L581 961.5L582.9 960.4L584.7 959.2L586.6 960.4L588.5 961.6L590.3 961.3L592.2 961.5L594.1 961.5L596 959.2L597.8 962.2L599.7 962.4L601.6 960.7L603.4 962.2L605.3 962.8L607.2 959.9L609.1 957.7L610.9 958.4L612.8 958.9L614.7 959.7L616.6 960.1L618.4 959L620.3 962.3L622.2 961.3L624 960.8L625.9 961.1L627.8 962.1L629.7 961.6L631.5 961.5L633.4 960.4L635.3 958.9L637.2 958.4L639 956.2L640.9 959.1L642.8 959.9L644.6 956.6L646.5 958.2L648.4 958.9L650.3 959.3L652.1 959.9L654 959.4L655.9 962L657.7 961.2L659.6 961.2L661.5 961L663.4 960.9L665.2 962.3L667.1 960.3L669 962.4L670.9 962L672.7 960.6L674.6 958.5L676.5 957.9L678.3 958.8L680.2 959.6L682.1 960.1L684 961L685.8 962.4L687.7 959.6L689.6 960L691.5 961.6L693.3 961.4L695.2 961.1L697.1 961.6L698.9 961L700.8 960.3L702.7 960.6L704.6 961L706.4 961.4L708.3 961.2L710.2 962.2L712 959.4L713.9 961.1L715.8 962.1L717.7 962.2L719.5 961.8L721.4 961.5L723.3 960.2L725.2 960L727 961.2L728.9 962.1L730.8 961.6L732.6 960.1L734.5 961.5L736.4 962.5L738.3 961.3L740.1 960.2L742 960.4L743.9 959.7L745.8 961.6L747.6 960.9L749.5 960.9L751.4 961.1L753.2 961.2L755.1 962.1L757 961.4L758.9 960.1L760.7 961.4L762.6 960L764.5 959.5L766.3 960.4L768.2 959.7L770.1 960.7L772 960.4L773.8 959.6L775.7 960.3L777.6 959.2L779.5 960.2L781.3 960.5L783.2 960.5" fill="none" stroke="#333" stroke-width="2.4" stroke-linejoin="round"/><path d="M566 988L567.9 986.6L569.7 986.3L571.6 987L573.5 986.1L575.4 984.4L577.2 987.4L579.1 988.7L581 988.5L582.9 987.8L584.7 986.8L586.6 986.8L588.5 987.5L590.3 987.4L592.2 984.5L594.1 980.7L596 985.2L597.8 987L599.7 986.7L601.6 986.6L603.4 986.8L605.3 987.7L607.2 986.3L609.1 985.7L610.9 983.6L612.8 986L614.7 987.1L616.6 987.8L618.4 988.5L620.3 989.7L622.2 989.6L624 989.1L625.9 987L627.8 986.6L629.7 987.4L631.5 988.7L633.4 987.1L635.3 988.8L637.2 986.6L639 982.1L640.9 985L642.8 987.2L644.6 986.5L646.5 986.5L648.4 987.7L650.3 987.7L652.1 986.4L654 987.2L655.9 987.5L657.7 987.6L659.6 989.1L661.5 988.3L663.4 985.3L665.2 988L667.1 987.3L669 987.5L670.9 988.7L672.7 988.5L674.6 986.1L676.5 986L678.3 986.6L680.2 988.3L682.1 987L684 988L685.8 988.2L687.7 982.7L689.6 984.9L691.5 986.6L693.3 986.6L695.2 989.5L697.1 987.1L698.9 987.6L700.8 986.3L702.7 986.4L704.6 986.3L706.4 987.8L708.3 986.5L710.2 986.4L712 987.4L713.9 987.8L715.8 987.5L717.7 987L719.5 986L721.4 987.2L723.3 988.2L725.2 986.4L727 984.5L728.9 986.6L730.8 986.4L732.6 987.6L734.5 988.7L736.4 989.1L738.3 987.3L740.1 985.2L742 986.3L743.9 986.6L745.8 986.3L747.6 988.3L749.5 987.9L751.4 988.4L753.2 987.4L755.1 987.3L757 988L758.9 986.9L760.7 987.1L762.6 988.9L764.5 987L766.3 987.9L768.2 988.9L770.1 987.9L772 986.2L773.8 986.7L775.7 985.7L777.6 989.2L779.5 985.8L781.3 987.1L783.2 984.3" fill="none" stroke="#333" stroke-width="2.4" stroke-linejoin="round"/><path d="M796.2 851.3L798.1 852.6L800 853.6L801.8 852.8L803.7 853.6L805.6 852.3L807.5 851.8L809.3 852.6L811.2 854.1L813.1 850.4L815 852.3L816.9 842.9L818.7 833.6L820.6 841.5L822.5 844.2L824.4 847.6L826.3 851.5L828.1 850.2L830 850.6L831.9 850.7L833.8 851.4L835.6 852L837.5 853L839.4 852.4L841.3 853.6L843.2 854L845 851.8L846.9 849.8L848.8 847.5L850.7 833.4L852.5 814.9L854.4 827.3L856.3 834.1L858.2 838.8L860.1 844.1L861.9 847L863.8 847.4L865.7 844.1L867.6 839.4L869.5 844.8L871.3 847.4L873.2 849.4L875.1 849.6L877 852.6L878.8 853L880.7 851.4L882.6 852.3L884.5 854.3L886.4 851.6L888.2 852.2L890.1 851.7L892 853.9L893.9 852.6L895.7 851.3L897.6 851.5L899.5 851.6L901.4 850.6L903.3 851.9L905.1 851.3L907 850.7L908.9 852.3L910.8 853L912.7 851.1L914.5 850.2L916.4 851.3L918.3 854.9L920.2 853.2L922 851.4L923.9 853.9L925.8 853L927.7 851.6L929.6 852.9L931.4 851.1L933.3 853.8L935.2 852.4L937.1 851.8L938.9 853.4L940.8 854.1L942.7 851.4L944.6 852.5L946.5 855.1L948.3 853.7L950.2 853.1L952.1 852.3L954 854.9L955.9 854L957.7 853.3L959.6 852.8L961.5 853.3L963.4 852.1L965.2 853.6L967.1 855.9L969 852.7L970.9 851.2L972.8 850.8L974.6 851.2L976.5 848.2L978.4 844.8L980.3 848.6L982.1 845.1L984 846.9L985.9 850.6L987.8 850.8L989.7 851.3L991.5 851.9L993.4 852.6L995.3 848.3L997.2 848.7L999.1 849.9L1000.9 850.3L1002.8 849.6L1004.7 851.7L1006.6 852.9L1008.4 852.1L1010.3 852.3L1012.2 852.5" fill="none" stroke="#333" stroke-width="2.4" stroke-linejoin="round"/><path d="M796.2 863.6L798.1 867.9L800 871.2L801.8 870.5L803.7 872.6L805.6 872.4L807.5 873.8L809.3 872.9L811.2 872.9L813.1 874.3L815 874L816.9 871.3L818.7 870.7L820.6 874L822.5 874.6L824.4 873.8L826.3 873.9L828.1 874L830 871.4L831.9 874L833.8 875.5L835.6 870.8L837.5 867L839.4 873.3L841.3 860.8L843.2 845.3L845 867L846.9 873.4L848.8 874.7L850.7 877L852.5 876.5L854.4 873.7L856.3 876.9L858.2 876.6L860.1 872.9L861.9 874.4L863.8 874.2L865.7 873.7L867.6 873.5L869.5 874.2L871.3 875.4L873.2 872.9L875.1 877.3L877 874.7L878.8 873.5L880.7 873.1L882.6 872L884.5 871.5L886.4 872.3L888.2 873.1L890.1 873.6L892 874.5L893.9 874.7L895.7 873.5L897.6 874.9L899.5 872.6L901.4 874.3L903.3 874.2L905.1 874.7L907 872.6L908.9 875.3L910.8 874.8L912.7 874.1L914.5 874.2L916.4 870.7L918.3 873.4L920.2 875.3L922 874.9L923.9 874.5L925.8 873.8L927.7 872.8L929.6 874.9L931.4 877L933.3 874.8L935.2 874.4L937.1 873.6L938.9 874.4L940.8 874.8L942.7 871.8L944.6 873.6L946.5 874.1L948.3 876.6L950.2 873.8L952.1 871.5L954 875.3L955.9 874.7L957.7 873.2L959.6 874.6L961.5 873.8L963.4 875.3L965.2 875.8L967.1 874.1L969 870.5L970.9 868.8L972.8 871.9L974.6 875.1L976.5 876.2L978.4 875.8L980.3 876.8L982.1 874L984 874L985.9 872.6L987.8 874.2L989.7 872.4L991.5 872.1L993.4 873.6L995.3 871.9L997.2 873.1L999.1 873.6L1000.9 873.5L1002.8 872.2L1004.7 872.5L1006.6 872.6L1008.4 874.8L1010.3 873.6L1012.2 874.2" fill="none" stroke="#333" stroke-width="2.4" stroke-linejoin="round"/><path d="M796.2 892.4L798.1 892.3L800 891.1L801.8 894L803.7 895.2L805.6 894.1L807.5 895.4L809.3 888.4L811.2 883L813.1 889L815 888.3L816.9 884.9L818.7 889.3L820.6 889.4L822.5 890L824.4 893.6L826.3 894.7L828.1 895.6L830 895.6L831.9 892.5L833.8 887.7L835.6 891.1L837.5 892.4L839.4 892.4L841.3 893L843.2 892.7L845 892L846.9 892.7L848.8 894.5L850.7 894.7L852.5 895.3L854.4 894.9L856.3 895.3L858.2 896.6L860.1 896.1L861.9 889.4L863.8 883.1L865.7 887.4L867.6 889.7L869.5 892.6L871.3 894.6L873.2 895.1L875.1 894.5L877 893.9L878.8 897.3L880.7 894.1L882.6 892L884.5 894.6L886.4 892.8L888.2 896.3L890.1 893.8L892 895.6L893.9 895.9L895.7 897.6L897.6 884.3L899.5 871.3L901.4 882.2L903.3 885.8L905.1 886.3L907 890.7L908.9 893.3L910.8 893.4L912.7 895.3L914.5 893.9L916.4 894L918.3 894.1L920.2 889.6L922 886.5L923.9 889.2L925.8 892.2L927.7 890L929.6 890.8L931.4 893.7L933.3 895.4L935.2 894.4L937.1 892.5L938.9 890.8L940.8 890.8L942.7 894.4L944.6 892.5L946.5 893.2L948.3 894.4L950.2 892.7L952.1 898.5L954 895.2L955.9 894.4L957.7 893.7L959.6 894.6L961.5 891.9L963.4 890.3L965.2 889.3L967.1 891.9L969 892.9L970.9 889.7L972.8 894.3L974.6 895.5L976.5 895L978.4 894.2L980.3 892.4L982.1 893.4L984 893.9L985.9 895.1L987.8 895.1L989.7 894.1L991.5 895.9L993.4 894.2L995.3 895.8L997.2 896.1L999.1 894.5L1000.9 894.1L1002.8 892.9L1004.7 894.6L1006.6 895.1L1008.4 894L1010.3 894.1L1012.2 890.2" fill="none" stroke="#333" stroke-width="2.4" stroke-linejoin="round"/><path d="M796.2 915.8L798.1 916.8L800 918.4L801.8 918.4L803.7 918.6L805.6 916.8L807.5 918.6L809.3 917.8L811.2 918L813.1 918.3L815 918L816.9 919.5L818.7 917.9L820.6 917L822.5 917.8L824.4 918.2L826.3 917.3L828.1 918.3L830 916.7L831.9 915.5L833.8 916.7L835.6 917.3L837.5 917L839.4 917L841.3 916.6L843.2 916.2L845 918.2L846.9 919.5L848.8 912.5L850.7 913.4L852.5 915.2L854.4 918.1L856.3 919.3L858.2 920.4L860.1 919.3L861.9 919L863.8 918.4L865.7 918.4L867.6 919.1L869.5 918.8L871.3 919.2L873.2 917.6L875.1 918.5L877 918.3L878.8 918L880.7 916.5L882.6 918.4L884.5 918.1L886.4 920.7L888.2 920L890.1 917.9L892 918.5L893.9 916.8L895.7 918L897.6 917.8L899.5 916.9L901.4 918.6L903.3 918L905.1 918.6L907 919.7L908.9 919.1L910.8 919.5L912.7 917.3L914.5 917.4L916.4 916.9L918.3 913.5L920.2 911.4L922 914.6L923.9 918.2L925.8 916.7L927.7 915.1L929.6 915.9L931.4 916.3L933.3 916.3L935.2 917.1L937.1 917.5L938.9 916.9L940.8 916.9L942.7 915.7L944.6 919.2L946.5 919.1L948.3 919.2L950.2 919.2L952.1 918.5L954 915.7L955.9 915.9L957.7 916.4L959.6 917L961.5 918.4L963.4 919.2L965.2 922L967.1 919.9L969 919.3L970.9 918.1L972.8 912.6L974.6 914.3L976.5 917.3L978.4 917L980.3 918.2L982.1 915.4L984 917.2L985.9 916.6L987.8 918.6L989.7 920.4L991.5 919.7L993.4 919.2L995.3 920.1L997.2 916.7L999.1 918L1000.9 919L1002.8 919.3L1004.7 917.5L1006.6 917.6L1008.4 916.3L1010.3 917.8L1012.2 916.7" fill="none" stroke="#333" stroke-width="2.4" stroke-linejoin="round"/><path d="M796.2 940L798.1 939.4L800 940.3L801.8 938.1L803.7 938.9L805.6 938.8L807.5 939.7L809.3 939.3L811.2 940.5L813.1 940L815 940.4L816.9 939L818.7 938.1L820.6 940.2L822.5 935.5L824.4 934.1L826.3 933.7L828.1 937.6L830 937.5L831.9 937.5L833.8 942.4L835.6 941.3L837.5 939.8L839.4 935.7L841.3 936.7L843.2 937.8L845 937.6L846.9 938.1L848.8 938.4L850.7 938.6L852.5 939.7L854.4 934.2L856.3 936.1L858.2 938.1L860.1 940.1L861.9 939.7L863.8 938.7L865.7 935L867.6 934.1L869.5 937.5L871.3 936L873.2 935.9L875.1 936.8L877 939.3L878.8 939.2L880.7 937.4L882.6 938.3L884.5 939.7L886.4 938L888.2 937.7L890.1 940.8L892 939.6L893.9 940.4L895.7 939.8L897.6 936.1L899.5 934.6L901.4 930.9L903.3 932.5L905.1 937.7L907 940.9L908.9 940.9L910.8 939.8L912.7 938.9L914.5 931.7L916.4 937L918.3 924.7L920.2 911.5L922 918L923.9 926.5L925.8 933.1L927.7 934.3L929.6 934.5L931.4 937L933.3 938.6L935.2 939.7L937.1 938.1L938.9 935.4L940.8 935.9L942.7 940.6L944.6 939.5L946.5 942.7L948.3 939.9L950.2 935.1L952.1 933.4L954 935.5L955.9 935.3L957.7 938L959.6 938.7L961.5 941.1L963.4 940.6L965.2 939.2L967.1 940.1L969 940L970.9 938.7L972.8 941.1L974.6 942.2L976.5 941.2L978.4 941L980.3 939.9L982.1 937.1L984 937.3L985.9 938.3L987.8 938.9L989.7 939.9L991.5 936.7L993.4 932.6L995.3 934.1L997.2 936.6L999.1 936.9L1000.9 939.6L1002.8 940.2L1004.7 938.2L1006.6 940.5L1008.4 940.8L1010.3 941.4L1012.2 942.4" fill="none" stroke="#333" stroke-width="2.4" stroke-linejoin="round"/><path d="M796.2 960.5L798.1 961.2L800 961L801.8 963L803.7 960.7L805.6 961.6L807.5 960.8L809.3 960.6L811.2 959.2L813.1 960.8L815 960.1L816.9 961.6L818.7 960.9L820.6 962.3L822.5 946.4L824.4 928.4L826.3 937.5L828.1 946.5L830 950.5L831.9 954.9L833.8 958.2L835.6 958.3L837.5 957.8L839.4 959.6L841.3 958L843.2 956.5L845 958L846.9 960.8L848.8 961.9L850.7 957.8L852.5 953.4L854.4 956.5L856.3 956.1L858.2 959.1L860.1 961.2L861.9 959.5L863.8 960.1L865.7 960.3L867.6 959.5L869.5 959.8L871.3 956.6L873.2 960L875.1 956.8L877 957.2L878.8 957.7L880.7 960.8L882.6 961.4L884.5 960.2L886.4 960.2L888.2 960.5L890.1 962.6L892 961.8L893.9 960.4L895.7 959.7L897.6 958.5L899.5 961L901.4 962.2L903.3 963.5L905.1 963L907 962.6L908.9 960.7L910.8 962.7L912.7 960.6L914.5 960L916.4 960L918.3 960.9L920.2 960.3L922 961.2L923.9 959.9L925.8 959.9L927.7 960.5L929.6 960.8L931.4 960.4L933.3 959.4L935.2 961.1L937.1 961.8L938.9 961.3L940.8 962.5L942.7 959.8L944.6 959.6L946.5 959.2L948.3 960.9L950.2 960.9L952.1 960.2L954 961.1L955.9 959.9L957.7 960.1L959.6 962L961.5 963.5L963.4 961.2L965.2 959.1L967.1 960.4L969 961.8L970.9 962L972.8 962.4L974.6 962.3L976.5 962.8L978.4 962.2L980.3 962.6L982.1 960.2L984 961.4L985.9 959.9L987.8 958.3L989.7 959.9L991.5 959L993.4 960.2L995.3 961.9L997.2 961.6L999.1 960.3L1000.9 961.7L1002.8 960.9L1004.7 963.3L1006.6 957.6L1008.4 959.2L1010.3 960.5L1012.2 960.8" fill="none" stroke="#333" stroke-width="2.4" stroke-linejoin="round"/><path d="M796.2 986.9L798.1 988.5L800 988.8L801.8 989.3L803.7 988.1L805.6 986.7L807.5 988.2L809.3 988.2L811.2 987.9L813.1 987.3L815 986.9L816.9 988.2L818.7 988.2L820.6 987.7L822.5 988.2L824.4 987.3L826.3 988.3L828.1 987.2L830 987.3L831.9 989L833.8 988.2L835.6 987.9L837.5 988.3L839.4 987L841.3 987.4L843.2 987.2L845 986.6L846.9 987L848.8 987.3L850.7 986.3L852.5 985.5L854.4 983.4L856.3 986.7L858.2 983.8L860.1 987.3L861.9 987.7L863.8 984.4L865.7 984.3L867.6 985.8L869.5 985.8L871.3 986.6L873.2 988.1L875.1 987.3L877 983.8L878.8 985.3L880.7 988.2L882.6 986.5L884.5 986.7L886.4 987.1L888.2 987.9L890.1 988.8L892 987.4L893.9 986.5L895.7 986.9L897.6 985.4L899.5 986.1L901.4 988.3L903.3 987.3L905.1 989L907 987.9L908.9 986.9L910.8 986.4L912.7 987.2L914.5 988.5L916.4 988.5L918.3 988L920.2 987.3L922 987.6L923.9 986.3L925.8 985.7L927.7 986.6L929.6 987.9L931.4 988.6L933.3 987.6L935.2 988.5L937.1 984.8L938.9 987.8L940.8 987.4L942.7 987.9L944.6 987.4L946.5 986.2L948.3 986.6L950.2 987.8L952.1 989.5L954 989.7L955.9 985.7L957.7 985.8L959.6 986.4L961.5 987L963.4 986.5L965.2 988.3L967.1 985.5L969 987.1L970.9 986.6L972.8 986.2L974.6 986.9L976.5 988.3L978.4 987.1L980.3 987.6L982.1 987.9L984 986.6L985.9 988.5L987.8 986.1L989.7 986.7L991.5 987.6L993.4 988L995.3 987L997.2 987.7L999.1 986.5L1000.9 987L1002.8 986.9L1004.7 986.6L1006.6 987.7L1008.4 986.9L1010.3 986.8L1012.2 987" fill="none" stroke="#333" stroke-width="2.4" stroke-linejoin="round"/><path d="M1025.8 843.3L1027.7 846.2L1029.5 850.7L1031.4 852.1L1033.3 851.2L1035.1 850.4L1037 849.4L1038.9 851.9L1040.7 852.7L1042.6 851.7L1044.5 851.5L1046.3 851.6L1048.2 850L1050.1 850.2L1051.9 851L1053.8 853.8L1055.7 855.3L1057.5 854.2L1059.4 851.9L1061.3 852.1L1063.1 852.9L1065 853.1L1066.9 853.7L1068.7 852.8L1070.6 851.3L1072.5 852.1L1074.3 854L1076.2 850.8L1078.1 848L1079.9 848.9L1081.8 849.3L1083.7 844.5L1085.5 841.7L1087.4 847.1L1089.3 849L1091.1 849L1093 847.8L1094.9 852.6L1096.7 851.9L1098.6 852.8L1100.5 852.3L1102.3 848.3L1104.2 843.4L1106.1 850.5L1107.9 851.8L1109.8 854.1L1111.7 852.3L1113.5 851.3L1115.4 850.6L1117.3 851.7L1119.1 852.7L1121 854L1122.9 855.2L1124.7 853L1126.6 853.1L1128.5 851.1L1130.3 852.1L1132.2 850.5L1134 849.6L1135.9 852.4L1137.8 851.9L1139.6 849.8L1141.5 850.7L1143.4 851.4L1145.2 853.1L1147.1 852.7L1149 852.1L1150.8 853.4L1152.7 854.5L1154.6 854.1L1156.4 853.6L1158.3 853.6L1160.2 852.7L1162 853.2L1163.9 852.9L1165.8 852.6L1167.6 854.8L1169.5 853.5L1171.4 852.6L1173.2 852.8L1175.1 854.4L1177 851.8L1178.8 837.6L1180.7 816.7L1182.6 834.7L1184.4 839.2L1186.3 840.1L1188.2 836.7L1190 839.9L1191.9 841.9L1193.8 843.3L1195.6 846.4L1197.5 849.6L1199.4 850.2L1201.2 850.8L1203.1 849L1205 852L1206.8 852L1208.7 850.6L1210.6 851.6L1212.4 850.1L1214.3 850.9L1216.2 852.9L1218 850.6L1219.9 846.9L1221.8 845.8L1223.6 847.7L1225.5 851.2L1227.4 852.4L1229.2 851.6L1231.1 849.6L1233 850.1L1234.8 852L1236.7 851.6L1238.6 852.3L1240.4 850.9L1242.3 851.7" fill="none" stroke="#333" stroke-width="2.4" stroke-linejoin="round"/><path d="M1025.8 872.5L1027.7 872.6L1029.5 874.7L1031.4 875.3L1033.3 873.7L1035.1 875L1037 854.3L1038.9 843.6L1040.7 855.8L1042.6 860L1044.5 863L1046.3 866.2L1048.2 867.5L1050.1 871.1L1051.9 872.7L1053.8 871.9L1055.7 874.3L1057.5 872.3L1059.4 871.6L1061.3 871.1L1063.1 874.5L1065 874.8L1066.9 874.3L1068.7 874.2L1070.6 875.8L1072.5 871.4L1074.3 872L1076.2 872.1L1078.1 872.5L1079.9 875.8L1081.8 874.1L1083.7 876.5L1085.5 874.5L1087.4 875.3L1089.3 875.5L1091.1 873.8L1093 875.3L1094.9 873.9L1096.7 871L1098.6 867.7L1100.5 870.7L1102.3 872.7L1104.2 872.1L1106.1 873.6L1107.9 874.2L1109.8 872.9L1111.7 872.5L1113.5 871.1L1115.4 873.1L1117.3 871.5L1119.1 873.1L1121 873.9L1122.9 873.6L1124.7 875.4L1126.6 874.4L1128.5 872.1L1130.3 873.3L1132.2 875.4L1134 874.5L1135.9 874.3L1137.8 873.7L1139.6 874.8L1141.5 875L1143.4 874.1L1145.2 874.9L1147.1 873.5L1149 873.2L1150.8 874.2L1152.7 871.8L1154.6 869.8L1156.4 870.8L1158.3 871.6L1160.2 874.2L1162 872.9L1163.9 872.4L1165.8 873.3L1167.6 873.6L1169.5 873.6L1171.4 874L1173.2 877.4L1175.1 876.6L1177 871.2L1178.8 871.5L1180.7 873.3L1182.6 876.3L1184.4 873.5L1186.3 873.6L1188.2 873.9L1190 873L1191.9 873.9L1193.8 874.3L1195.6 875.4L1197.5 875L1199.4 876.7L1201.2 875.8L1203.1 874.7L1205 875L1206.8 871.7L1208.7 868.1L1210.6 871L1212.4 870.8L1214.3 873.7L1216.2 873L1218 871L1219.9 873.7L1221.8 874.9L1223.6 874.8L1225.5 875.8L1227.4 876.2L1229.2 872.9L1231.1 873.6L1233 868.6L1234.8 874.2L1236.7 873L1238.6 873.8L1240.4 873.4L1242.3 875.2" fill="none" stroke="#333" stroke-width="2.4" stroke-linejoin="round"/><path d="M1025.8 896.2L1027.7 895.2L1029.5 895L1031.4 896.9L1033.3 895.5L1035.1 896.6L1037 893.6L1038.9 894.5L1040.7 893.8L1042.6 893.3L1044.5 896.8L1046.3 893L1048.2 892.5L1050.1 892.9L1051.9 892.3L1053.8 894.5L1055.7 897.3L1057.5 893.3L1059.4 897.4L1061.3 894.6L1063.1 891.9L1065 894.3L1066.9 893.6L1068.7 892.2L1070.6 894.8L1072.5 894.5L1074.3 892.8L1076.2 893.3L1078.1 893.5L1079.9 897.3L1081.8 895.6L1083.7 895.9L1085.5 895.9L1087.4 891.4L1089.3 892.3L1091.1 892L1093 893.7L1094.9 889.9L1096.7 891.8L1098.6 893.1L1100.5 895.8L1102.3 894.8L1104.2 894.5L1106.1 894.1L1107.9 895L1109.8 894.7L1111.7 893.6L1113.5 892.5L1115.4 892.1L1117.3 896.6L1119.1 897.1L1121 895.7L1122.9 895.9L1124.7 894.7L1126.6 892.4L1128.5 893.5L1130.3 890.2L1132.2 891.2L1134 888.1L1135.9 892.2L1137.8 895.1L1139.6 895.4L1141.5 893.3L1143.4 890.9L1145.2 891.7L1147.1 892.4L1149 892.6L1150.8 893.7L1152.7 895L1154.6 894.1L1156.4 895.4L1158.3 893.4L1160.2 892.7L1162 894.8L1163.9 896.2L1165.8 891.4L1167.6 894.3L1169.5 894.3L1171.4 894.1L1173.2 893.9L1175.1 894.2L1177 895.6L1178.8 893.9L1180.7 893.3L1182.6 892.2L1184.4 892.5L1186.3 893.8L1188.2 897.5L1190 892.7L1191.9 894.9L1193.8 895.2L1195.6 896L1197.5 896L1199.4 895.5L1201.2 892.6L1203.1 892.7L1205 894.6L1206.8 897.6L1208.7 895L1210.6 894.7L1212.4 894.3L1214.3 893.4L1216.2 893.2L1218 892L1219.9 893.1L1221.8 894.6L1223.6 896.5L1225.5 895.1L1227.4 895.7L1229.2 897.3L1231.1 894.1L1233 893.8L1234.8 892.2L1236.7 892.1L1238.6 895L1240.4 895.7L1242.3 896.3" fill="none" stroke="#333" stroke-width="2.4" stroke-linejoin="round"/><path d="M1025.8 917.5L1027.7 917.6L1029.5 917.6L1031.4 918.1L1033.3 914.9L1035.1 916.9L1037 917.3L1038.9 913L1040.7 908.1L1042.6 913.3L1044.5 915L1046.3 916.9L1048.2 914.5L1050.1 916.3L1051.9 910.5L1053.8 906.3L1055.7 909.3L1057.5 910.4L1059.4 914L1061.3 914.1L1063.1 916.5L1065 918.6L1066.9 919.8L1068.7 918.2L1070.6 917.9L1072.5 918.7L1074.3 918.7L1076.2 918.9L1078.1 914L1079.9 915.3L1081.8 916.5L1083.7 916.7L1085.5 918L1087.4 917.4L1089.3 916.2L1091.1 918.4L1093 915.5L1094.9 917.1L1096.7 907.8L1098.6 899.1L1100.5 907.7L1102.3 912.4L1104.2 915.4L1106.1 915.3L1107.9 910.3L1109.8 904.6L1111.7 908.8L1113.5 912.8L1115.4 918.2L1117.3 915.2L1119.1 916.6L1121 918.4L1122.9 915.3L1124.7 917.5L1126.6 918.4L1128.5 919.3L1130.3 918.1L1132.2 907.6L1134 893L1135.9 901.6L1137.8 909L1139.6 912.2L1141.5 916.2L1143.4 918.2L1145.2 916.3L1147.1 915.6L1149 917.2L1150.8 915.4L1152.7 906.2L1154.6 910.8L1156.4 914.2L1158.3 915.5L1160.2 918.3L1162 915.6L1163.9 917.8L1165.8 917.8L1167.6 913.9L1169.5 916.1L1171.4 914.2L1173.2 916.5L1175.1 916.3L1177 917L1178.8 915.5L1180.7 918.1L1182.6 920.1L1184.4 918.5L1186.3 917.3L1188.2 919.3L1190 918.2L1191.9 911.6L1193.8 904.6L1195.6 911.9L1197.5 914.4L1199.4 916.3L1201.2 918L1203.1 916.2L1205 917L1206.8 915.1L1208.7 908.6L1210.6 909.5L1212.4 916.2L1214.3 916.6L1216.2 919.1L1218 915.9L1219.9 916.6L1221.8 918.5L1223.6 918.7L1225.5 917.9L1227.4 918.8L1229.2 916.6L1231.1 914.8L1233 908.1L1234.8 910.6L1236.7 914L1238.6 913.4L1240.4 911.5L1242.3 910" fill="none" stroke="#333" stroke-width="2.4" stroke-linejoin="round"/><path d="M1025.8 938.4L1027.7 939.8L1029.5 941.9L1031.4 939.5L1033.3 937.5L1035.1 939.6L1037 940.7L1038.9 939.8L1040.7 939.4L1042.6 939.1L1044.5 940.1L1046.3 938.8L1048.2 941.5L1050.1 940.7L1051.9 941.6L1053.8 941.2L1055.7 941.1L1057.5 940.1L1059.4 938.7L1061.3 940L1063.1 941.3L1065 940L1066.9 939.6L1068.7 942.8L1070.6 938.2L1072.5 938.2L1074.3 939.9L1076.2 941.3L1078.1 942.1L1079.9 941.6L1081.8 941.2L1083.7 940L1085.5 938.6L1087.4 938.3L1089.3 939.3L1091.1 942L1093 938.2L1094.9 938.5L1096.7 935L1098.6 935.1L1100.5 936.9L1102.3 938.8L1104.2 938.3L1106.1 937.8L1107.9 939L1109.8 938.9L1111.7 941.8L1113.5 940.2L1115.4 939L1117.3 939L1119.1 940.7L1121 939.7L1122.9 939.6L1124.7 943.1L1126.6 942.6L1128.5 942.4L1130.3 940.7L1132.2 938.9L1134 940.8L1135.9 940.4L1137.8 941.8L1139.6 938.2L1141.5 939.4L1143.4 938.6L1145.2 939L1147.1 941.4L1149 937.9L1150.8 940.1L1152.7 938.3L1154.6 938.9L1156.4 938.5L1158.3 936.7L1160.2 937.5L1162 938L1163.9 938.9L1165.8 940.8L1167.6 937.5L1169.5 938.1L1171.4 938.5L1173.2 940.7L1175.1 941.5L1177 942.7L1178.8 940.6L1180.7 939.7L1182.6 939.9L1184.4 939.4L1186.3 934.1L1188.2 939L1190 940.5L1191.9 939.6L1193.8 938.1L1195.6 941.7L1197.5 941.3L1199.4 941.5L1201.2 940L1203.1 939.7L1205 939.7L1206.8 937.4L1208.7 933.7L1210.6 935.3L1212.4 937.9L1214.3 939.2L1216.2 938.1L1218 940.9L1219.9 939.1L1221.8 939.5L1223.6 940.5L1225.5 943.2L1227.4 941.4L1229.2 940.4L1231.1 941.9L1233 944.2L1234.8 941.2L1236.7 939.9L1238.6 941.4L1240.4 941.4L1242.3 940.4" fill="none" stroke="#333" stroke-width="2.4" stroke-linejoin="round"/><path d="M1025.8 960.4L1027.7 961.2L1029.5 961.2L1031.4 962L1033.3 959.8L1035.1 960.5L1037 960.2L1038.9 962L1040.7 962L1042.6 961.3L1044.5 960.4L1046.3 961.2L1048.2 963L1050.1 960.8L1051.9 960.7L1053.8 960.3L1055.7 957.1L1057.5 959L1059.4 961.2L1061.3 960.6L1063.1 961.8L1065 962.7L1066.9 959.5L1068.7 960L1070.6 960.9L1072.5 961L1074.3 961.2L1076.2 962.3L1078.1 961.7L1079.9 960.3L1081.8 956.5L1083.7 957.3L1085.5 961.3L1087.4 959.7L1089.3 961.7L1091.1 962.2L1093 960.7L1094.9 960.8L1096.7 958.3L1098.6 960L1100.5 960.7L1102.3 961.5L1104.2 962.9L1106.1 963L1107.9 961.4L1109.8 959.9L1111.7 959.7L1113.5 963.3L1115.4 960.7L1117.3 961.1L1119.1 959.8L1121 960L1122.9 960.4L1124.7 961.9L1126.6 962.5L1128.5 961.4L1130.3 962.9L1132.2 961.9L1134 961.2L1135.9 961.2L1137.8 961.4L1139.6 960.6L1141.5 958.9L1143.4 959.6L1145.2 962L1147.1 962.2L1149 960.3L1150.8 960.5L1152.7 958.1L1154.6 960.9L1156.4 961.4L1158.3 960.5L1160.2 961.7L1162 961.1L1163.9 960.2L1165.8 960.4L1167.6 961.5L1169.5 961.2L1171.4 960.8L1173.2 960.8L1175.1 960.7L1177 961.3L1178.8 962.4L1180.7 960.8L1182.6 962L1184.4 963.6L1186.3 962.1L1188.2 961.4L1190 961L1191.9 961.5L1193.8 961.1L1195.6 959.4L1197.5 961.5L1199.4 959L1201.2 959.8L1203.1 962.1L1205 962.9L1206.8 961.6L1208.7 960L1210.6 960.6L1212.4 958.8L1214.3 957L1216.2 958.9L1218 960.5L1219.9 961.6L1221.8 960L1223.6 961.5L1225.5 963L1227.4 961.6L1229.2 961.4L1231.1 961.5L1233 960.9L1234.8 960.9L1236.7 962.7L1238.6 962L1240.4 960.3L1242.3 961.5" fill="none" stroke="#333" stroke-width="2.4" stroke-linejoin="round"/><path d="M1025.8 988.7L1027.7 988.5L1029.5 989L1031.4 983.9L1033.3 985.6L1035.1 986.6L1037 988L1038.9 986.2L1040.7 986.8L1042.6 988.4L1044.5 988.4L1046.3 988.4L1048.2 988.4L1050.1 987.4L1051.9 988.8L1053.8 987.1L1055.7 988.1L1057.5 985.5L1059.4 984.7L1061.3 986L1063.1 985.7L1065 986.1L1066.9 985L1068.7 985.6L1070.6 986.6L1072.5 987.9L1074.3 987.7L1076.2 988.8L1078.1 987.7L1079.9 987.7L1081.8 989L1083.7 986.9L1085.5 987L1087.4 987.7L1089.3 988.1L1091.1 989.6L1093 989.1L1094.9 987.6L1096.7 989.8L1098.6 989.6L1100.5 988.2L1102.3 986.8L1104.2 986L1106.1 987.1L1107.9 988.9L1109.8 988.4L1111.7 986.6L1113.5 988.6L1115.4 989.3L1117.3 988.8L1119.1 986.2L1121 987.1L1122.9 987.2L1124.7 987.2L1126.6 986.6L1128.5 987.2L1130.3 987.8L1132.2 984.9L1134 985.1L1135.9 988.1L1137.8 987.3L1139.6 986.9L1141.5 989.2L1143.4 989.6L1145.2 987.3L1147.1 986.6L1149 987.3L1150.8 988.2L1152.7 987.6L1154.6 986.2L1156.4 987.2L1158.3 987.4L1160.2 986.4L1162 987.1L1163.9 985L1165.8 985.9L1167.6 987.1L1169.5 985.9L1171.4 988.8L1173.2 987.1L1175.1 977.1L1177 961.5L1178.8 973.7L1180.7 978.8L1182.6 982.4L1184.4 983.9L1186.3 986.6L1188.2 985.7L1190 988.6L1191.9 987.3L1193.8 986.1L1195.6 987L1197.5 987.4L1199.4 988.2L1201.2 988.4L1203.1 987.9L1205 986.6L1206.8 988.6L1208.7 986.7L1210.6 986.7L1212.4 987L1214.3 987.3L1216.2 988L1218 986.3L1219.9 987.2L1221.8 988.2L1223.6 987.6L1225.5 989.3L1227.4 988.9L1229.2 990.4L1231.1 989.6L1233 988.5L1234.8 988L1236.7 990L1238.6 988.6L1240.4 990L1242.3 988.7" fill="none" stroke="#333" stroke-width="2.4" stroke-linejoin="round"/><path d="M1254.9 853.5L1256.8 853L1258.6 852.8L1260.5 850.4L1262.4 849.3L1264.2 851.3L1266.1 850.4L1268 850.4L1269.8 852.7L1271.7 851.5L1273.6 849.8L1275.4 851.1L1277.3 852.6L1279.2 856.1L1281 853.1L1282.9 849L1284.8 847.3L1286.6 851.4L1288.5 851.1L1290.4 851.2L1292.2 852.4L1294.1 852.1L1296 852.9L1297.8 850.4L1299.7 850.8L1301.6 850.6L1303.4 850.9L1305.3 852.3L1307.2 854.3L1309 855.1L1310.9 854.3L1312.8 851.8L1314.6 852L1316.5 850.8L1318.4 852.7L1320.2 850.3L1322.1 852.6L1324 853.3L1325.8 853.3L1327.7 853.7L1329.6 852.2L1331.4 851.1L1333.3 851.5L1335.2 851.5L1337 843.4L1338.9 829.5L1340.8 837.8L1342.6 840L1344.5 844.1L1346.4 847.1L1348.2 848.3L1350.1 849.3L1352 850.6L1353.8 849.5L1355.7 845.6L1357.6 848.4L1359.4 850.9L1361.3 852L1363.2 852.6L1365 850L1366.9 852L1368.7 851.6L1370.6 852.4L1372.5 852.5L1374.3 852.5L1376.2 851.5L1378.1 853.2L1379.9 852.4L1381.8 853.2L1383.7 852.6L1385.5 850.5L1387.4 851.6L1389.3 852.4L1391.1 852.3L1393 828.2L1394.9 799L1396.7 812.1L1398.6 821.4L1400.5 830.5L1402.3 838.2L1404.2 840.8L1406.1 845.9L1407.9 847L1409.8 849.1L1411.7 849.4L1413.5 845.9L1415.4 848.7L1417.3 851.1L1419.1 844.3L1421 837.2L1422.9 840.7L1424.7 845.4L1426.6 851L1428.5 849.2L1430.3 850.2L1432.2 850.3L1434.1 852.1L1435.9 850.4L1437.8 851.9L1439.7 852.7L1441.5 851.5L1443.4 853.2L1445.3 852.5L1447.1 850.4L1449 851.2L1450.9 852.4L1452.7 851.6L1454.6 849.3L1456.5 850.5L1458.3 852.3L1460.2 853.2L1462.1 852.7L1463.9 841.5L1465.8 825.7L1467.7 839.1L1469.5 845L1471.4 848.4" fill="none" stroke="#333" stroke-width="2.4" stroke-linejoin="round"/><path d="M1254.9 874.9L1256.8 867.8L1258.6 865.5L1260.5 867.6L1262.4 870.3L1264.2 871.8L1266.1 873.3L1268 872.3L1269.8 868.4L1271.7 870.1L1273.6 873.5L1275.4 872L1277.3 872.4L1279.2 873.1L1281 873.9L1282.9 873.7L1284.8 872.1L1286.6 872.1L1288.5 871.5L1290.4 873.3L1292.2 870.4L1294.1 872.6L1296 872L1297.8 870.8L1299.7 874.6L1301.6 871.3L1303.4 869.6L1305.3 873.5L1307.2 872.8L1309 873.1L1310.9 873.3L1312.8 859.2L1314.6 840.8L1316.5 854.5L1318.4 861.2L1320.2 867.1L1322.1 870.3L1324 871.3L1325.8 871.6L1327.7 872.7L1329.6 874.2L1331.4 872.8L1333.3 874.8L1335.2 876.8L1337 875.1L1338.9 876.4L1340.8 870.4L1342.6 869.3L1344.5 869.6L1346.4 868.9L1348.2 872.7L1350.1 873.7L1352 873.8L1353.8 873.1L1355.7 875L1357.6 875.5L1359.4 875.4L1361.3 874.6L1363.2 876.8L1365 875L1366.9 875L1368.7 873.8L1370.6 872L1372.5 873L1374.3 871.4L1376.2 871.7L1378.1 871.4L1379.9 871.8L1381.8 872.8L1383.7 874.9L1385.5 875.1L1387.4 873.1L1389.3 873.4L1391.1 875L1393 856.9L1394.9 835.1L1396.7 849.7L1398.6 851.5L1400.5 848.4L1402.3 856.5L1404.2 860.2L1406.1 863.6L1407.9 866.8L1409.8 868.9L1411.7 869.5L1413.5 870.1L1415.4 870.7L1417.3 869.8L1419.1 870.9L1421 872.8L1422.9 872.7L1424.7 871.7L1426.6 873.3L1428.5 873.6L1430.3 869.7L1432.2 871.3L1434.1 872.9L1435.9 874.2L1437.8 873.9L1439.7 872.3L1441.5 875.2L1443.4 875L1445.3 873.5L1447.1 876L1449 877.6L1450.9 871.1L1452.7 873.1L1454.6 873.2L1456.5 872.4L1458.3 871L1460.2 869.7L1462.1 868.7L1463.9 865.3L1465.8 868.4L1467.7 870.9L1469.5 873.4L1471.4 873.9" fill="none" stroke="#333" stroke-width="2.4" stroke-linejoin="round"/><path d="M1254.9 895.6L1256.8 894.2L1258.6 895.3L1260.5 892.4L1262.4 890.2L1264.2 892.4L1266.1 893L1268 892.5L1269.8 893.5L1271.7 896.6L1273.6 892.7L1275.4 894.1L1277.3 893.5L1279.2 895.1L1281 893.8L1282.9 892.2L1284.8 893.1L1286.6 895.8L1288.5 894.7L1290.4 894.2L1292.2 894.1L1294.1 894.1L1296 894.1L1297.8 895.8L1299.7 892L1301.6 893.1L1303.4 892.5L1305.3 892.9L1307.2 894.1L1309 892.3L1310.9 893.2L1312.8 893.3L1314.6 892.7L1316.5 892.7L1318.4 893.9L1320.2 896.6L1322.1 893.1L1324 888.2L1325.8 891.6L1327.7 895L1329.6 896.4L1331.4 893.4L1333.3 897.6L1335.2 895.4L1337 895L1338.9 893.4L1340.8 886.4L1342.6 891.4L1344.5 891.5L1346.4 894.7L1348.2 897.6L1350.1 894.8L1352 894.2L1353.8 895L1355.7 895.7L1357.6 892.7L1359.4 894.8L1361.3 894.5L1363.2 894.7L1365 895.8L1366.9 897L1368.7 895.1L1370.6 896.6L1372.5 894.7L1374.3 896.4L1376.2 894.5L1378.1 892.5L1379.9 894.3L1381.8 892.9L1383.7 895L1385.5 891.4L1387.4 887.6L1389.3 879L1391.1 888.4L1393 873.8L1394.9 853.2L1396.7 863.7L1398.6 864.3L1400.5 873.6L1402.3 879L1404.2 882.1L1406.1 886.2L1407.9 886.2L1409.8 886.6L1411.7 888.3L1413.5 891.5L1415.4 892.9L1417.3 891.4L1419.1 892.3L1421 885.2L1422.9 877.7L1424.7 882.8L1426.6 882.8L1428.5 887.6L1430.3 889.7L1432.2 891.1L1434.1 891.6L1435.9 895.7L1437.8 894L1439.7 893.7L1441.5 895.8L1443.4 895.6L1445.3 894.6L1447.1 894.7L1449 897.4L1450.9 894.9L1452.7 894.8L1454.6 887.5L1456.5 890.9L1458.3 893.5L1460.2 893.6L1462.1 895.4L1463.9 891.1L1465.8 889L1467.7 891.2L1469.5 893L1471.4 894.6" fill="none" stroke="#333" stroke-width="2.4" stroke-linejoin="round"/><path d="M1254.9 919.3L1256.8 918.4L1258.6 918.9L1260.5 917.1L1262.4 916L1264.2 917.8L1266.1 918L1268 917.1L1269.8 917.2L1271.7 917L1273.6 915.3L1275.4 913.8L1277.3 915.6L1279.2 915L1281 916.6L1282.9 917.7L1284.8 915.7L1286.6 919L1288.5 919.3L1290.4 918.4L1292.2 919L1294.1 918.2L1296 918.4L1297.8 918.2L1299.7 918.6L1301.6 917.8L1303.4 918.4L1305.3 914.8L1307.2 912.2L1309 916.5L1310.9 918.6L1312.8 918.8L1314.6 916.4L1316.5 917.3L1318.4 917.8L1320.2 918.8L1322.1 918.4L1324 917.2L1325.8 919.8L1327.7 918.7L1329.6 917.8L1331.4 917.8L1333.3 918.7L1335.2 919.8L1337 917.4L1338.9 918.6L1340.8 917.7L1342.6 918.9L1344.5 919.1L1346.4 919.5L1348.2 917.3L1350.1 918.8L1352 917.6L1353.8 917.8L1355.7 918.4L1357.6 917.5L1359.4 917.8L1361.3 917.9L1363.2 917.9L1365 918.8L1366.9 919.1L1368.7 917.2L1370.6 918.3L1372.5 918L1374.3 916.6L1376.2 917.2L1378.1 916.6L1379.9 915.7L1381.8 916.4L1383.7 915.6L1385.5 917.3L1387.4 912.1L1389.3 907.7L1391.1 913.3L1393 899.9L1394.9 881.5L1396.7 893L1398.6 900L1400.5 905.7L1402.3 908.5L1404.2 907.4L1406.1 907L1407.9 912L1409.8 913.4L1411.7 913.7L1413.5 915.7L1415.4 913.1L1417.3 913.3L1419.1 913.1L1421 914.5L1422.9 914.9L1424.7 917.2L1426.6 918L1428.5 917.6L1430.3 917.5L1432.2 918.3L1434.1 918.5L1435.9 918.8L1437.8 915.5L1439.7 917.3L1441.5 918.4L1443.4 920.4L1445.3 917L1447.1 916L1449 917.2L1450.9 917.8L1452.7 917.3L1454.6 917.8L1456.5 917.4L1458.3 918.2L1460.2 917.3L1462.1 918.1L1463.9 918L1465.8 918.6L1467.7 918.6L1469.5 916.3L1471.4 915.7" fill="none" stroke="#333" stroke-width="2.4" stroke-linejoin="round"/><path d="M1254.9 938.8L1256.8 939L1258.6 939.5L1260.5 942.1L1262.4 939.7L1264.2 939.1L1266.1 941.1L1268 940.8L1269.8 942.6L1271.7 941.1L1273.6 938.6L1275.4 940.7L1277.3 938.2L1279.2 941.5L1281 938L1282.9 940.7L1284.8 938.7L1286.6 937.6L1288.5 937.7L1290.4 941.1L1292.2 942.1L1294.1 940.8L1296 940.2L1297.8 939.4L1299.7 936.2L1301.6 937.4L1303.4 939.4L1305.3 940.3L1307.2 939.6L1309 941.2L1310.9 940.3L1312.8 940.6L1314.6 939.9L1316.5 940.6L1318.4 940.1L1320.2 939.2L1322.1 941.2L1324 940.7L1325.8 939L1327.7 938.2L1329.6 936.5L1331.4 938.5L1333.3 939.6L1335.2 940.5L1337 936.2L1338.9 933.2L1340.8 937.5L1342.6 938.4L1344.5 939.2L1346.4 938L1348.2 940.8L1350.1 940.8L1352 940L1353.8 941.5L1355.7 942.2L1357.6 939.2L1359.4 940.3L1361.3 938.3L1363.2 940.3L1365 939.8L1366.9 940.1L1368.7 939L1370.6 937.9L1372.5 939.3L1374.3 939L1376.2 937.7L1378.1 937.4L1379.9 941.1L1381.8 939.7L1383.7 936.1L1385.5 930L1387.4 924.4L1389.3 911.6L1391.1 922.9L1393 930L1394.9 931.5L1396.7 936L1398.6 938.7L1400.5 937.4L1402.3 938.5L1404.2 938.6L1406.1 939.3L1407.9 941.1L1409.8 939.5L1411.7 939.8L1413.5 938.7L1415.4 941.3L1417.3 940L1419.1 939.5L1421 941.5L1422.9 940.5L1424.7 938.8L1426.6 941.6L1428.5 940.8L1430.3 939.9L1432.2 939.4L1434.1 939.3L1435.9 939.2L1437.8 938.2L1439.7 940.6L1441.5 940.5L1443.4 941.2L1445.3 940.9L1447.1 940.6L1449 935.2L1450.9 932.4L1452.7 937.1L1454.6 937L1456.5 939.1L1458.3 940L1460.2 939.2L1462.1 938.7L1463.9 939.5L1465.8 938.6L1467.7 937.8L1469.5 941.3L1471.4 942.3" fill="none" stroke="#333" stroke-width="2.4" stroke-linejoin="round"/><path d="M1254.9 961.7L1256.8 962.5L1258.6 961.3L1260.5 961.6L1262.4 960.4L1264.2 959.6L1266.1 960.8L1268 959L1269.8 960.3L1271.7 960.5L1273.6 963.6L1275.4 962.3L1277.3 962L1279.2 960.6L1281 960.2L1282.9 958.7L1284.8 960L1286.6 961.3L1288.5 962L1290.4 961.1L1292.2 961.1L1294.1 960.2L1296 962.5L1297.8 961.8L1299.7 961.4L1301.6 960.7L1303.4 961.1L1305.3 960.9L1307.2 956.6L1309 957.5L1310.9 959.7L1312.8 959.8L1314.6 960.7L1316.5 961.7L1318.4 960.8L1320.2 960.8L1322.1 960.5L1324 960.5L1325.8 961.4L1327.7 961.8L1329.6 960.1L1331.4 959.9L1333.3 960.4L1335.2 961.1L1337 961.9L1338.9 961.3L1340.8 961.5L1342.6 960.6L1344.5 960.3L1346.4 961.2L1348.2 961.2L1350.1 960L1352 959.1L1353.8 961.8L1355.7 959.5L1357.6 960.2L1359.4 961L1361.3 959.6L1363.2 960.8L1365 959.7L1366.9 961.6L1368.7 959.8L1370.6 961.5L1372.5 959.7L1374.3 959.8L1376.2 959.7L1378.1 960.2L1379.9 961.5L1381.8 960.7L1383.7 960.3L1385.5 960.6L1387.4 960.5L1389.3 960.2L1391.1 959.5L1393 961.1L1394.9 961.3L1396.7 959.2L1398.6 956.8L1400.5 958.5L1402.3 959.2L1404.2 958.6L1406.1 956.8L1407.9 953.4L1409.8 955.7L1411.7 958.4L1413.5 957.7L1415.4 957.8L1417.3 957.3L1419.1 956.2L1421 957.5L1422.9 959.3L1424.7 959.2L1426.6 959.5L1428.5 959.1L1430.3 961.2L1432.2 961L1434.1 960.4L1435.9 961L1437.8 960.7L1439.7 960L1441.5 961.4L1443.4 960.3L1445.3 961.2L1447.1 962.2L1449 962.1L1450.9 962.1L1452.7 962.6L1454.6 961.2L1456.5 960.9L1458.3 962.6L1460.2 960.9L1462.1 961.6L1463.9 960.7L1465.8 961.4L1467.7 962.1L1469.5 960.6L1471.4 961.7" fill="none" stroke="#333" stroke-width="2.4" stroke-linejoin="round"/><path d="M1254.9 988.6L1256.8 986.3L1258.6 987.1L1260.5 986.8L1262.4 985.5L1264.2 986.8L1266.1 985.6L1268 987.2L1269.8 986.7L1271.7 988.8L1273.6 985.1L1275.4 984.3L1277.3 985.1L1279.2 982L1281 984.7L1282.9 985.6L1284.8 986.7L1286.6 988.9L1288.5 987L1290.4 986.8L1292.2 988.7L1294.1 988.2L1296 988L1297.8 989.8L1299.7 987.3L1301.6 988.1L1303.4 987.3L1305.3 985.9L1307.2 987.6L1309 987.4L1310.9 986.8L1312.8 986.5L1314.6 986.8L1316.5 988.3L1318.4 988.8L1320.2 986.7L1322.1 986.7L1324 988.9L1325.8 988.7L1327.7 987.8L1329.6 986.6L1331.4 986.6L1333.3 986.5L1335.2 985.7L1337 988.7L1338.9 986.9L1340.8 987L1342.6 985.5L1344.5 984.8L1346.4 987.2L1348.2 988.5L1350.1 988.1L1352 987.2L1353.8 985.9L1355.7 986.3L1357.6 988L1359.4 986.5L1361.3 987.6L1363.2 987.1L1365 989.9L1366.9 988.5L1368.7 986.6L1370.6 983.8L1372.5 986.8L1374.3 985.5L1376.2 984.6L1378.1 985.7L1379.9 988.1L1381.8 986.8L1383.7 985.4L1385.5 982.4L1387.4 985.2L1389.3 986.4L1391.1 986L1393 986.1L1394.9 977L1396.7 966.9L1398.6 975L1400.5 978.3L1402.3 983.6L1404.2 982.6L1406.1 981.4L1407.9 983.9L1409.8 984.6L1411.7 984.9L1413.5 981.7L1415.4 985.2L1417.3 985L1419.1 984.1L1421 987.4L1422.9 990.5L1424.7 989.6L1426.6 988.5L1428.5 988.1L1430.3 988.5L1432.2 987.7L1434.1 988.4L1435.9 989.2L1437.8 987.9L1439.7 988.3L1441.5 989.1L1443.4 986.7L1445.3 988.2L1447.1 986.5L1449 987.1L1450.9 987.6L1452.7 988L1454.6 987.6L1456.5 986.7L1458.3 988.3L1460.2 988.6L1462.1 988.2L1463.9 985.8L1465.8 987.4L1467.7 987.1L1469.5 987.1L1471.4 986.9" fill="none" stroke="#333" stroke-width="2.4" stroke-linejoin="round"/><path d="M1488 939L1488 983" stroke="#222" stroke-width="3.6" fill="none" /><path d="M1441 1006.8L1476 1006.8" stroke="#222" stroke-width="3.6" fill="none" /><text x="1461" y="1036.5" font-size="26.5" text-anchor="middle" fill="#111" >10 s</text><text transform="translate(1527 911) rotate(-90)" font-size="26.5" text-anchor="middle" fill="#111">200% Δ<tspan font-style="italic">F</tspan>/<tspan font-style="italic">F</tspan><tspan font-size="15" dy="5">0</tspan></text><path d="M1727.1 893.7a4.8 4.8 0 1 0 9.6 0a4.8 4.8 0 1 0 -9.6 0M1731.3 894.2a4.8 4.8 0 1 0 9.6 0a4.8 4.8 0 1 0 -9.6 0M1727.4 892.2a4.8 4.8 0 1 0 9.6 0a4.8 4.8 0 1 0 -9.6 0M1732.7 890.6a4.8 4.8 0 1 0 9.6 0a4.8 4.8 0 1 0 -9.6 0M1726.6 887.3a4.8 4.8 0 1 0 9.6 0a4.8 4.8 0 1 0 -9.6 0M1731.1 888.5a4.8 4.8 0 1 0 9.6 0a4.8 4.8 0 1 0 -9.6 0M1723.8 884.5a4.8 4.8 0 1 0 9.6 0a4.8 4.8 0 1 0 -9.6 0M1729.7 885.4a4.8 4.8 0 1 0 9.6 0a4.8 4.8 0 1 0 -9.6 0M1733 885.5a4.8 4.8 0 1 0 9.6 0a4.8 4.8 0 1 0 -9.6 0M1721.3 880.8a4.8 4.8 0 1 0 9.6 0a4.8 4.8 0 1 0 -9.6 0M1727.1 882.6a4.8 4.8 0 1 0 9.6 0a4.8 4.8 0 1 0 -9.6 0M1731.8 881.2a4.8 4.8 0 1 0 9.6 0a4.8 4.8 0 1 0 -9.6 0M1739.2 881.7a4.8 4.8 0 1 0 9.6 0a4.8 4.8 0 1 0 -9.6 0M1715.1 877.9a4.8 4.8 0 1 0 9.6 0a4.8 4.8 0 1 0 -9.6 0M1722.2 879.2a4.8 4.8 0 1 0 9.6 0a4.8 4.8 0 1 0 -9.6 0M1727.4 879.5a4.8 4.8 0 1 0 9.6 0a4.8 4.8 0 1 0 -9.6 0M1732 880.1a4.8 4.8 0 1 0 9.6 0a4.8 4.8 0 1 0 -9.6 0M1736.9 879a4.8 4.8 0 1 0 9.6 0a4.8 4.8 0 1 0 -9.6 0M1743.3 879.2a4.8 4.8 0 1 0 9.6 0a4.8 4.8 0 1 0 -9.6 0M1715.7 875.9a4.8 4.8 0 1 0 9.6 0a4.8 4.8 0 1 0 -9.6 0M1721.1 874.5a4.8 4.8 0 1 0 9.6 0a4.8 4.8 0 1 0 -9.6 0M1725.7 875.2a4.8 4.8 0 1 0 9.6 0a4.8 4.8 0 1 0 -9.6 0M1731.2 875a4.8 4.8 0 1 0 9.6 0a4.8 4.8 0 1 0 -9.6 0M1737 875.1a4.8 4.8 0 1 0 9.6 0a4.8 4.8 0 1 0 -9.6 0M1744.1 875.3a4.8 4.8 0 1 0 9.6 0a4.8 4.8 0 1 0 -9.6 0M1714.5 871.7a4.8 4.8 0 1 0 9.6 0a4.8 4.8 0 1 0 -9.6 0M1720 873.6a4.8 4.8 0 1 0 9.6 0a4.8 4.8 0 1 0 -9.6 0M1726.8 872.8a4.8 4.8 0 1 0 9.6 0a4.8 4.8 0 1 0 -9.6 0M1731.4 873.1a4.8 4.8 0 1 0 9.6 0a4.8 4.8 0 1 0 -9.6 0M1737.2 872.2a4.8 4.8 0 1 0 9.6 0a4.8 4.8 0 1 0 -9.6 0M1745 872.9a4.8 4.8 0 1 0 9.6 0a4.8 4.8 0 1 0 -9.6 0M1714.9 869.8a4.8 4.8 0 1 0 9.6 0a4.8 4.8 0 1 0 -9.6 0M1721.4 870a4.8 4.8 0 1 0 9.6 0a4.8 4.8 0 1 0 -9.6 0M1725.7 868.1a4.8 4.8 0 1 0 9.6 0a4.8 4.8 0 1 0 -9.6 0M1731.8 868.7a4.8 4.8 0 1 0 9.6 0a4.8 4.8 0 1 0 -9.6 0M1737.3 870.4a4.8 4.8 0 1 0 9.6 0a4.8 4.8 0 1 0 -9.6 0M1744.7 868.8a4.8 4.8 0 1 0 9.6 0a4.8 4.8 0 1 0 -9.6 0M1715.2 865.8a4.8 4.8 0 1 0 9.6 0a4.8 4.8 0 1 0 -9.6 0M1721.6 866a4.8 4.8 0 1 0 9.6 0a4.8 4.8 0 1 0 -9.6 0M1725.8 865.4a4.8 4.8 0 1 0 9.6 0a4.8 4.8 0 1 0 -9.6 0M1732.3 865.5a4.8 4.8 0 1 0 9.6 0a4.8 4.8 0 1 0 -9.6 0M1738.2 867.1a4.8 4.8 0 1 0 9.6 0a4.8 4.8 0 1 0 -9.6 0M1743.6 865.4a4.8 4.8 0 1 0 9.6 0a4.8 4.8 0 1 0 -9.6 0M1716 862.9a4.8 4.8 0 1 0 9.6 0a4.8 4.8 0 1 0 -9.6 0M1719.6 861.7a4.8 4.8 0 1 0 9.6 0a4.8 4.8 0 1 0 -9.6 0M1725.5 863.2a4.8 4.8 0 1 0 9.6 0a4.8 4.8 0 1 0 -9.6 0M1732.9 862.7a4.8 4.8 0 1 0 9.6 0a4.8 4.8 0 1 0 -9.6 0M1737 862.6a4.8 4.8 0 1 0 9.6 0a4.8 4.8 0 1 0 -9.6 0M1745 863a4.8 4.8 0 1 0 9.6 0a4.8 4.8 0 1 0 -9.6 0M1715.9 860.6a4.8 4.8 0 1 0 9.6 0a4.8 4.8 0 1 0 -9.6 0M1719.4 860.2a4.8 4.8 0 1 0 9.6 0a4.8 4.8 0 1 0 -9.6 0M1726.8 859.8a4.8 4.8 0 1 0 9.6 0a4.8 4.8 0 1 0 -9.6 0M1731.6 860a4.8 4.8 0 1 0 9.6 0a4.8 4.8 0 1 0 -9.6 0M1737.1 859.5a4.8 4.8 0 1 0 9.6 0a4.8 4.8 0 1 0 -9.6 0M1743.7 860.9a4.8 4.8 0 1 0 9.6 0a4.8 4.8 0 1 0 -9.6 0M1715.7 855.9a4.8 4.8 0 1 0 9.6 0a4.8 4.8 0 1 0 -9.6 0M1720.6 855.6a4.8 4.8 0 1 0 9.6 0a4.8 4.8 0 1 0 -9.6 0M1727.4 857.4a4.8 4.8 0 1 0 9.6 0a4.8 4.8 0 1 0 -9.6 0M1731.7 856.8a4.8 4.8 0 1 0 9.6 0a4.8 4.8 0 1 0 -9.6 0M1738.3 855.6a4.8 4.8 0 1 0 9.6 0a4.8 4.8 0 1 0 -9.6 0M1744.4 856.6a4.8 4.8 0 1 0 9.6 0a4.8 4.8 0 1 0 -9.6 0M1715.5 853.3a4.8 4.8 0 1 0 9.6 0a4.8 4.8 0 1 0 -9.6 0M1719.4 852.8a4.8 4.8 0 1 0 9.6 0a4.8 4.8 0 1 0 -9.6 0M1725.2 854.4a4.8 4.8 0 1 0 9.6 0a4.8 4.8 0 1 0 -9.6 0M1733.1 854.1a4.8 4.8 0 1 0 9.6 0a4.8 4.8 0 1 0 -9.6 0M1737.5 852.1a4.8 4.8 0 1 0 9.6 0a4.8 4.8 0 1 0 -9.6 0M1744.7 854.4a4.8 4.8 0 1 0 9.6 0a4.8 4.8 0 1 0 -9.6 0M1713.8 850a4.8 4.8 0 1 0 9.6 0a4.8 4.8 0 1 0 -9.6 0M1719.6 850.7a4.8 4.8 0 1 0 9.6 0a4.8 4.8 0 1 0 -9.6 0M1727 849.1a4.8 4.8 0 1 0 9.6 0a4.8 4.8 0 1 0 -9.6 0M1732.1 850.2a4.8 4.8 0 1 0 9.6 0a4.8 4.8 0 1 0 -9.6 0M1737.4 851a4.8 4.8 0 1 0 9.6 0a4.8 4.8 0 1 0 -9.6 0M1743.6 849.3a4.8 4.8 0 1 0 9.6 0a4.8 4.8 0 1 0 -9.6 0M1714.9 847.5a4.8 4.8 0 1 0 9.6 0a4.8 4.8 0 1 0 -9.6 0M1719.9 846.4a4.8 4.8 0 1 0 9.6 0a4.8 4.8 0 1 0 -9.6 0M1727.6 847.2a4.8 4.8 0 1 0 9.6 0a4.8 4.8 0 1 0 -9.6 0M1732.1 846.9a4.8 4.8 0 1 0 9.6 0a4.8 4.8 0 1 0 -9.6 0M1737.1 846.1a4.8 4.8 0 1 0 9.6 0a4.8 4.8 0 1 0 -9.6 0M1743.4 847.1a4.8 4.8 0 1 0 9.6 0a4.8 4.8 0 1 0 -9.6 0M1714.2 842.9a4.8 4.8 0 1 0 9.6 0a4.8 4.8 0 1 0 -9.6 0M1719.6 844a4.8 4.8 0 1 0 9.6 0a4.8 4.8 0 1 0 -9.6 0M1725.7 844.7a4.8 4.8 0 1 0 9.6 0a4.8 4.8 0 1 0 -9.6 0M1733.1 842.5a4.8 4.8 0 1 0 9.6 0a4.8 4.8 0 1 0 -9.6 0M1737.4 844.1a4.8 4.8 0 1 0 9.6 0a4.8 4.8 0 1 0 -9.6 0M1743.1 842.7a4.8 4.8 0 1 0 9.6 0a4.8 4.8 0 1 0 -9.6 0M1715.8 840.6a4.8 4.8 0 1 0 9.6 0a4.8 4.8 0 1 0 -9.6 0M1720.5 841.2a4.8 4.8 0 1 0 9.6 0a4.8 4.8 0 1 0 -9.6 0M1727.1 839.6a4.8 4.8 0 1 0 9.6 0a4.8 4.8 0 1 0 -9.6 0M1731.2 840.3a4.8 4.8 0 1 0 9.6 0a4.8 4.8 0 1 0 -9.6 0M1737.8 840.4a4.8 4.8 0 1 0 9.6 0a4.8 4.8 0 1 0 -9.6 0M1744.3 840.9a4.8 4.8 0 1 0 9.6 0a4.8 4.8 0 1 0 -9.6 0M1716.7 836.2a4.8 4.8 0 1 0 9.6 0a4.8 4.8 0 1 0 -9.6 0M1720.8 836.8a4.8 4.8 0 1 0 9.6 0a4.8 4.8 0 1 0 -9.6 0M1727.4 836.6a4.8 4.8 0 1 0 9.6 0a4.8 4.8 0 1 0 -9.6 0M1731.3 837.1a4.8 4.8 0 1 0 9.6 0a4.8 4.8 0 1 0 -9.6 0M1737.4 836.7a4.8 4.8 0 1 0 9.6 0a4.8 4.8 0 1 0 -9.6 0M1742.4 838.3a4.8 4.8 0 1 0 9.6 0a4.8 4.8 0 1 0 -9.6 0M1716.2 835a4.8 4.8 0 1 0 9.6 0a4.8 4.8 0 1 0 -9.6 0M1721.7 832.9a4.8 4.8 0 1 0 9.6 0a4.8 4.8 0 1 0 -9.6 0M1727.9 834.9a4.8 4.8 0 1 0 9.6 0a4.8 4.8 0 1 0 -9.6 0M1733 835.1a4.8 4.8 0 1 0 9.6 0a4.8 4.8 0 1 0 -9.6 0M1737.9 833.2a4.8 4.8 0 1 0 9.6 0a4.8 4.8 0 1 0 -9.6 0M1742.2 833.3a4.8 4.8 0 1 0 9.6 0a4.8 4.8 0 1 0 -9.6 0M1716.9 829.7a4.8 4.8 0 1 0 9.6 0a4.8 4.8 0 1 0 -9.6 0M1722.9 832.1a4.8 4.8 0 1 0 9.6 0a4.8 4.8 0 1 0 -9.6 0M1728.7 831.6a4.8 4.8 0 1 0 9.6 0a4.8 4.8 0 1 0 -9.6 0M1735.3 830.6a4.8 4.8 0 1 0 9.6 0a4.8 4.8 0 1 0 -9.6 0M1742.5 832.1a4.8 4.8 0 1 0 9.6 0a4.8 4.8 0 1 0 -9.6 0M1718.1 828.2a4.8 4.8 0 1 0 9.6 0a4.8 4.8 0 1 0 -9.6 0M1722.8 827.1a4.8 4.8 0 1 0 9.6 0a4.8 4.8 0 1 0 -9.6 0M1730.4 827.8a4.8 4.8 0 1 0 9.6 0a4.8 4.8 0 1 0 -9.6 0M1735.1 828.3a4.8 4.8 0 1 0 9.6 0a4.8 4.8 0 1 0 -9.6 0M1739.6 827.8a4.8 4.8 0 1 0 9.6 0a4.8 4.8 0 1 0 -9.6 0M1718.8 825.3a4.8 4.8 0 1 0 9.6 0a4.8 4.8 0 1 0 -9.6 0M1723.2 825.6a4.8 4.8 0 1 0 9.6 0a4.8 4.8 0 1 0 -9.6 0M1728.3 823.6a4.8 4.8 0 1 0 9.6 0a4.8 4.8 0 1 0 -9.6 0M1734.8 824.9a4.8 4.8 0 1 0 9.6 0a4.8 4.8 0 1 0 -9.6 0M1739.2 823.4a4.8 4.8 0 1 0 9.6 0a4.8 4.8 0 1 0 -9.6 0M1720.5 820.6a4.8 4.8 0 1 0 9.6 0a4.8 4.8 0 1 0 -9.6 0M1726.3 821.5a4.8 4.8 0 1 0 9.6 0a4.8 4.8 0 1 0 -9.6 0M1732.3 821.4a4.8 4.8 0 1 0 9.6 0a4.8 4.8 0 1 0 -9.6 0M1739.1 822.4a4.8 4.8 0 1 0 9.6 0a4.8 4.8 0 1 0 -9.6 0M1719.7 818.6a4.8 4.8 0 1 0 9.6 0a4.8 4.8 0 1 0 -9.6 0M1725.7 817.7a4.8 4.8 0 1 0 9.6 0a4.8 4.8 0 1 0 -9.6 0M1732.7 817.5a4.8 4.8 0 1 0 9.6 0a4.8 4.8 0 1 0 -9.6 0M1737.8 818.7a4.8 4.8 0 1 0 9.6 0a4.8 4.8 0 1 0 -9.6 0M1720.1 814.7a4.8 4.8 0 1 0 9.6 0a4.8 4.8 0 1 0 -9.6 0M1727.8 816.1a4.8 4.8 0 1 0 9.6 0a4.8 4.8 0 1 0 -9.6 0M1731 814.1a4.8 4.8 0 1 0 9.6 0a4.8 4.8 0 1 0 -9.6 0M1736.9 815.9a4.8 4.8 0 1 0 9.6 0a4.8 4.8 0 1 0 -9.6 0M1722.9 812.6a4.8 4.8 0 1 0 9.6 0a4.8 4.8 0 1 0 -9.6 0M1726.5 810.7a4.8 4.8 0 1 0 9.6 0a4.8 4.8 0 1 0 -9.6 0M1732.5 812.1a4.8 4.8 0 1 0 9.6 0a4.8 4.8 0 1 0 -9.6 0M1736.9 812.9a4.8 4.8 0 1 0 9.6 0a4.8 4.8 0 1 0 -9.6 0M1723.2 807.1a4.8 4.8 0 1 0 9.6 0a4.8 4.8 0 1 0 -9.6 0M1730.1 807.9a4.8 4.8 0 1 0 9.6 0a4.8 4.8 0 1 0 -9.6 0M1736.2 809.5a4.8 4.8 0 1 0 9.6 0a4.8 4.8 0 1 0 -9.6 0M1729.3 751.8a4.8 4.8 0 1 0 9.6 0a4.8 4.8 0 1 0 -9.6 0M1738.5 768.9a4.8 4.8 0 1 0 9.6 0a4.8 4.8 0 1 0 -9.6 0M1720.4 775.8a4.8 4.8 0 1 0 9.6 0a4.8 4.8 0 1 0 -9.6 0M1729.3 784a4.8 4.8 0 1 0 9.6 0a4.8 4.8 0 1 0 -9.6 0M1720.4 791.9a4.8 4.8 0 1 0 9.6 0a4.8 4.8 0 1 0 -9.6 0M1738.5 793.6a4.8 4.8 0 1 0 9.6 0a4.8 4.8 0 1 0 -9.6 0M1724.8 800.5a4.8 4.8 0 1 0 9.6 0a4.8 4.8 0 1 0 -9.6 0M1735.1 802.2a4.8 4.8 0 1 0 9.6 0a4.8 4.8 0 1 0 -9.6 0M1719.7 810.7a4.8 4.8 0 1 0 9.6 0a4.8 4.8 0 1 0 -9.6 0M1740.3 812.4a4.8 4.8 0 1 0 9.6 0a4.8 4.8 0 1 0 -9.6 0M1730 809a4.8 4.8 0 1 0 9.6 0a4.8 4.8 0 1 0 -9.6 0" fill="none" stroke="#6d6e71" stroke-width="2.4"/><path d="M1780.4 895.8a4.8 4.8 0 1 0 9.6 0a4.8 4.8 0 1 0 -9.6 0M1785.4 896.9a4.8 4.8 0 1 0 9.6 0a4.8 4.8 0 1 0 -9.6 0M1780.8 893.9a4.8 4.8 0 1 0 9.6 0a4.8 4.8 0 1 0 -9.6 0M1786.8 892.8a4.8 4.8 0 1 0 9.6 0a4.8 4.8 0 1 0 -9.6 0M1781.6 889.8a4.8 4.8 0 1 0 9.6 0a4.8 4.8 0 1 0 -9.6 0M1786.3 891.5a4.8 4.8 0 1 0 9.6 0a4.8 4.8 0 1 0 -9.6 0M1780.6 886.1a4.8 4.8 0 1 0 9.6 0a4.8 4.8 0 1 0 -9.6 0M1787.6 886.6a4.8 4.8 0 1 0 9.6 0a4.8 4.8 0 1 0 -9.6 0M1775 884.7a4.8 4.8 0 1 0 9.6 0a4.8 4.8 0 1 0 -9.6 0M1781.6 883.4a4.8 4.8 0 1 0 9.6 0a4.8 4.8 0 1 0 -9.6 0M1786.9 884.1a4.8 4.8 0 1 0 9.6 0a4.8 4.8 0 1 0 -9.6 0M1791.3 882.7a4.8 4.8 0 1 0 9.6 0a4.8 4.8 0 1 0 -9.6 0M1771.5 881.8a4.8 4.8 0 1 0 9.6 0a4.8 4.8 0 1 0 -9.6 0M1779.1 880.9a4.8 4.8 0 1 0 9.6 0a4.8 4.8 0 1 0 -9.6 0M1784.6 881a4.8 4.8 0 1 0 9.6 0a4.8 4.8 0 1 0 -9.6 0M1788.6 879.8a4.8 4.8 0 1 0 9.6 0a4.8 4.8 0 1 0 -9.6 0M1794.6 881.8a4.8 4.8 0 1 0 9.6 0a4.8 4.8 0 1 0 -9.6 0M1770 878.5a4.8 4.8 0 1 0 9.6 0a4.8 4.8 0 1 0 -9.6 0M1776.1 876.8a4.8 4.8 0 1 0 9.6 0a4.8 4.8 0 1 0 -9.6 0M1780.3 876.6a4.8 4.8 0 1 0 9.6 0a4.8 4.8 0 1 0 -9.6 0M1787.4 878.6a4.8 4.8 0 1 0 9.6 0a4.8 4.8 0 1 0 -9.6 0M1792.3 877.9a4.8 4.8 0 1 0 9.6 0a4.8 4.8 0 1 0 -9.6 0M1797.5 878.7a4.8 4.8 0 1 0 9.6 0a4.8 4.8 0 1 0 -9.6 0M1770.2 875.6a4.8 4.8 0 1 0 9.6 0a4.8 4.8 0 1 0 -9.6 0M1775.8 875.4a4.8 4.8 0 1 0 9.6 0a4.8 4.8 0 1 0 -9.6 0M1779.8 875a4.8 4.8 0 1 0 9.6 0a4.8 4.8 0 1 0 -9.6 0M1786.3 875.5a4.8 4.8 0 1 0 9.6 0a4.8 4.8 0 1 0 -9.6 0M1793.2 875.3a4.8 4.8 0 1 0 9.6 0a4.8 4.8 0 1 0 -9.6 0M1799 873.8a4.8 4.8 0 1 0 9.6 0a4.8 4.8 0 1 0 -9.6 0M1770 870.2a4.8 4.8 0 1 0 9.6 0a4.8 4.8 0 1 0 -9.6 0M1776 872.1a4.8 4.8 0 1 0 9.6 0a4.8 4.8 0 1 0 -9.6 0M1780.2 872a4.8 4.8 0 1 0 9.6 0a4.8 4.8 0 1 0 -9.6 0M1786.6 870.7a4.8 4.8 0 1 0 9.6 0a4.8 4.8 0 1 0 -9.6 0M1793.2 870.5a4.8 4.8 0 1 0 9.6 0a4.8 4.8 0 1 0 -9.6 0M1797.2 870.4a4.8 4.8 0 1 0 9.6 0a4.8 4.8 0 1 0 -9.6 0M1768.9 868.9a4.8 4.8 0 1 0 9.6 0a4.8 4.8 0 1 0 -9.6 0M1776.2 867.4a4.8 4.8 0 1 0 9.6 0a4.8 4.8 0 1 0 -9.6 0M1781.2 867.7a4.8 4.8 0 1 0 9.6 0a4.8 4.8 0 1 0 -9.6 0M1787.9 868.1a4.8 4.8 0 1 0 9.6 0a4.8 4.8 0 1 0 -9.6 0M1793.6 867a4.8 4.8 0 1 0 9.6 0a4.8 4.8 0 1 0 -9.6 0M1799.4 867.1a4.8 4.8 0 1 0 9.6 0a4.8 4.8 0 1 0 -9.6 0M1770.4 864.2a4.8 4.8 0 1 0 9.6 0a4.8 4.8 0 1 0 -9.6 0M1774.2 864.6a4.8 4.8 0 1 0 9.6 0a4.8 4.8 0 1 0 -9.6 0M1781.4 864.3a4.8 4.8 0 1 0 9.6 0a4.8 4.8 0 1 0 -9.6 0M1787 864.8a4.8 4.8 0 1 0 9.6 0a4.8 4.8 0 1 0 -9.6 0M1792.2 865a4.8 4.8 0 1 0 9.6 0a4.8 4.8 0 1 0 -9.6 0M1797.7 865.3a4.8 4.8 0 1 0 9.6 0a4.8 4.8 0 1 0 -9.6 0M1768.1 862.7a4.8 4.8 0 1 0 9.6 0a4.8 4.8 0 1 0 -9.6 0M1775.2 862.1a4.8 4.8 0 1 0 9.6 0a4.8 4.8 0 1 0 -9.6 0M1781.5 862a4.8 4.8 0 1 0 9.6 0a4.8 4.8 0 1 0 -9.6 0M1786.4 860.4a4.8 4.8 0 1 0 9.6 0a4.8 4.8 0 1 0 -9.6 0M1792.9 861.1a4.8 4.8 0 1 0 9.6 0a4.8 4.8 0 1 0 -9.6 0M1797.9 862.5a4.8 4.8 0 1 0 9.6 0a4.8 4.8 0 1 0 -9.6 0M1769.8 857.8a4.8 4.8 0 1 0 9.6 0a4.8 4.8 0 1 0 -9.6 0M1774.6 858.1a4.8 4.8 0 1 0 9.6 0a4.8 4.8 0 1 0 -9.6 0M1780.7 857.8a4.8 4.8 0 1 0 9.6 0a4.8 4.8 0 1 0 -9.6 0M1785.8 858.1a4.8 4.8 0 1 0 9.6 0a4.8 4.8 0 1 0 -9.6 0M1793.6 858.8a4.8 4.8 0 1 0 9.6 0a4.8 4.8 0 1 0 -9.6 0M1799.3 858.7a4.8 4.8 0 1 0 9.6 0a4.8 4.8 0 1 0 -9.6 0M1768.8 855.3a4.8 4.8 0 1 0 9.6 0a4.8 4.8 0 1 0 -9.6 0M1773.9 854.6a4.8 4.8 0 1 0 9.6 0a4.8 4.8 0 1 0 -9.6 0M1780.7 855.4a4.8 4.8 0 1 0 9.6 0a4.8 4.8 0 1 0 -9.6 0M1787.1 855.1a4.8 4.8 0 1 0 9.6 0a4.8 4.8 0 1 0 -9.6 0M1792.4 854.4a4.8 4.8 0 1 0 9.6 0a4.8 4.8 0 1 0 -9.6 0M1798.2 856.2a4.8 4.8 0 1 0 9.6 0a4.8 4.8 0 1 0 -9.6 0M1770 851.1a4.8 4.8 0 1 0 9.6 0a4.8 4.8 0 1 0 -9.6 0M1774.1 852a4.8 4.8 0 1 0 9.6 0a4.8 4.8 0 1 0 -9.6 0M1781.2 851.5a4.8 4.8 0 1 0 9.6 0a4.8 4.8 0 1 0 -9.6 0M1787.5 852.6a4.8 4.8 0 1 0 9.6 0a4.8 4.8 0 1 0 -9.6 0M1792.9 851.2a4.8 4.8 0 1 0 9.6 0a4.8 4.8 0 1 0 -9.6 0M1797.6 850.7a4.8 4.8 0 1 0 9.6 0a4.8 4.8 0 1 0 -9.6 0M1768.7 848.7a4.8 4.8 0 1 0 9.6 0a4.8 4.8 0 1 0 -9.6 0M1775.9 847.6a4.8 4.8 0 1 0 9.6 0a4.8 4.8 0 1 0 -9.6 0M1780.7 849.1a4.8 4.8 0 1 0 9.6 0a4.8 4.8 0 1 0 -9.6 0M1786 849.3a4.8 4.8 0 1 0 9.6 0a4.8 4.8 0 1 0 -9.6 0M1792.5 848.1a4.8 4.8 0 1 0 9.6 0a4.8 4.8 0 1 0 -9.6 0M1798.7 847.5a4.8 4.8 0 1 0 9.6 0a4.8 4.8 0 1 0 -9.6 0M1769.9 846.2a4.8 4.8 0 1 0 9.6 0a4.8 4.8 0 1 0 -9.6 0M1774.2 845.3a4.8 4.8 0 1 0 9.6 0a4.8 4.8 0 1 0 -9.6 0M1780.1 846.7a4.8 4.8 0 1 0 9.6 0a4.8 4.8 0 1 0 -9.6 0M1786.7 844.4a4.8 4.8 0 1 0 9.6 0a4.8 4.8 0 1 0 -9.6 0M1791.9 846.4a4.8 4.8 0 1 0 9.6 0a4.8 4.8 0 1 0 -9.6 0M1798.2 846.3a4.8 4.8 0 1 0 9.6 0a4.8 4.8 0 1 0 -9.6 0M1769.7 843.6a4.8 4.8 0 1 0 9.6 0a4.8 4.8 0 1 0 -9.6 0M1775.3 843.5a4.8 4.8 0 1 0 9.6 0a4.8 4.8 0 1 0 -9.6 0M1781.8 842.6a4.8 4.8 0 1 0 9.6 0a4.8 4.8 0 1 0 -9.6 0M1787.2 842.3a4.8 4.8 0 1 0 9.6 0a4.8 4.8 0 1 0 -9.6 0M1793.3 842.5a4.8 4.8 0 1 0 9.6 0a4.8 4.8 0 1 0 -9.6 0M1799.3 843a4.8 4.8 0 1 0 9.6 0a4.8 4.8 0 1 0 -9.6 0M1769.2 838.5a4.8 4.8 0 1 0 9.6 0a4.8 4.8 0 1 0 -9.6 0M1774.5 839.5a4.8 4.8 0 1 0 9.6 0a4.8 4.8 0 1 0 -9.6 0M1781.5 839.2a4.8 4.8 0 1 0 9.6 0a4.8 4.8 0 1 0 -9.6 0M1787 838.5a4.8 4.8 0 1 0 9.6 0a4.8 4.8 0 1 0 -9.6 0M1791.5 838.6a4.8 4.8 0 1 0 9.6 0a4.8 4.8 0 1 0 -9.6 0M1797.8 838.7a4.8 4.8 0 1 0 9.6 0a4.8 4.8 0 1 0 -9.6 0M1769.4 835a4.8 4.8 0 1 0 9.6 0a4.8 4.8 0 1 0 -9.6 0M1774.5 836.4a4.8 4.8 0 1 0 9.6 0a4.8 4.8 0 1 0 -9.6 0M1781.4 834.8a4.8 4.8 0 1 0 9.6 0a4.8 4.8 0 1 0 -9.6 0M1786.5 836a4.8 4.8 0 1 0 9.6 0a4.8 4.8 0 1 0 -9.6 0M1792.3 835.2a4.8 4.8 0 1 0 9.6 0a4.8 4.8 0 1 0 -9.6 0M1798.1 837a4.8 4.8 0 1 0 9.6 0a4.8 4.8 0 1 0 -9.6 0M1769.5 833.2a4.8 4.8 0 1 0 9.6 0a4.8 4.8 0 1 0 -9.6 0M1776 833.4a4.8 4.8 0 1 0 9.6 0a4.8 4.8 0 1 0 -9.6 0M1780.6 831.4a4.8 4.8 0 1 0 9.6 0a4.8 4.8 0 1 0 -9.6 0M1786.3 833.4a4.8 4.8 0 1 0 9.6 0a4.8 4.8 0 1 0 -9.6 0M1793.3 833.9a4.8 4.8 0 1 0 9.6 0a4.8 4.8 0 1 0 -9.6 0M1798.1 833.4a4.8 4.8 0 1 0 9.6 0a4.8 4.8 0 1 0 -9.6 0M1770.6 829.8a4.8 4.8 0 1 0 9.6 0a4.8 4.8 0 1 0 -9.6 0M1775.2 828.8a4.8 4.8 0 1 0 9.6 0a4.8 4.8 0 1 0 -9.6 0M1781 828.3a4.8 4.8 0 1 0 9.6 0a4.8 4.8 0 1 0 -9.6 0M1786.1 830a4.8 4.8 0 1 0 9.6 0a4.8 4.8 0 1 0 -9.6 0M1791.5 828.6a4.8 4.8 0 1 0 9.6 0a4.8 4.8 0 1 0 -9.6 0M1797 828.5a4.8 4.8 0 1 0 9.6 0a4.8 4.8 0 1 0 -9.6 0M1772 825.1a4.8 4.8 0 1 0 9.6 0a4.8 4.8 0 1 0 -9.6 0M1777.5 826.5a4.8 4.8 0 1 0 9.6 0a4.8 4.8 0 1 0 -9.6 0M1782.7 826.7a4.8 4.8 0 1 0 9.6 0a4.8 4.8 0 1 0 -9.6 0M1789 826.2a4.8 4.8 0 1 0 9.6 0a4.8 4.8 0 1 0 -9.6 0M1794.8 826a4.8 4.8 0 1 0 9.6 0a4.8 4.8 0 1 0 -9.6 0M1772.2 822.7a4.8 4.8 0 1 0 9.6 0a4.8 4.8 0 1 0 -9.6 0M1779 822.8a4.8 4.8 0 1 0 9.6 0a4.8 4.8 0 1 0 -9.6 0M1784.4 824a4.8 4.8 0 1 0 9.6 0a4.8 4.8 0 1 0 -9.6 0M1788.6 822a4.8 4.8 0 1 0 9.6 0a4.8 4.8 0 1 0 -9.6 0M1793.5 823.2a4.8 4.8 0 1 0 9.6 0a4.8 4.8 0 1 0 -9.6 0M1775.3 819.5a4.8 4.8 0 1 0 9.6 0a4.8 4.8 0 1 0 -9.6 0M1780.9 820.6a4.8 4.8 0 1 0 9.6 0a4.8 4.8 0 1 0 -9.6 0M1787.4 820.6a4.8 4.8 0 1 0 9.6 0a4.8 4.8 0 1 0 -9.6 0M1794.6 819.1a4.8 4.8 0 1 0 9.6 0a4.8 4.8 0 1 0 -9.6 0M1774.2 815.8a4.8 4.8 0 1 0 9.6 0a4.8 4.8 0 1 0 -9.6 0M1780.1 817.1a4.8 4.8 0 1 0 9.6 0a4.8 4.8 0 1 0 -9.6 0M1786.8 816a4.8 4.8 0 1 0 9.6 0a4.8 4.8 0 1 0 -9.6 0M1792.8 817.4a4.8 4.8 0 1 0 9.6 0a4.8 4.8 0 1 0 -9.6 0M1775.7 813.8a4.8 4.8 0 1 0 9.6 0a4.8 4.8 0 1 0 -9.6 0M1782 812.5a4.8 4.8 0 1 0 9.6 0a4.8 4.8 0 1 0 -9.6 0M1787 814.7a4.8 4.8 0 1 0 9.6 0a4.8 4.8 0 1 0 -9.6 0M1790.1 812.3a4.8 4.8 0 1 0 9.6 0a4.8 4.8 0 1 0 -9.6 0M1777.3 810.7a4.8 4.8 0 1 0 9.6 0a4.8 4.8 0 1 0 -9.6 0M1784.9 810a4.8 4.8 0 1 0 9.6 0a4.8 4.8 0 1 0 -9.6 0M1790.4 809.2a4.8 4.8 0 1 0 9.6 0a4.8 4.8 0 1 0 -9.6 0M1774.5 781.6a4.8 4.8 0 1 0 9.6 0a4.8 4.8 0 1 0 -9.6 0M1783.8 787.4a4.8 4.8 0 1 0 9.6 0a4.8 4.8 0 1 0 -9.6 0M1792.7 786.7a4.8 4.8 0 1 0 9.6 0a4.8 4.8 0 1 0 -9.6 0M1779.7 795.3a4.8 4.8 0 1 0 9.6 0a4.8 4.8 0 1 0 -9.6 0M1788.2 800.5a4.8 4.8 0 1 0 9.6 0a4.8 4.8 0 1 0 -9.6 0M1774.5 807.3a4.8 4.8 0 1 0 9.6 0a4.8 4.8 0 1 0 -9.6 0M1793.4 809a4.8 4.8 0 1 0 9.6 0a4.8 4.8 0 1 0 -9.6 0M1783.8 810.7a4.8 4.8 0 1 0 9.6 0a4.8 4.8 0 1 0 -9.6 0" fill="none" stroke="#fb9bc8" stroke-width="2.4"/><path d="M1835.2 899a4.8 4.8 0 1 0 9.6 0a4.8 4.8 0 1 0 -9.6 0M1838.7 899.4a4.8 4.8 0 1 0 9.6 0a4.8 4.8 0 1 0 -9.6 0M1835.5 895.8a4.8 4.8 0 1 0 9.6 0a4.8 4.8 0 1 0 -9.6 0M1838.8 896.7a4.8 4.8 0 1 0 9.6 0a4.8 4.8 0 1 0 -9.6 0M1835.4 891.9a4.8 4.8 0 1 0 9.6 0a4.8 4.8 0 1 0 -9.6 0M1839.5 891.9a4.8 4.8 0 1 0 9.6 0a4.8 4.8 0 1 0 -9.6 0M1833.2 888.7a4.8 4.8 0 1 0 9.6 0a4.8 4.8 0 1 0 -9.6 0M1842 889.9a4.8 4.8 0 1 0 9.6 0a4.8 4.8 0 1 0 -9.6 0M1828.6 887.1a4.8 4.8 0 1 0 9.6 0a4.8 4.8 0 1 0 -9.6 0M1835 886.7a4.8 4.8 0 1 0 9.6 0a4.8 4.8 0 1 0 -9.6 0M1840.2 885.7a4.8 4.8 0 1 0 9.6 0a4.8 4.8 0 1 0 -9.6 0M1845.4 887.1a4.8 4.8 0 1 0 9.6 0a4.8 4.8 0 1 0 -9.6 0M1825.4 883.5a4.8 4.8 0 1 0 9.6 0a4.8 4.8 0 1 0 -9.6 0M1831.6 882.6a4.8 4.8 0 1 0 9.6 0a4.8 4.8 0 1 0 -9.6 0M1837 883.3a4.8 4.8 0 1 0 9.6 0a4.8 4.8 0 1 0 -9.6 0M1842.3 883.6a4.8 4.8 0 1 0 9.6 0a4.8 4.8 0 1 0 -9.6 0M1849.3 881.6a4.8 4.8 0 1 0 9.6 0a4.8 4.8 0 1 0 -9.6 0M1823.6 878.8a4.8 4.8 0 1 0 9.6 0a4.8 4.8 0 1 0 -9.6 0M1828.4 879.8a4.8 4.8 0 1 0 9.6 0a4.8 4.8 0 1 0 -9.6 0M1834 878.2a4.8 4.8 0 1 0 9.6 0a4.8 4.8 0 1 0 -9.6 0M1840.9 878.6a4.8 4.8 0 1 0 9.6 0a4.8 4.8 0 1 0 -9.6 0M1845.2 880.2a4.8 4.8 0 1 0 9.6 0a4.8 4.8 0 1 0 -9.6 0M1851.3 880.5a4.8 4.8 0 1 0 9.6 0a4.8 4.8 0 1 0 -9.6 0M1823.2 875.7a4.8 4.8 0 1 0 9.6 0a4.8 4.8 0 1 0 -9.6 0M1827.3 877.4a4.8 4.8 0 1 0 9.6 0a4.8 4.8 0 1 0 -9.6 0M1833.3 876.8a4.8 4.8 0 1 0 9.6 0a4.8 4.8 0 1 0 -9.6 0M1840.1 876.9a4.8 4.8 0 1 0 9.6 0a4.8 4.8 0 1 0 -9.6 0M1846.4 876.6a4.8 4.8 0 1 0 9.6 0a4.8 4.8 0 1 0 -9.6 0M1851.7 877a4.8 4.8 0 1 0 9.6 0a4.8 4.8 0 1 0 -9.6 0M1821.7 872.3a4.8 4.8 0 1 0 9.6 0a4.8 4.8 0 1 0 -9.6 0M1829 872.6a4.8 4.8 0 1 0 9.6 0a4.8 4.8 0 1 0 -9.6 0M1834.5 873a4.8 4.8 0 1 0 9.6 0a4.8 4.8 0 1 0 -9.6 0M1840.2 872.9a4.8 4.8 0 1 0 9.6 0a4.8 4.8 0 1 0 -9.6 0M1846.5 872.6a4.8 4.8 0 1 0 9.6 0a4.8 4.8 0 1 0 -9.6 0M1852.2 872.5a4.8 4.8 0 1 0 9.6 0a4.8 4.8 0 1 0 -9.6 0M1822.1 868.9a4.8 4.8 0 1 0 9.6 0a4.8 4.8 0 1 0 -9.6 0M1827.8 868.9a4.8 4.8 0 1 0 9.6 0a4.8 4.8 0 1 0 -9.6 0M1834.4 870.5a4.8 4.8 0 1 0 9.6 0a4.8 4.8 0 1 0 -9.6 0M1839.3 869.1a4.8 4.8 0 1 0 9.6 0a4.8 4.8 0 1 0 -9.6 0M1845.9 870.4a4.8 4.8 0 1 0 9.6 0a4.8 4.8 0 1 0 -9.6 0M1852.8 869.9a4.8 4.8 0 1 0 9.6 0a4.8 4.8 0 1 0 -9.6 0M1822.2 865.6a4.8 4.8 0 1 0 9.6 0a4.8 4.8 0 1 0 -9.6 0M1827.8 865.9a4.8 4.8 0 1 0 9.6 0a4.8 4.8 0 1 0 -9.6 0M1833.5 865.4a4.8 4.8 0 1 0 9.6 0a4.8 4.8 0 1 0 -9.6 0M1840.2 866.1a4.8 4.8 0 1 0 9.6 0a4.8 4.8 0 1 0 -9.6 0M1847 866.8a4.8 4.8 0 1 0 9.6 0a4.8 4.8 0 1 0 -9.6 0M1852.2 865.7a4.8 4.8 0 1 0 9.6 0a4.8 4.8 0 1 0 -9.6 0M1823.6 863.4a4.8 4.8 0 1 0 9.6 0a4.8 4.8 0 1 0 -9.6 0M1829.4 863.6a4.8 4.8 0 1 0 9.6 0a4.8 4.8 0 1 0 -9.6 0M1834.2 863.3a4.8 4.8 0 1 0 9.6 0a4.8 4.8 0 1 0 -9.6 0M1839.3 862.3a4.8 4.8 0 1 0 9.6 0a4.8 4.8 0 1 0 -9.6 0M1847 863.4a4.8 4.8 0 1 0 9.6 0a4.8 4.8 0 1 0 -9.6 0M1852.5 863.2a4.8 4.8 0 1 0 9.6 0a4.8 4.8 0 1 0 -9.6 0M1821.7 860.6a4.8 4.8 0 1 0 9.6 0a4.8 4.8 0 1 0 -9.6 0M1827.4 859.3a4.8 4.8 0 1 0 9.6 0a4.8 4.8 0 1 0 -9.6 0M1834.5 859.7a4.8 4.8 0 1 0 9.6 0a4.8 4.8 0 1 0 -9.6 0M1841.3 859.2a4.8 4.8 0 1 0 9.6 0a4.8 4.8 0 1 0 -9.6 0M1846.5 860.5a4.8 4.8 0 1 0 9.6 0a4.8 4.8 0 1 0 -9.6 0M1852.4 859.5a4.8 4.8 0 1 0 9.6 0a4.8 4.8 0 1 0 -9.6 0M1822.8 856.9a4.8 4.8 0 1 0 9.6 0a4.8 4.8 0 1 0 -9.6 0M1828.4 858a4.8 4.8 0 1 0 9.6 0a4.8 4.8 0 1 0 -9.6 0M1835.5 856.5a4.8 4.8 0 1 0 9.6 0a4.8 4.8 0 1 0 -9.6 0M1840.4 857.3a4.8 4.8 0 1 0 9.6 0a4.8 4.8 0 1 0 -9.6 0M1846.5 858.2a4.8 4.8 0 1 0 9.6 0a4.8 4.8 0 1 0 -9.6 0M1851 856.3a4.8 4.8 0 1 0 9.6 0a4.8 4.8 0 1 0 -9.6 0M1823.1 852.9a4.8 4.8 0 1 0 9.6 0a4.8 4.8 0 1 0 -9.6 0M1827.7 852.7a4.8 4.8 0 1 0 9.6 0a4.8 4.8 0 1 0 -9.6 0M1833.1 853.7a4.8 4.8 0 1 0 9.6 0a4.8 4.8 0 1 0 -9.6 0M1840.3 853.3a4.8 4.8 0 1 0 9.6 0a4.8 4.8 0 1 0 -9.6 0M1845.3 854.4a4.8 4.8 0 1 0 9.6 0a4.8 4.8 0 1 0 -9.6 0M1852.2 853.7a4.8 4.8 0 1 0 9.6 0a4.8 4.8 0 1 0 -9.6 0M1823.1 851.7a4.8 4.8 0 1 0 9.6 0a4.8 4.8 0 1 0 -9.6 0M1829.2 851a4.8 4.8 0 1 0 9.6 0a4.8 4.8 0 1 0 -9.6 0M1834.7 851.8a4.8 4.8 0 1 0 9.6 0a4.8 4.8 0 1 0 -9.6 0M1839.9 850.7a4.8 4.8 0 1 0 9.6 0a4.8 4.8 0 1 0 -9.6 0M1846.3 851.7a4.8 4.8 0 1 0 9.6 0a4.8 4.8 0 1 0 -9.6 0M1852.5 849.5a4.8 4.8 0 1 0 9.6 0a4.8 4.8 0 1 0 -9.6 0M1821.9 846.9a4.8 4.8 0 1 0 9.6 0a4.8 4.8 0 1 0 -9.6 0M1829.1 847.6a4.8 4.8 0 1 0 9.6 0a4.8 4.8 0 1 0 -9.6 0M1833.8 846.4a4.8 4.8 0 1 0 9.6 0a4.8 4.8 0 1 0 -9.6 0M1840.6 847.9a4.8 4.8 0 1 0 9.6 0a4.8 4.8 0 1 0 -9.6 0M1847 847.4a4.8 4.8 0 1 0 9.6 0a4.8 4.8 0 1 0 -9.6 0M1851.7 846.3a4.8 4.8 0 1 0 9.6 0a4.8 4.8 0 1 0 -9.6 0M1821.6 844a4.8 4.8 0 1 0 9.6 0a4.8 4.8 0 1 0 -9.6 0M1828.1 843.6a4.8 4.8 0 1 0 9.6 0a4.8 4.8 0 1 0 -9.6 0M1833.3 845.4a4.8 4.8 0 1 0 9.6 0a4.8 4.8 0 1 0 -9.6 0M1840.9 844.4a4.8 4.8 0 1 0 9.6 0a4.8 4.8 0 1 0 -9.6 0M1847 845.5a4.8 4.8 0 1 0 9.6 0a4.8 4.8 0 1 0 -9.6 0M1852.1 843.6a4.8 4.8 0 1 0 9.6 0a4.8 4.8 0 1 0 -9.6 0M1821.6 841.7a4.8 4.8 0 1 0 9.6 0a4.8 4.8 0 1 0 -9.6 0M1828.4 841.4a4.8 4.8 0 1 0 9.6 0a4.8 4.8 0 1 0 -9.6 0M1835.3 840.2a4.8 4.8 0 1 0 9.6 0a4.8 4.8 0 1 0 -9.6 0M1840.3 841.4a4.8 4.8 0 1 0 9.6 0a4.8 4.8 0 1 0 -9.6 0M1845.9 840a4.8 4.8 0 1 0 9.6 0a4.8 4.8 0 1 0 -9.6 0M1851.3 840.6a4.8 4.8 0 1 0 9.6 0a4.8 4.8 0 1 0 -9.6 0M1823.1 838.7a4.8 4.8 0 1 0 9.6 0a4.8 4.8 0 1 0 -9.6 0M1828.1 838.3a4.8 4.8 0 1 0 9.6 0a4.8 4.8 0 1 0 -9.6 0M1833.8 839a4.8 4.8 0 1 0 9.6 0a4.8 4.8 0 1 0 -9.6 0M1840.9 837.9a4.8 4.8 0 1 0 9.6 0a4.8 4.8 0 1 0 -9.6 0M1845.8 837.3a4.8 4.8 0 1 0 9.6 0a4.8 4.8 0 1 0 -9.6 0M1851.3 839a4.8 4.8 0 1 0 9.6 0a4.8 4.8 0 1 0 -9.6 0M1822.9 834.6a4.8 4.8 0 1 0 9.6 0a4.8 4.8 0 1 0 -9.6 0M1830 835a4.8 4.8 0 1 0 9.6 0a4.8 4.8 0 1 0 -9.6 0M1834.5 834.4a4.8 4.8 0 1 0 9.6 0a4.8 4.8 0 1 0 -9.6 0M1839.3 834.2a4.8 4.8 0 1 0 9.6 0a4.8 4.8 0 1 0 -9.6 0M1846.2 834.9a4.8 4.8 0 1 0 9.6 0a4.8 4.8 0 1 0 -9.6 0M1851.9 833.8a4.8 4.8 0 1 0 9.6 0a4.8 4.8 0 1 0 -9.6 0M1824.1 832.5a4.8 4.8 0 1 0 9.6 0a4.8 4.8 0 1 0 -9.6 0M1829.1 831.9a4.8 4.8 0 1 0 9.6 0a4.8 4.8 0 1 0 -9.6 0M1833.6 832.6a4.8 4.8 0 1 0 9.6 0a4.8 4.8 0 1 0 -9.6 0M1840.1 830.7a4.8 4.8 0 1 0 9.6 0a4.8 4.8 0 1 0 -9.6 0M1844.3 831.5a4.8 4.8 0 1 0 9.6 0a4.8 4.8 0 1 0 -9.6 0M1850.6 830.3a4.8 4.8 0 1 0 9.6 0a4.8 4.8 0 1 0 -9.6 0M1826 829.3a4.8 4.8 0 1 0 9.6 0a4.8 4.8 0 1 0 -9.6 0M1830.9 827.2a4.8 4.8 0 1 0 9.6 0a4.8 4.8 0 1 0 -9.6 0M1838 828.2a4.8 4.8 0 1 0 9.6 0a4.8 4.8 0 1 0 -9.6 0M1843.9 828.2a4.8 4.8 0 1 0 9.6 0a4.8 4.8 0 1 0 -9.6 0M1849.1 829.1a4.8 4.8 0 1 0 9.6 0a4.8 4.8 0 1 0 -9.6 0M1826.7 824.3a4.8 4.8 0 1 0 9.6 0a4.8 4.8 0 1 0 -9.6 0M1831.5 824.7a4.8 4.8 0 1 0 9.6 0a4.8 4.8 0 1 0 -9.6 0M1838.2 825a4.8 4.8 0 1 0 9.6 0a4.8 4.8 0 1 0 -9.6 0M1843.9 825.9a4.8 4.8 0 1 0 9.6 0a4.8 4.8 0 1 0 -9.6 0M1848.3 825.7a4.8 4.8 0 1 0 9.6 0a4.8 4.8 0 1 0 -9.6 0M1826.2 822.9a4.8 4.8 0 1 0 9.6 0a4.8 4.8 0 1 0 -9.6 0M1831.8 822.6a4.8 4.8 0 1 0 9.6 0a4.8 4.8 0 1 0 -9.6 0M1836.7 821.3a4.8 4.8 0 1 0 9.6 0a4.8 4.8 0 1 0 -9.6 0M1842.8 823.1a4.8 4.8 0 1 0 9.6 0a4.8 4.8 0 1 0 -9.6 0M1848 820.9a4.8 4.8 0 1 0 9.6 0a4.8 4.8 0 1 0 -9.6 0M1827.3 818.2a4.8 4.8 0 1 0 9.6 0a4.8 4.8 0 1 0 -9.6 0M1832.3 818.7a4.8 4.8 0 1 0 9.6 0a4.8 4.8 0 1 0 -9.6 0M1837.1 818.1a4.8 4.8 0 1 0 9.6 0a4.8 4.8 0 1 0 -9.6 0M1841.5 819.1a4.8 4.8 0 1 0 9.6 0a4.8 4.8 0 1 0 -9.6 0M1847.4 817.9a4.8 4.8 0 1 0 9.6 0a4.8 4.8 0 1 0 -9.6 0M1828.7 814.2a4.8 4.8 0 1 0 9.6 0a4.8 4.8 0 1 0 -9.6 0M1834.7 815.9a4.8 4.8 0 1 0 9.6 0a4.8 4.8 0 1 0 -9.6 0M1841 815.1a4.8 4.8 0 1 0 9.6 0a4.8 4.8 0 1 0 -9.6 0M1846.8 816.2a4.8 4.8 0 1 0 9.6 0a4.8 4.8 0 1 0 -9.6 0M1829.9 812.2a4.8 4.8 0 1 0 9.6 0a4.8 4.8 0 1 0 -9.6 0M1833.3 812.2a4.8 4.8 0 1 0 9.6 0a4.8 4.8 0 1 0 -9.6 0M1840.2 813.1a4.8 4.8 0 1 0 9.6 0a4.8 4.8 0 1 0 -9.6 0M1846.5 812a4.8 4.8 0 1 0 9.6 0a4.8 4.8 0 1 0 -9.6 0M1829.7 808.9a4.8 4.8 0 1 0 9.6 0a4.8 4.8 0 1 0 -9.6 0M1835.2 808.7a4.8 4.8 0 1 0 9.6 0a4.8 4.8 0 1 0 -9.6 0M1840.1 808.1a4.8 4.8 0 1 0 9.6 0a4.8 4.8 0 1 0 -9.6 0M1844.7 810.2a4.8 4.8 0 1 0 9.6 0a4.8 4.8 0 1 0 -9.6 0M1830 806.3a4.8 4.8 0 1 0 9.6 0a4.8 4.8 0 1 0 -9.6 0M1837.6 806.7a4.8 4.8 0 1 0 9.6 0a4.8 4.8 0 1 0 -9.6 0M1844.8 806.7a4.8 4.8 0 1 0 9.6 0a4.8 4.8 0 1 0 -9.6 0M1838.3 700.4a4.8 4.8 0 1 0 9.6 0a4.8 4.8 0 1 0 -9.6 0M1838.3 722.3a4.8 4.8 0 1 0 9.6 0a4.8 4.8 0 1 0 -9.6 0M1838.3 743.9a4.8 4.8 0 1 0 9.6 0a4.8 4.8 0 1 0 -9.6 0M1829.4 767.9a4.8 4.8 0 1 0 9.6 0a4.8 4.8 0 1 0 -9.6 0M1838.3 763.4a4.8 4.8 0 1 0 9.6 0a4.8 4.8 0 1 0 -9.6 0M1848.2 783.3a4.8 4.8 0 1 0 9.6 0a4.8 4.8 0 1 0 -9.6 0M1829.4 788.5a4.8 4.8 0 1 0 9.6 0a4.8 4.8 0 1 0 -9.6 0M1846.5 791.9a4.8 4.8 0 1 0 9.6 0a4.8 4.8 0 1 0 -9.6 0M1838.3 795.3a4.8 4.8 0 1 0 9.6 0a4.8 4.8 0 1 0 -9.6 0M1831.1 803.9a4.8 4.8 0 1 0 9.6 0a4.8 4.8 0 1 0 -9.6 0M1846.5 805.6a4.8 4.8 0 1 0 9.6 0a4.8 4.8 0 1 0 -9.6 0" fill="none" stroke="#ec2d7a" stroke-width="2.4"/><path d="M1888.9 890.7a4.8 4.8 0 1 0 9.6 0a4.8 4.8 0 1 0 -9.6 0M1894.7 891.8a4.8 4.8 0 1 0 9.6 0a4.8 4.8 0 1 0 -9.6 0M1890.1 886.7a4.8 4.8 0 1 0 9.6 0a4.8 4.8 0 1 0 -9.6 0M1893.2 888.3a4.8 4.8 0 1 0 9.6 0a4.8 4.8 0 1 0 -9.6 0M1890.2 886a4.8 4.8 0 1 0 9.6 0a4.8 4.8 0 1 0 -9.6 0M1894.8 884.6a4.8 4.8 0 1 0 9.6 0a4.8 4.8 0 1 0 -9.6 0M1887 881.9a4.8 4.8 0 1 0 9.6 0a4.8 4.8 0 1 0 -9.6 0M1896.4 881.4a4.8 4.8 0 1 0 9.6 0a4.8 4.8 0 1 0 -9.6 0M1885.3 879.4a4.8 4.8 0 1 0 9.6 0a4.8 4.8 0 1 0 -9.6 0M1890.6 879.1a4.8 4.8 0 1 0 9.6 0a4.8 4.8 0 1 0 -9.6 0M1898.1 878a4.8 4.8 0 1 0 9.6 0a4.8 4.8 0 1 0 -9.6 0M1880.9 875.2a4.8 4.8 0 1 0 9.6 0a4.8 4.8 0 1 0 -9.6 0M1886.9 875.9a4.8 4.8 0 1 0 9.6 0a4.8 4.8 0 1 0 -9.6 0M1890.9 874a4.8 4.8 0 1 0 9.6 0a4.8 4.8 0 1 0 -9.6 0M1897.6 875.4a4.8 4.8 0 1 0 9.6 0a4.8 4.8 0 1 0 -9.6 0M1901 876.2a4.8 4.8 0 1 0 9.6 0a4.8 4.8 0 1 0 -9.6 0M1877.8 871.8a4.8 4.8 0 1 0 9.6 0a4.8 4.8 0 1 0 -9.6 0M1883.3 871.3a4.8 4.8 0 1 0 9.6 0a4.8 4.8 0 1 0 -9.6 0M1887.9 872.7a4.8 4.8 0 1 0 9.6 0a4.8 4.8 0 1 0 -9.6 0M1895.3 872.4a4.8 4.8 0 1 0 9.6 0a4.8 4.8 0 1 0 -9.6 0M1898.7 871.8a4.8 4.8 0 1 0 9.6 0a4.8 4.8 0 1 0 -9.6 0M1904.4 872.2a4.8 4.8 0 1 0 9.6 0a4.8 4.8 0 1 0 -9.6 0M1877.5 868.5a4.8 4.8 0 1 0 9.6 0a4.8 4.8 0 1 0 -9.6 0M1882.4 869.6a4.8 4.8 0 1 0 9.6 0a4.8 4.8 0 1 0 -9.6 0M1888.1 868.4a4.8 4.8 0 1 0 9.6 0a4.8 4.8 0 1 0 -9.6 0M1894.6 868a4.8 4.8 0 1 0 9.6 0a4.8 4.8 0 1 0 -9.6 0M1900.6 868.9a4.8 4.8 0 1 0 9.6 0a4.8 4.8 0 1 0 -9.6 0M1907.4 868.2a4.8 4.8 0 1 0 9.6 0a4.8 4.8 0 1 0 -9.6 0M1878.3 865.9a4.8 4.8 0 1 0 9.6 0a4.8 4.8 0 1 0 -9.6 0M1882.5 865.7a4.8 4.8 0 1 0 9.6 0a4.8 4.8 0 1 0 -9.6 0M1889.2 866.2a4.8 4.8 0 1 0 9.6 0a4.8 4.8 0 1 0 -9.6 0M1893.5 865.8a4.8 4.8 0 1 0 9.6 0a4.8 4.8 0 1 0 -9.6 0M1900.4 866.6a4.8 4.8 0 1 0 9.6 0a4.8 4.8 0 1 0 -9.6 0M1905.7 866.3a4.8 4.8 0 1 0 9.6 0a4.8 4.8 0 1 0 -9.6 0M1877.5 861.9a4.8 4.8 0 1 0 9.6 0a4.8 4.8 0 1 0 -9.6 0M1883.3 862.6a4.8 4.8 0 1 0 9.6 0a4.8 4.8 0 1 0 -9.6 0M1889.2 862.9a4.8 4.8 0 1 0 9.6 0a4.8 4.8 0 1 0 -9.6 0M1895 863.2a4.8 4.8 0 1 0 9.6 0a4.8 4.8 0 1 0 -9.6 0M1900.7 863.4a4.8 4.8 0 1 0 9.6 0a4.8 4.8 0 1 0 -9.6 0M1906.6 861.8a4.8 4.8 0 1 0 9.6 0a4.8 4.8 0 1 0 -9.6 0M1877.1 859.3a4.8 4.8 0 1 0 9.6 0a4.8 4.8 0 1 0 -9.6 0M1883.6 858a4.8 4.8 0 1 0 9.6 0a4.8 4.8 0 1 0 -9.6 0M1888.3 859.8a4.8 4.8 0 1 0 9.6 0a4.8 4.8 0 1 0 -9.6 0M1893.8 858.2a4.8 4.8 0 1 0 9.6 0a4.8 4.8 0 1 0 -9.6 0M1900.5 860.3a4.8 4.8 0 1 0 9.6 0a4.8 4.8 0 1 0 -9.6 0M1906.3 860.2a4.8 4.8 0 1 0 9.6 0a4.8 4.8 0 1 0 -9.6 0M1878 855.3a4.8 4.8 0 1 0 9.6 0a4.8 4.8 0 1 0 -9.6 0M1883.8 855.9a4.8 4.8 0 1 0 9.6 0a4.8 4.8 0 1 0 -9.6 0M1889.5 856.5a4.8 4.8 0 1 0 9.6 0a4.8 4.8 0 1 0 -9.6 0M1894.2 854.9a4.8 4.8 0 1 0 9.6 0a4.8 4.8 0 1 0 -9.6 0M1901.5 855a4.8 4.8 0 1 0 9.6 0a4.8 4.8 0 1 0 -9.6 0M1907.3 856.8a4.8 4.8 0 1 0 9.6 0a4.8 4.8 0 1 0 -9.6 0M1877.7 853.9a4.8 4.8 0 1 0 9.6 0a4.8 4.8 0 1 0 -9.6 0M1884.1 853.5a4.8 4.8 0 1 0 9.6 0a4.8 4.8 0 1 0 -9.6 0M1888.5 853.5a4.8 4.8 0 1 0 9.6 0a4.8 4.8 0 1 0 -9.6 0M1893.4 852.8a4.8 4.8 0 1 0 9.6 0a4.8 4.8 0 1 0 -9.6 0M1900.3 853.2a4.8 4.8 0 1 0 9.6 0a4.8 4.8 0 1 0 -9.6 0M1906.6 852.9a4.8 4.8 0 1 0 9.6 0a4.8 4.8 0 1 0 -9.6 0M1878 850.6a4.8 4.8 0 1 0 9.6 0a4.8 4.8 0 1 0 -9.6 0M1882.1 848.8a4.8 4.8 0 1 0 9.6 0a4.8 4.8 0 1 0 -9.6 0M1887.7 850.5a4.8 4.8 0 1 0 9.6 0a4.8 4.8 0 1 0 -9.6 0M1894.7 850.6a4.8 4.8 0 1 0 9.6 0a4.8 4.8 0 1 0 -9.6 0M1899.7 848.4a4.8 4.8 0 1 0 9.6 0a4.8 4.8 0 1 0 -9.6 0M1907 850.6a4.8 4.8 0 1 0 9.6 0a4.8 4.8 0 1 0 -9.6 0M1876.7 846.1a4.8 4.8 0 1 0 9.6 0a4.8 4.8 0 1 0 -9.6 0M1882.1 847.5a4.8 4.8 0 1 0 9.6 0a4.8 4.8 0 1 0 -9.6 0M1888.3 846.3a4.8 4.8 0 1 0 9.6 0a4.8 4.8 0 1 0 -9.6 0M1893.6 847.3a4.8 4.8 0 1 0 9.6 0a4.8 4.8 0 1 0 -9.6 0M1899.5 846.2a4.8 4.8 0 1 0 9.6 0a4.8 4.8 0 1 0 -9.6 0M1906.6 846.9a4.8 4.8 0 1 0 9.6 0a4.8 4.8 0 1 0 -9.6 0M1878.3 842.9a4.8 4.8 0 1 0 9.6 0a4.8 4.8 0 1 0 -9.6 0M1883.6 842.2a4.8 4.8 0 1 0 9.6 0a4.8 4.8 0 1 0 -9.6 0M1888.6 842a4.8 4.8 0 1 0 9.6 0a4.8 4.8 0 1 0 -9.6 0M1894.6 842.8a4.8 4.8 0 1 0 9.6 0a4.8 4.8 0 1 0 -9.6 0M1901.5 841.9a4.8 4.8 0 1 0 9.6 0a4.8 4.8 0 1 0 -9.6 0M1905.9 842.9a4.8 4.8 0 1 0 9.6 0a4.8 4.8 0 1 0 -9.6 0M1878.3 840.8a4.8 4.8 0 1 0 9.6 0a4.8 4.8 0 1 0 -9.6 0M1882 840.4a4.8 4.8 0 1 0 9.6 0a4.8 4.8 0 1 0 -9.6 0M1888.9 841.1a4.8 4.8 0 1 0 9.6 0a4.8 4.8 0 1 0 -9.6 0M1894.3 839.6a4.8 4.8 0 1 0 9.6 0a4.8 4.8 0 1 0 -9.6 0M1899.7 838.9a4.8 4.8 0 1 0 9.6 0a4.8 4.8 0 1 0 -9.6 0M1907 839.8a4.8 4.8 0 1 0 9.6 0a4.8 4.8 0 1 0 -9.6 0M1877.6 837a4.8 4.8 0 1 0 9.6 0a4.8 4.8 0 1 0 -9.6 0M1883.2 835.4a4.8 4.8 0 1 0 9.6 0a4.8 4.8 0 1 0 -9.6 0M1889.5 836a4.8 4.8 0 1 0 9.6 0a4.8 4.8 0 1 0 -9.6 0M1893.7 836.8a4.8 4.8 0 1 0 9.6 0a4.8 4.8 0 1 0 -9.6 0M1899.4 837.4a4.8 4.8 0 1 0 9.6 0a4.8 4.8 0 1 0 -9.6 0M1905.5 835.9a4.8 4.8 0 1 0 9.6 0a4.8 4.8 0 1 0 -9.6 0M1878.1 833a4.8 4.8 0 1 0 9.6 0a4.8 4.8 0 1 0 -9.6 0M1882.2 834.5a4.8 4.8 0 1 0 9.6 0a4.8 4.8 0 1 0 -9.6 0M1887.6 834.4a4.8 4.8 0 1 0 9.6 0a4.8 4.8 0 1 0 -9.6 0M1893.7 832.5a4.8 4.8 0 1 0 9.6 0a4.8 4.8 0 1 0 -9.6 0M1899.8 832.6a4.8 4.8 0 1 0 9.6 0a4.8 4.8 0 1 0 -9.6 0M1906.6 832.2a4.8 4.8 0 1 0 9.6 0a4.8 4.8 0 1 0 -9.6 0M1876 831a4.8 4.8 0 1 0 9.6 0a4.8 4.8 0 1 0 -9.6 0M1882.4 829.8a4.8 4.8 0 1 0 9.6 0a4.8 4.8 0 1 0 -9.6 0M1888 829.1a4.8 4.8 0 1 0 9.6 0a4.8 4.8 0 1 0 -9.6 0M1895.2 830.3a4.8 4.8 0 1 0 9.6 0a4.8 4.8 0 1 0 -9.6 0M1901 830.2a4.8 4.8 0 1 0 9.6 0a4.8 4.8 0 1 0 -9.6 0M1906.9 830.3a4.8 4.8 0 1 0 9.6 0a4.8 4.8 0 1 0 -9.6 0M1876.3 827.1a4.8 4.8 0 1 0 9.6 0a4.8 4.8 0 1 0 -9.6 0M1884.1 825.9a4.8 4.8 0 1 0 9.6 0a4.8 4.8 0 1 0 -9.6 0M1889.5 828a4.8 4.8 0 1 0 9.6 0a4.8 4.8 0 1 0 -9.6 0M1894.7 827a4.8 4.8 0 1 0 9.6 0a4.8 4.8 0 1 0 -9.6 0M1901.5 825.9a4.8 4.8 0 1 0 9.6 0a4.8 4.8 0 1 0 -9.6 0M1906.1 826.8a4.8 4.8 0 1 0 9.6 0a4.8 4.8 0 1 0 -9.6 0M1877.6 823.8a4.8 4.8 0 1 0 9.6 0a4.8 4.8 0 1 0 -9.6 0M1884 822.8a4.8 4.8 0 1 0 9.6 0a4.8 4.8 0 1 0 -9.6 0M1887.8 824.1a4.8 4.8 0 1 0 9.6 0a4.8 4.8 0 1 0 -9.6 0M1893.6 823.3a4.8 4.8 0 1 0 9.6 0a4.8 4.8 0 1 0 -9.6 0M1900.7 824a4.8 4.8 0 1 0 9.6 0a4.8 4.8 0 1 0 -9.6 0M1905.8 825.1a4.8 4.8 0 1 0 9.6 0a4.8 4.8 0 1 0 -9.6 0M1877.3 820.5a4.8 4.8 0 1 0 9.6 0a4.8 4.8 0 1 0 -9.6 0M1883.3 819.6a4.8 4.8 0 1 0 9.6 0a4.8 4.8 0 1 0 -9.6 0M1889.3 821.6a4.8 4.8 0 1 0 9.6 0a4.8 4.8 0 1 0 -9.6 0M1895 821.4a4.8 4.8 0 1 0 9.6 0a4.8 4.8 0 1 0 -9.6 0M1900.9 819.9a4.8 4.8 0 1 0 9.6 0a4.8 4.8 0 1 0 -9.6 0M1906.1 820a4.8 4.8 0 1 0 9.6 0a4.8 4.8 0 1 0 -9.6 0M1876.8 817.3a4.8 4.8 0 1 0 9.6 0a4.8 4.8 0 1 0 -9.6 0M1882.8 816.4a4.8 4.8 0 1 0 9.6 0a4.8 4.8 0 1 0 -9.6 0M1888.6 817.9a4.8 4.8 0 1 0 9.6 0a4.8 4.8 0 1 0 -9.6 0M1894.3 816.5a4.8 4.8 0 1 0 9.6 0a4.8 4.8 0 1 0 -9.6 0M1901.4 816.3a4.8 4.8 0 1 0 9.6 0a4.8 4.8 0 1 0 -9.6 0M1907 816.4a4.8 4.8 0 1 0 9.6 0a4.8 4.8 0 1 0 -9.6 0M1876.2 814.9a4.8 4.8 0 1 0 9.6 0a4.8 4.8 0 1 0 -9.6 0M1883.7 814.4a4.8 4.8 0 1 0 9.6 0a4.8 4.8 0 1 0 -9.6 0M1889 814.4a4.8 4.8 0 1 0 9.6 0a4.8 4.8 0 1 0 -9.6 0M1894.2 813.3a4.8 4.8 0 1 0 9.6 0a4.8 4.8 0 1 0 -9.6 0M1900 814.7a4.8 4.8 0 1 0 9.6 0a4.8 4.8 0 1 0 -9.6 0M1906.8 815.2a4.8 4.8 0 1 0 9.6 0a4.8 4.8 0 1 0 -9.6 0M1877.7 812.3a4.8 4.8 0 1 0 9.6 0a4.8 4.8 0 1 0 -9.6 0M1883.2 810.7a4.8 4.8 0 1 0 9.6 0a4.8 4.8 0 1 0 -9.6 0M1889 810.3a4.8 4.8 0 1 0 9.6 0a4.8 4.8 0 1 0 -9.6 0M1895 810.3a4.8 4.8 0 1 0 9.6 0a4.8 4.8 0 1 0 -9.6 0M1899.5 811.9a4.8 4.8 0 1 0 9.6 0a4.8 4.8 0 1 0 -9.6 0M1905.9 811.7a4.8 4.8 0 1 0 9.6 0a4.8 4.8 0 1 0 -9.6 0M1878.2 808.6a4.8 4.8 0 1 0 9.6 0a4.8 4.8 0 1 0 -9.6 0M1884.3 809.1a4.8 4.8 0 1 0 9.6 0a4.8 4.8 0 1 0 -9.6 0M1889.7 808.1a4.8 4.8 0 1 0 9.6 0a4.8 4.8 0 1 0 -9.6 0M1894.8 806.6a4.8 4.8 0 1 0 9.6 0a4.8 4.8 0 1 0 -9.6 0M1900.9 808.7a4.8 4.8 0 1 0 9.6 0a4.8 4.8 0 1 0 -9.6 0M1904.8 807a4.8 4.8 0 1 0 9.6 0a4.8 4.8 0 1 0 -9.6 0M1879.7 804.1a4.8 4.8 0 1 0 9.6 0a4.8 4.8 0 1 0 -9.6 0M1885.1 803.3a4.8 4.8 0 1 0 9.6 0a4.8 4.8 0 1 0 -9.6 0M1892.6 804.8a4.8 4.8 0 1 0 9.6 0a4.8 4.8 0 1 0 -9.6 0M1897.7 803.7a4.8 4.8 0 1 0 9.6 0a4.8 4.8 0 1 0 -9.6 0M1904.5 803.4a4.8 4.8 0 1 0 9.6 0a4.8 4.8 0 1 0 -9.6 0M1881 800.7a4.8 4.8 0 1 0 9.6 0a4.8 4.8 0 1 0 -9.6 0M1885.9 801a4.8 4.8 0 1 0 9.6 0a4.8 4.8 0 1 0 -9.6 0M1891.4 802a4.8 4.8 0 1 0 9.6 0a4.8 4.8 0 1 0 -9.6 0M1898 801.6a4.8 4.8 0 1 0 9.6 0a4.8 4.8 0 1 0 -9.6 0M1901.9 800.3a4.8 4.8 0 1 0 9.6 0a4.8 4.8 0 1 0 -9.6 0M1880.8 798.5a4.8 4.8 0 1 0 9.6 0a4.8 4.8 0 1 0 -9.6 0M1887.1 797.6a4.8 4.8 0 1 0 9.6 0a4.8 4.8 0 1 0 -9.6 0M1892.1 798.2a4.8 4.8 0 1 0 9.6 0a4.8 4.8 0 1 0 -9.6 0M1896.6 797.6a4.8 4.8 0 1 0 9.6 0a4.8 4.8 0 1 0 -9.6 0M1902.3 797.2a4.8 4.8 0 1 0 9.6 0a4.8 4.8 0 1 0 -9.6 0M1882.7 794.5a4.8 4.8 0 1 0 9.6 0a4.8 4.8 0 1 0 -9.6 0M1889.2 795a4.8 4.8 0 1 0 9.6 0a4.8 4.8 0 1 0 -9.6 0M1895 793.8a4.8 4.8 0 1 0 9.6 0a4.8 4.8 0 1 0 -9.6 0M1900.3 795.3a4.8 4.8 0 1 0 9.6 0a4.8 4.8 0 1 0 -9.6 0M1882.9 791.3a4.8 4.8 0 1 0 9.6 0a4.8 4.8 0 1 0 -9.6 0M1888.5 790.9a4.8 4.8 0 1 0 9.6 0a4.8 4.8 0 1 0 -9.6 0M1893.7 791.4a4.8 4.8 0 1 0 9.6 0a4.8 4.8 0 1 0 -9.6 0M1898.1 792.5a4.8 4.8 0 1 0 9.6 0a4.8 4.8 0 1 0 -9.6 0M1884.5 788.3a4.8 4.8 0 1 0 9.6 0a4.8 4.8 0 1 0 -9.6 0M1892.2 788.6a4.8 4.8 0 1 0 9.6 0a4.8 4.8 0 1 0 -9.6 0M1898.9 789.4a4.8 4.8 0 1 0 9.6 0a4.8 4.8 0 1 0 -9.6 0M1883.2 697a4.8 4.8 0 1 0 9.6 0a4.8 4.8 0 1 0 -9.6 0M1901.3 697a4.8 4.8 0 1 0 9.6 0a4.8 4.8 0 1 0 -9.6 0M1883.2 747.3a4.8 4.8 0 1 0 9.6 0a4.8 4.8 0 1 0 -9.6 0M1901.3 747.3a4.8 4.8 0 1 0 9.6 0a4.8 4.8 0 1 0 -9.6 0M1883.2 755.2a4.8 4.8 0 1 0 9.6 0a4.8 4.8 0 1 0 -9.6 0M1901.3 755.2a4.8 4.8 0 1 0 9.6 0a4.8 4.8 0 1 0 -9.6 0M1887.6 764.5a4.8 4.8 0 1 0 9.6 0a4.8 4.8 0 1 0 -9.6 0M1896.2 764.5a4.8 4.8 0 1 0 9.6 0a4.8 4.8 0 1 0 -9.6 0M1879.1 776.5a4.8 4.8 0 1 0 9.6 0a4.8 4.8 0 1 0 -9.6 0M1904.8 776.5a4.8 4.8 0 1 0 9.6 0a4.8 4.8 0 1 0 -9.6 0M1880.8 784a4.8 4.8 0 1 0 9.6 0a4.8 4.8 0 1 0 -9.6 0M1903 784a4.8 4.8 0 1 0 9.6 0a4.8 4.8 0 1 0 -9.6 0M1891.7 779.9a4.8 4.8 0 1 0 9.6 0a4.8 4.8 0 1 0 -9.6 0" fill="none" stroke="#ed1c24" stroke-width="2.4"/><path d="M1714.1 858.7L1754.1 858.7" stroke="#000" stroke-width="2.2" fill="none" /><path d="M1719.1 858.7L1749.1 858.7" stroke="#000" stroke-width="6" fill="none" /><path d="M1768.6 857L1808.6 857" stroke="#000" stroke-width="2.2" fill="none" /><path d="M1773.6 857L1803.6 857" stroke="#000" stroke-width="6" fill="none" /><path d="M1822 853.6L1862 853.6" stroke="#000" stroke-width="2.2" fill="none" /><path d="M1827 853.6L1857 853.6" stroke="#000" stroke-width="6" fill="none" /><path d="M1876.5 837.5L1916.5 837.5" stroke="#000" stroke-width="2.2" fill="none" /><path d="M1881.5 837.5L1911.5 837.5" stroke="#000" stroke-width="6" fill="none" /><path d="M1697.8 620.6L1697.8 924.2" stroke="#111" stroke-width="2" fill="none" /><path d="M1689.3 923.2L1938.7 923.2" stroke="#111" stroke-width="2" fill="none" /><path d="M1689.3 621.6L1697.8 621.6" stroke="#111" stroke-width="2" fill="none" /><text x="1682" y="632.6" font-size="26.5" text-anchor="end" fill="#111" >80</text><path d="M1689.3 697L1697.8 697" stroke="#111" stroke-width="2" fill="none" /><text x="1682" y="706.7" font-size="26.5" text-anchor="end" fill="#111" >60</text><path d="M1689.3 772L1697.8 772" stroke="#111" stroke-width="2" fill="none" /><text x="1682" y="781.7" font-size="26.5" text-anchor="end" fill="#111" >40</text><path d="M1689.3 847L1697.8 847" stroke="#111" stroke-width="2" fill="none" /><text x="1682" y="856.7" font-size="26.5" text-anchor="end" fill="#111" >20</text><path d="M1689.3 923.2L1697.8 923.2" stroke="#111" stroke-width="2" fill="none" /><text x="1682" y="932.9" font-size="26.5" text-anchor="end" fill="#111" >0</text><path d="M1734.1 923.2L1734.1 932.2" stroke="#111" stroke-width="2" fill="none" /><path d="M1788.6 923.2L1788.6 932.2" stroke="#111" stroke-width="2" fill="none" /><path d="M1842 923.2L1842 932.2" stroke="#111" stroke-width="2" fill="none" /><path d="M1896.5 923.2L1896.5 932.2" stroke="#111" stroke-width="2" fill="none" /><text x="1734" y="960.3" font-size="26.5" text-anchor="middle" fill="#111" >Pre</text><text x="1788.6" y="960.3" font-size="26.5" text-anchor="middle" fill="#111" >3h</text><text x="1842" y="960.3" font-size="26.5" text-anchor="middle" fill="#111" >1d</text><text x="1897.5" y="960.3" font-size="26.5" text-anchor="middle" fill="#111" >3d</text><path d="M1773.2 968.6L1912.3 968.6" stroke="#111" stroke-width="1.8" fill="none" /><text x="1838.3" y="1002" font-size="26.5" text-anchor="middle" fill="#111" >SNI</text><text x="1894.8" y="673.5" font-size="34" text-anchor="middle" fill="#111" >**</text><text transform="translate(1622.5 783) rotate(-90)" font-size="26.5" text-anchor="middle" fill="#111">S1 Integrated Ca<tspan font-size="15" dy="-9">2+</tspan><tspan dy="9"> Δ</tspan><tspan font-style="italic">F</tspan>/<tspan font-style="italic">F</tspan><tspan font-size="15" dy="5">0</tspan></text><g transform="translate(52.3 1186.3) scale(5.9897)" shape-rendering="crispEdges"><g id="mx0"><path fill="#0040ff" d="M36 20h1v1h-1z"/><path fill="#0060ff" d="M29 18h1v1h-1zM36 21h1v1h-1z"/><path fill="#0080ff" d="M38 1h1v1h-1zM22 6h1v1h-1zM36 6h1v1h-1zM28 7h1v1h-1zM37 17h1v1h-1zM29 23h1v1h-1z"/><path fill="#009fff" d="M35 2h1v1h-1zM36 4h2v1h-2zM34 5h1v1h-1zM24 6h1v1h-1zM31 8h1v1h-1zM37 15h1v1h-1zM36 16h1v1h-1zM36 18h1v1h-1zM35 27h1v1h-1z"/><path fill="#00bfff" d="M25 1h1v1h-1zM36 2h1v1h-1zM27 3h1v1h-1zM34 4h1v1h-1zM18 5h1v1h-1zM32 8h1v1h-1zM38 8h1v1h-1zM38 10h1v1h-1zM32 12h1v1h-1zM29 13h1v1h-1zM23 15h1v1h-1zM23 16h1v1h-1zM37 16h2v1h-2zM35 17h1v1h-1zM29 20h1v1h-1zM33 20h1v1h-1zM26 21h1v1h-1zM23 22h1v1h-1zM37 22h1v1h-1zM25 24h1v1h-1zM35 26h1v1h-1zM33 30h1v1h-1zM34 33h1v1h-1zM36 35h1v1h-1zM37 36h1v1h-1z"/><path fill="#00dfff" d="M13 0h1v1h-1zM37 0h1v1h-1zM24 4h1v1h-1zM23 5h1v1h-1zM25 5h1v1h-1zM16 7h1v1h-1zM24 8h1v1h-1zM34 8h1v1h-1zM36 8h1v1h-1zM14 9h1v1h-1zM15 10h1v1h-1zM19 10h1v1h-1zM29 12h1v1h-1zM24 13h1v1h-1zM16 14h1v1h-1zM26 14h1v1h-1zM30 15h1v1h-1zM36 15h1v1h-1zM33 16h1v1h-1zM31 18h1v1h-1zM36 23h1v1h-1zM36 24h1v1h-1zM26 25h1v1h-1zM36 25h1v1h-1zM30 26h1v1h-1zM37 31h1v1h-1zM36 33h1v1h-1zM36 34h1v1h-1z"/><path fill="#00ffff" d="M33 0h2v1h-2zM36 0h1v1h-1zM15 1h2v1h-2zM21 1h1v1h-1zM29 1h1v1h-1zM32 1h1v1h-1zM37 1h1v1h-1zM17 2h1v1h-1zM31 2h1v1h-1zM18 3h1v1h-1zM34 3h1v1h-1zM26 4h1v1h-1zM32 4h1v1h-1zM12 5h1v1h-1zM17 5h1v1h-1zM36 5h1v1h-1zM31 6h1v1h-1zM12 7h1v1h-1zM15 7h1v1h-1zM23 7h1v1h-1zM27 8h2v1h-2zM19 9h1v1h-1zM23 9h1v1h-1zM38 9h1v1h-1zM35 10h1v1h-1zM21 11h1v1h-1zM38 11h1v1h-1zM23 12h1v1h-1zM22 13h1v1h-1zM33 14h1v1h-1zM36 14h1v1h-1zM22 15h1v1h-1zM38 15h1v1h-1zM19 17h1v1h-1zM38 18h1v1h-1zM31 20h1v1h-1zM35 20h1v1h-1zM35 21h1v1h-1zM26 23h1v1h-1zM34 23h1v1h-1zM37 23h1v1h-1zM26 24h1v1h-1zM34 24h1v1h-1zM37 25h1v1h-1zM36 26h1v1h-1zM37 28h1v1h-1zM35 29h1v1h-1zM38 29h1v1h-1zM35 30h1v1h-1zM37 30h2v1h-2zM37 34h1v1h-1z"/><path fill="#20ffdf" d="M16 0h1v1h-1zM18 1h1v1h-1zM30 1h1v1h-1zM33 1h1v1h-1zM26 2h2v1h-2zM32 2h1v1h-1zM31 3h2v1h-2zM16 4h1v1h-1zM29 4h1v1h-1zM15 5h1v1h-1zM38 5h1v1h-1zM14 6h1v1h-1zM20 6h1v1h-1zM27 6h1v1h-1zM30 6h1v1h-1zM20 7h1v1h-1zM25 7h1v1h-1zM29 7h1v1h-1zM35 7h1v1h-1zM13 8h2v1h-2zM25 8h1v1h-1zM37 8h1v1h-1zM21 9h1v1h-1zM32 9h1v1h-1zM35 9h1v1h-1zM37 9h1v1h-1zM24 10h1v1h-1zM28 11h1v1h-1zM35 11h1v1h-1zM24 12h1v1h-1zM36 12h1v1h-1zM38 12h1v1h-1zM28 13h1v1h-1zM32 13h1v1h-1zM35 13h1v1h-1zM23 14h1v1h-1zM34 14h1v1h-1zM19 15h1v1h-1zM32 15h1v1h-1zM35 15h1v1h-1zM19 16h1v1h-1zM34 16h1v1h-1zM27 17h2v1h-2zM30 17h2v1h-2zM38 17h1v1h-1zM35 18h1v1h-1zM37 18h1v1h-1zM25 19h1v1h-1zM36 19h1v1h-1zM28 20h1v1h-1zM38 20h1v1h-1zM32 21h1v1h-1zM29 22h1v1h-1zM36 22h1v1h-1zM38 23h1v1h-1zM28 24h1v1h-1zM27 25h2v1h-2zM35 25h1v1h-1zM34 26h1v1h-1zM30 27h1v1h-1zM36 27h1v1h-1zM36 29h1v1h-1zM31 30h1v1h-1zM36 31h1v1h-1zM35 32h2v1h-2zM37 33h1v1h-1zM38 35h1v1h-1zM38 36h1v1h-1z"/><path fill="#40ffbf" d="M25 0h1v1h-1zM27 0h1v1h-1zM32 0h1v1h-1zM38 0h1v1h-1zM11 1h2v1h-2zM27 1h1v1h-1zM21 2h1v1h-1zM25 2h1v1h-1zM24 3h1v1h-1zM26 3h1v1h-1zM28 3h1v1h-1zM33 3h1v1h-1zM37 3h1v1h-1zM5 4h1v1h-1zM17 4h1v1h-1zM23 4h1v1h-1zM31 4h1v1h-1zM33 4h1v1h-1zM10 5h1v1h-1zM14 5h1v1h-1zM16 5h1v1h-1zM20 5h1v1h-1zM24 5h1v1h-1zM35 5h1v1h-1zM13 6h1v1h-1zM23 6h1v1h-1zM35 6h1v1h-1zM37 6h1v1h-1zM32 7h1v1h-1zM34 7h1v1h-1zM38 7h1v1h-1zM12 8h1v1h-1zM21 8h1v1h-1zM33 8h1v1h-1zM35 8h1v1h-1zM27 9h1v1h-1zM34 9h1v1h-1zM28 10h1v1h-1zM36 10h1v1h-1zM13 11h1v1h-1zM19 11h1v1h-1zM31 11h1v1h-1zM34 11h1v1h-1zM18 12h1v1h-1zM25 12h1v1h-1zM31 12h1v1h-1zM35 12h1v1h-1zM16 13h1v1h-1zM25 13h1v1h-1zM30 13h1v1h-1zM33 13h1v1h-1zM38 13h1v1h-1zM21 14h1v1h-1zM35 14h1v1h-1zM38 14h1v1h-1zM17 15h1v1h-1zM17 16h1v1h-1zM28 16h1v1h-1zM26 17h1v1h-1zM20 18h1v1h-1zM32 19h2v1h-2zM21 20h1v1h-1zM23 20h1v1h-1zM30 20h1v1h-1zM37 20h1v1h-1zM30 22h2v1h-2zM30 23h1v1h-1zM32 23h1v1h-1zM35 23h1v1h-1zM29 24h1v1h-1zM29 25h1v1h-1zM33 25h1v1h-1zM27 26h1v1h-1zM37 26h1v1h-1zM31 28h1v1h-1zM35 28h1v1h-1zM31 29h1v1h-1zM32 30h1v1h-1zM34 30h1v1h-1zM34 32h1v1h-1zM38 33h1v1h-1zM37 35h1v1h-1zM38 37h1v1h-1z"/><path fill="#60ff9f" d="M28 0h2v1h-2zM31 0h1v1h-1zM35 0h1v1h-1zM5 1h1v1h-1zM17 1h1v1h-1zM20 1h1v1h-1zM24 1h1v1h-1zM35 1h1v1h-1zM5 2h1v1h-1zM16 2h1v1h-1zM24 2h1v1h-1zM21 3h1v1h-1zM35 3h1v1h-1zM38 3h1v1h-1zM13 4h1v1h-1zM35 4h1v1h-1zM7 5h1v1h-1zM27 5h2v1h-2zM21 6h1v1h-1zM34 6h1v1h-1zM38 6h1v1h-1zM17 7h3v1h-3zM24 7h1v1h-1zM26 7h1v1h-1zM36 7h1v1h-1zM16 8h1v1h-1zM23 8h1v1h-1zM29 8h1v1h-1zM13 9h1v1h-1zM15 9h2v1h-2zM25 9h1v1h-1zM28 9h1v1h-1zM30 9h1v1h-1zM29 10h1v1h-1zM31 10h2v1h-2zM34 10h1v1h-1zM27 11h1v1h-1zM13 12h2v1h-2zM17 12h1v1h-1zM37 12h1v1h-1zM14 13h1v1h-1zM36 13h2v1h-2zM17 14h1v1h-1zM29 14h1v1h-1zM18 16h1v1h-1zM31 16h1v1h-1zM35 16h1v1h-1zM20 17h1v1h-1zM24 17h2v1h-2zM34 17h1v1h-1zM36 17h1v1h-1zM30 18h1v1h-1zM32 18h1v1h-1zM34 18h1v1h-1zM21 19h1v1h-1zM24 19h1v1h-1zM26 19h1v1h-1zM28 19h1v1h-1zM30 19h1v1h-1zM22 20h1v1h-1zM27 20h1v1h-1zM27 21h1v1h-1zM31 21h1v1h-1zM38 21h1v1h-1zM24 22h1v1h-1zM28 22h1v1h-1zM33 22h1v1h-1zM31 23h1v1h-1zM38 24h1v1h-1zM30 25h1v1h-1zM29 26h1v1h-1zM34 27h1v1h-1zM37 27h2v1h-2zM30 28h1v1h-1zM36 28h1v1h-1zM38 28h1v1h-1zM32 29h2v1h-2zM36 30h1v1h-1zM35 31h1v1h-1zM38 32h1v1h-1zM38 34h1v1h-1z"/><path fill="#80ff80" d="M7 0h1v1h-1zM12 0h1v1h-1zM14 0h1v1h-1zM24 0h1v1h-1zM13 1h1v1h-1zM19 1h1v1h-1zM22 1h1v1h-1zM26 1h1v1h-1zM31 1h1v1h-1zM34 1h1v1h-1zM36 1h1v1h-1zM14 2h1v1h-1zM28 2h1v1h-1zM30 2h1v1h-1zM37 2h1v1h-1zM14 3h2v1h-2zM22 3h1v1h-1zM25 3h1v1h-1zM18 4h2v1h-2zM21 4h1v1h-1zM38 4h1v1h-1zM11 5h1v1h-1zM21 5h1v1h-1zM26 5h1v1h-1zM31 5h2v1h-2zM18 6h1v1h-1zM25 6h1v1h-1zM37 7h1v1h-1zM18 8h2v1h-2zM26 9h1v1h-1zM33 9h1v1h-1zM14 10h1v1h-1zM17 10h1v1h-1zM23 10h1v1h-1zM30 10h1v1h-1zM33 10h1v1h-1zM16 11h1v1h-1zM18 11h1v1h-1zM25 11h1v1h-1zM32 11h1v1h-1zM19 12h1v1h-1zM33 12h2v1h-2zM17 13h1v1h-1zM19 13h1v1h-1zM23 13h1v1h-1zM26 13h2v1h-2zM34 13h1v1h-1zM18 14h1v1h-1zM28 14h1v1h-1zM31 14h2v1h-2zM16 15h1v1h-1zM18 15h1v1h-1zM20 15h1v1h-1zM26 15h2v1h-2zM34 15h1v1h-1zM22 16h1v1h-1zM24 16h1v1h-1zM29 17h1v1h-1zM32 17h1v1h-1zM22 18h2v1h-2zM28 18h1v1h-1zM23 19h1v1h-1zM27 19h1v1h-1zM37 19h1v1h-1zM24 20h1v1h-1zM22 21h2v1h-2zM25 21h1v1h-1zM34 21h1v1h-1zM25 22h1v1h-1zM27 22h1v1h-1zM27 23h1v1h-1zM30 24h2v1h-2zM34 25h1v1h-1zM28 26h1v1h-1zM31 26h1v1h-1zM33 26h1v1h-1zM28 27h1v1h-1zM33 27h1v1h-1zM34 28h1v1h-1z"/><path fill="#9fff60" d="M9 0h1v1h-1zM17 0h1v1h-1zM19 0h4v1h-4zM14 1h1v1h-1zM11 2h3v1h-3zM22 2h2v1h-2zM29 2h1v1h-1zM33 2h2v1h-2zM12 3h1v1h-1zM19 3h1v1h-1zM23 3h1v1h-1zM36 3h1v1h-1zM15 4h1v1h-1zM22 4h1v1h-1zM27 4h1v1h-1zM30 4h1v1h-1zM19 5h1v1h-1zM12 6h1v1h-1zM15 6h1v1h-1zM17 6h1v1h-1zM29 6h1v1h-1zM33 6h1v1h-1zM22 7h1v1h-1zM27 7h1v1h-1zM11 8h1v1h-1zM17 8h1v1h-1zM26 8h1v1h-1zM17 9h1v1h-1zM20 9h1v1h-1zM22 9h1v1h-1zM29 9h1v1h-1zM31 9h1v1h-1zM36 9h1v1h-1zM12 10h1v1h-1zM16 10h1v1h-1zM18 10h1v1h-1zM20 10h1v1h-1zM27 10h1v1h-1zM22 11h3v1h-3zM26 11h1v1h-1zM33 11h1v1h-1zM37 11h1v1h-1zM22 12h1v1h-1zM27 12h2v1h-2zM30 12h1v1h-1zM15 13h1v1h-1zM20 13h1v1h-1zM20 14h1v1h-1zM25 14h1v1h-1zM24 15h1v1h-1zM31 15h1v1h-1zM20 16h1v1h-1zM27 16h1v1h-1zM30 16h1v1h-1zM32 16h1v1h-1zM22 17h2v1h-2zM26 18h1v1h-1zM20 19h1v1h-1zM22 19h1v1h-1zM31 19h1v1h-1zM35 19h1v1h-1zM25 20h1v1h-1zM28 21h1v1h-1zM33 21h1v1h-1zM35 22h1v1h-1zM38 22h1v1h-1zM24 23h2v1h-2zM28 23h1v1h-1zM32 24h1v1h-1zM37 24h1v1h-1zM38 25h1v1h-1zM38 26h1v1h-1zM29 27h1v1h-1zM32 27h1v1h-1zM29 28h1v1h-1zM32 28h2v1h-2zM35 33h1v1h-1zM35 34h1v1h-1z"/><path fill="#bfff40" d="M2 0h1v1h-1zM30 0h1v1h-1zM2 1h1v1h-1zM23 1h1v1h-1zM28 1h1v1h-1zM15 2h1v1h-1zM18 2h1v1h-1zM10 3h1v1h-1zM16 3h1v1h-1zM25 4h1v1h-1zM28 4h1v1h-1zM9 5h1v1h-1zM22 5h1v1h-1zM19 6h1v1h-1zM26 6h1v1h-1zM28 6h1v1h-1zM32 6h1v1h-1zM11 7h1v1h-1zM13 7h1v1h-1zM31 7h1v1h-1zM15 8h1v1h-1zM10 9h1v1h-1zM22 10h1v1h-1zM37 10h1v1h-1zM15 11h1v1h-1zM17 11h1v1h-1zM29 11h1v1h-1zM36 11h1v1h-1zM15 12h2v1h-2zM20 12h2v1h-2zM26 12h1v1h-1zM18 13h1v1h-1zM31 13h1v1h-1zM15 14h1v1h-1zM24 14h1v1h-1zM37 14h1v1h-1zM25 15h1v1h-1zM25 16h2v1h-2zM29 16h1v1h-1zM18 17h1v1h-1zM21 17h1v1h-1zM33 17h1v1h-1zM21 18h1v1h-1zM33 18h1v1h-1zM29 19h1v1h-1zM38 19h1v1h-1zM26 20h1v1h-1zM32 20h1v1h-1zM30 21h1v1h-1zM26 22h1v1h-1zM33 23h1v1h-1zM27 24h1v1h-1zM35 24h1v1h-1zM31 25h1v1h-1zM34 31h1v1h-1zM38 31h1v1h-1zM37 32h1v1h-1z"/><path fill="#dfff20" d="M5 0h1v1h-1zM18 0h1v1h-1zM23 0h1v1h-1zM19 2h2v1h-2zM38 2h1v1h-1zM17 3h1v1h-1zM9 4h1v1h-1zM11 4h2v1h-2zM8 5h1v1h-1zM13 5h1v1h-1zM16 6h1v1h-1zM14 7h1v1h-1zM30 7h1v1h-1zM33 7h1v1h-1zM9 8h1v1h-1zM30 8h1v1h-1zM21 10h1v1h-1zM14 11h1v1h-1zM30 11h1v1h-1zM27 14h1v1h-1zM21 15h1v1h-1zM28 15h1v1h-1zM33 15h1v1h-1zM21 16h1v1h-1zM19 18h1v1h-1zM27 18h1v1h-1zM29 21h1v1h-1zM37 21h1v1h-1zM34 22h1v1h-1zM32 25h1v1h-1zM30 29h1v1h-1zM34 29h1v1h-1zM37 29h1v1h-1z"/><path fill="#ffff00" d="M26 0h1v1h-1zM7 2h2v1h-2zM10 2h1v1h-1zM4 3h1v1h-1zM13 3h1v1h-1zM20 3h1v1h-1zM29 3h1v1h-1zM8 4h1v1h-1zM10 4h1v1h-1zM14 4h1v1h-1zM20 4h1v1h-1zM6 5h1v1h-1zM29 5h2v1h-2zM37 5h1v1h-1zM8 6h1v1h-1zM9 7h1v1h-1zM21 7h1v1h-1zM20 8h1v1h-1zM12 9h1v1h-1zM18 9h1v1h-1zM11 10h1v1h-1zM13 10h1v1h-1zM12 11h1v1h-1zM20 11h1v1h-1zM22 14h1v1h-1zM24 18h2v1h-2zM34 19h1v1h-1zM34 20h1v1h-1zM24 21h1v1h-1zM32 22h1v1h-1zM33 24h1v1h-1zM32 26h1v1h-1zM31 27h1v1h-1z"/><path fill="#ffdf00" d="M1 0h1v1h-1zM3 0h1v1h-1zM4 1h1v1h-1zM9 1h1v1h-1zM9 2h1v1h-1zM8 3h1v1h-1zM30 3h1v1h-1zM24 9h1v1h-1zM26 10h1v1h-1zM21 13h1v1h-1zM30 14h1v1h-1zM29 15h1v1h-1z"/><path fill="#ffbf00" d="M4 0h1v1h-1zM15 0h1v1h-1zM3 1h1v1h-1zM7 1h1v1h-1zM10 1h1v1h-1zM3 2h1v1h-1zM7 4h1v1h-1zM7 6h1v1h-1zM9 6h3v1h-3zM8 7h1v1h-1zM11 9h1v1h-1zM25 10h1v1h-1zM19 14h1v1h-1zM33 32h1v1h-1z"/><path fill="#ff9f00" d="M6 0h1v1h-1zM8 0h1v1h-1zM8 1h1v1h-1zM5 3h3v1h-3zM9 3h1v1h-1zM11 3h1v1h-1zM33 5h1v1h-1zM10 7h1v1h-1zM32 31h1v1h-1z"/><path fill="#ff8000" d="M10 0h1v1h-1zM10 8h1v1h-1zM22 8h1v1h-1zM33 31h1v1h-1z"/><path fill="#ff6000" d="M11 0h1v1h-1zM6 1h1v1h-1zM4 2h1v1h-1zM6 2h1v1h-1z"/><path fill="#ff2000" d="M6 4h1v1h-1z"/><path fill="#800000" d="M0 0h1v1h-1zM1 1h1v1h-1zM2 2h1v1h-1zM3 3h1v1h-1zM4 4h1v1h-1zM5 5h1v1h-1zM6 6h1v1h-1zM7 7h1v1h-1zM8 8h1v1h-1zM9 9h1v1h-1zM10 10h1v1h-1zM11 11h1v1h-1zM12 12h1v1h-1zM13 13h1v1h-1zM14 14h1v1h-1zM15 15h1v1h-1zM16 16h1v1h-1zM17 17h1v1h-1zM18 18h1v1h-1zM19 19h1v1h-1zM20 20h1v1h-1zM21 21h1v1h-1zM22 22h1v1h-1zM23 23h1v1h-1zM24 24h1v1h-1zM25 25h1v1h-1zM26 26h1v1h-1zM27 27h1v1h-1zM28 28h1v1h-1zM29 29h1v1h-1zM30 30h1v1h-1zM31 31h1v1h-1zM32 32h1v1h-1zM33 33h1v1h-1zM34 34h1v1h-1zM35 35h1v1h-1zM36 36h1v1h-1zM37 37h1v1h-1zM38 38h1v1h-1z"/></g><use href="#mx0" transform="matrix(0 1 1 0 0 0)"/></g><g transform="translate(292.2 1186.3) scale(5.9897)" shape-rendering="crispEdges"><g id="mx1"><path fill="#0060ff" d="M31 13h1v1h-1z"/><path fill="#009fff" d="M17 11h1v1h-1zM36 14h1v1h-1zM31 17h1v1h-1zM28 22h1v1h-1zM36 25h1v1h-1zM31 30h1v1h-1zM36 32h1v1h-1z"/><path fill="#00bfff" d="M31 4h1v1h-1zM37 5h1v1h-1zM17 7h1v1h-1zM36 19h2v1h-2zM38 22h1v1h-1zM24 23h1v1h-1z"/><path fill="#00dfff" d="M2 1h1v1h-1zM17 1h1v1h-1zM30 6h1v1h-1zM21 9h1v1h-1zM36 12h1v1h-1zM30 14h1v1h-1zM31 16h1v1h-1zM37 16h1v1h-1zM21 18h1v1h-1zM31 20h1v1h-1zM23 21h1v1h-1zM36 21h1v1h-1zM30 23h1v1h-1zM37 27h1v1h-1zM37 30h1v1h-1zM37 33h1v1h-1zM35 34h1v1h-1z"/><path fill="#00ffff" d="M5 0h1v1h-1zM26 0h1v1h-1zM14 1h1v1h-1zM21 1h1v1h-1zM29 1h1v1h-1zM22 3h2v1h-2zM8 5h1v1h-1zM13 5h1v1h-1zM30 5h1v1h-1zM37 6h1v1h-1zM21 8h1v1h-1zM23 9h1v1h-1zM36 9h1v1h-1zM17 10h1v1h-1zM22 10h1v1h-1zM24 11h1v1h-1zM36 11h1v1h-1zM38 11h1v1h-1zM17 14h1v1h-1zM23 14h1v1h-1zM23 15h1v1h-1zM30 16h1v1h-1zM30 18h1v1h-1zM30 20h1v1h-1zM27 21h1v1h-1zM32 23h2v1h-2zM37 23h1v1h-1zM30 25h1v1h-1zM33 26h1v1h-1zM32 27h1v1h-1zM36 33h1v1h-1zM36 35h1v1h-1z"/><path fill="#20ffdf" d="M10 0h1v1h-1zM31 0h1v1h-1zM36 0h1v1h-1zM6 1h1v1h-1zM34 1h1v1h-1zM34 2h1v1h-1zM37 2h1v1h-1zM5 4h1v1h-1zM34 4h1v1h-1zM25 5h1v1h-1zM34 5h1v1h-1zM11 6h1v1h-1zM21 6h1v1h-1zM31 6h1v1h-1zM33 6h1v1h-1zM35 7h1v1h-1zM22 8h1v1h-1zM36 8h1v1h-1zM30 10h1v1h-1zM35 10h1v1h-1zM37 10h1v1h-1zM30 11h1v1h-1zM32 11h1v1h-1zM30 12h1v1h-1zM17 13h1v1h-1zM21 13h1v1h-1zM30 13h1v1h-1zM37 13h1v1h-1zM27 14h1v1h-1zM34 14h1v1h-1zM37 14h1v1h-1zM19 17h1v1h-1zM23 17h1v1h-1zM37 17h1v1h-1zM23 18h1v1h-1zM28 18h1v1h-1zM31 18h1v1h-1zM36 18h1v1h-1zM23 20h1v1h-1zM28 20h1v1h-1zM34 20h1v1h-1zM36 20h1v1h-1zM22 21h1v1h-1zM35 21h1v1h-1zM23 22h1v1h-1zM26 23h1v1h-1zM34 23h1v1h-1zM31 24h1v1h-1zM36 26h1v1h-1zM30 27h1v1h-1zM37 28h1v1h-1zM31 29h1v1h-1zM37 31h1v1h-1zM34 33h1v1h-1zM36 34h1v1h-1z"/><path fill="#40ffbf" d="M6 0h1v1h-1zM23 0h1v1h-1zM25 0h1v1h-1zM32 0h1v1h-1zM3 1h1v1h-1zM9 1h1v1h-1zM12 1h1v1h-1zM22 1h1v1h-1zM30 1h1v1h-1zM11 2h1v1h-1zM23 2h1v1h-1zM17 3h1v1h-1zM20 3h1v1h-1zM20 4h1v1h-1zM23 4h1v1h-1zM37 4h1v1h-1zM14 5h1v1h-1zM16 5h2v1h-2zM23 5h1v1h-1zM26 5h2v1h-2zM17 6h1v1h-1zM36 6h1v1h-1zM31 9h1v1h-1zM34 9h1v1h-1zM31 10h1v1h-1zM14 11h3v1h-3zM25 11h2v1h-2zM21 12h2v1h-2zM31 12h1v1h-1zM20 13h1v1h-1zM22 13h2v1h-2zM35 16h1v1h-1zM38 16h1v1h-1zM20 17h1v1h-1zM27 17h1v1h-1zM29 17h1v1h-1zM36 17h1v1h-1zM20 18h1v1h-1zM29 18h1v1h-1zM20 19h2v1h-2zM30 19h2v1h-2zM24 21h1v1h-1zM28 21h1v1h-1zM30 21h1v1h-1zM33 21h1v1h-1zM37 21h1v1h-1zM24 22h1v1h-1zM30 22h1v1h-1zM33 22h1v1h-1zM37 22h1v1h-1zM28 23h1v1h-1zM36 23h1v1h-1zM38 23h1v1h-1zM31 26h1v1h-1zM32 28h1v1h-1zM36 30h1v1h-1zM38 30h1v1h-1zM35 31h1v1h-1zM38 31h1v1h-1zM33 32h1v1h-1z"/><path fill="#60ff9f" d="M34 0h1v1h-1zM11 1h1v1h-1zM15 1h1v1h-1zM25 1h1v1h-1zM35 1h2v1h-2zM30 2h1v1h-1zM21 3h1v1h-1zM30 3h1v1h-1zM21 5h2v1h-2zM35 5h2v1h-2zM9 7h1v1h-1zM19 7h1v1h-1zM30 7h1v1h-1zM38 7h1v1h-1zM23 8h1v1h-1zM35 8h1v1h-1zM11 9h1v1h-1zM20 9h1v1h-1zM30 9h1v1h-1zM35 9h1v1h-1zM34 10h1v1h-1zM18 11h1v1h-1zM28 11h1v1h-1zM34 11h1v1h-1zM17 12h1v1h-1zM32 12h1v1h-1zM34 12h1v1h-1zM37 12h1v1h-1zM27 13h1v1h-1zM34 13h1v1h-1zM22 14h1v1h-1zM29 15h2v1h-2zM36 15h2v1h-2zM20 16h1v1h-1zM22 16h1v1h-1zM24 17h1v1h-1zM26 17h1v1h-1zM32 17h1v1h-1zM35 17h1v1h-1zM22 18h1v1h-1zM35 18h1v1h-1zM37 18h1v1h-1zM22 19h1v1h-1zM32 20h1v1h-1zM37 20h1v1h-1zM31 21h1v1h-1zM31 22h1v1h-1zM36 22h1v1h-1zM27 23h1v1h-1zM29 23h1v1h-1zM31 23h1v1h-1zM34 26h1v1h-1zM31 27h1v1h-1zM34 27h1v1h-1zM30 28h1v1h-1zM36 29h1v1h-1zM32 30h1v1h-1zM34 30h1v1h-1zM32 31h1v1h-1zM34 31h1v1h-1zM34 32h1v1h-1zM37 34h1v1h-1z"/><path fill="#80ff80" d="M3 0h2v1h-2zM12 0h1v1h-1zM20 0h1v1h-1zM22 0h1v1h-1zM30 0h1v1h-1zM7 1h1v1h-1zM4 2h2v1h-2zM20 2h1v1h-1zM31 2h1v1h-1zM35 2h1v1h-1zM9 3h1v1h-1zM17 4h1v1h-1zM28 4h1v1h-1zM30 4h1v1h-1zM32 4h1v1h-1zM6 5h1v1h-1zM12 5h1v1h-1zM19 5h2v1h-2zM32 5h2v1h-2zM7 6h1v1h-1zM15 6h2v1h-2zM38 6h1v1h-1zM8 7h1v1h-1zM14 7h1v1h-1zM27 7h1v1h-1zM31 7h1v1h-1zM36 7h1v1h-1zM9 8h1v1h-1zM31 8h1v1h-1zM22 9h1v1h-1zM25 9h1v1h-1zM28 9h1v1h-1zM21 10h1v1h-1zM36 10h1v1h-1zM12 11h1v1h-1zM27 11h1v1h-1zM29 11h1v1h-1zM35 12h1v1h-1zM17 15h1v1h-1zM31 15h1v1h-1zM21 16h1v1h-1zM23 16h1v1h-1zM36 16h1v1h-1zM18 17h1v1h-1zM22 17h1v1h-1zM34 18h1v1h-1zM23 19h1v1h-1zM34 19h1v1h-1zM24 20h1v1h-1zM35 20h1v1h-1zM26 22h1v1h-1zM32 22h1v1h-1zM30 24h1v1h-1zM36 24h1v1h-1zM27 25h1v1h-1zM28 27h1v1h-1zM36 27h1v1h-1zM30 29h1v1h-1zM37 29h1v1h-1zM33 31h1v1h-1zM38 34h1v1h-1zM37 36h1v1h-1z"/><path fill="#9fff60" d="M2 0h1v1h-1zM14 0h1v1h-1zM19 0h1v1h-1zM24 0h1v1h-1zM27 0h2v1h-2zM33 0h1v1h-1zM37 0h2v1h-2zM8 1h1v1h-1zM18 1h3v1h-3zM24 1h1v1h-1zM26 1h2v1h-2zM32 1h1v1h-1zM37 1h1v1h-1zM7 2h1v1h-1zM16 2h2v1h-2zM22 2h1v1h-1zM7 3h1v1h-1zM11 3h1v1h-1zM28 3h1v1h-1zM31 3h1v1h-1zM18 4h1v1h-1zM33 4h1v1h-1zM35 4h1v1h-1zM7 5h1v1h-1zM9 5h1v1h-1zM18 5h1v1h-1zM29 5h1v1h-1zM22 6h1v1h-1zM35 6h1v1h-1zM11 7h1v1h-1zM21 7h1v1h-1zM26 7h1v1h-1zM37 7h1v1h-1zM20 8h1v1h-1zM27 8h1v1h-1zM33 8h2v1h-2zM37 8h1v1h-1zM17 9h3v1h-3zM27 9h1v1h-1zM19 10h1v1h-1zM27 10h1v1h-1zM23 11h1v1h-1zM31 11h1v1h-1zM33 11h1v1h-1zM35 11h1v1h-1zM20 14h2v1h-2zM31 14h1v1h-1zM22 15h1v1h-1zM27 15h2v1h-2zM34 15h2v1h-2zM17 16h1v1h-1zM30 17h1v1h-1zM25 19h1v1h-1zM27 19h1v1h-1zM35 19h1v1h-1zM21 20h1v1h-1zM27 20h1v1h-1zM32 21h1v1h-1zM25 22h1v1h-1zM27 22h1v1h-1zM35 22h1v1h-1zM26 24h1v1h-1zM32 24h1v1h-1zM34 25h1v1h-1zM30 26h1v1h-1zM35 26h1v1h-1zM29 27h1v1h-1zM35 27h1v1h-1zM33 28h1v1h-1zM35 30h1v1h-1zM36 31h1v1h-1zM35 32h1v1h-1zM37 32h1v1h-1zM38 33h1v1h-1z"/><path fill="#bfff40" d="M7 0h1v1h-1zM9 0h1v1h-1zM11 0h1v1h-1zM13 0h1v1h-1zM17 0h2v1h-2zM29 0h1v1h-1zM35 0h1v1h-1zM5 1h1v1h-1zM10 1h1v1h-1zM13 1h1v1h-1zM16 1h1v1h-1zM36 2h1v1h-1zM38 2h1v1h-1zM5 3h1v1h-1zM36 3h1v1h-1zM11 4h2v1h-2zM22 4h1v1h-1zM24 4h1v1h-1zM36 4h1v1h-1zM24 5h1v1h-1zM38 5h1v1h-1zM10 6h1v1h-1zM18 6h1v1h-1zM20 6h1v1h-1zM13 7h1v1h-1zM20 7h1v1h-1zM33 7h2v1h-2zM11 8h1v1h-1zM17 8h1v1h-1zM30 8h1v1h-1zM14 9h1v1h-1zM24 9h1v1h-1zM37 9h1v1h-1zM12 10h1v1h-1zM24 10h2v1h-2zM13 11h1v1h-1zM20 11h3v1h-3zM20 12h1v1h-1zM28 12h1v1h-1zM38 12h1v1h-1zM15 13h1v1h-1zM25 13h1v1h-1zM36 13h1v1h-1zM15 14h1v1h-1zM18 14h2v1h-2zM20 15h1v1h-1zM24 15h1v1h-1zM27 16h1v1h-1zM21 17h1v1h-1zM28 17h1v1h-1zM38 17h1v1h-1zM32 18h1v1h-1zM26 19h1v1h-1zM29 19h1v1h-1zM22 20h1v1h-1zM26 20h1v1h-1zM29 20h1v1h-1zM33 20h1v1h-1zM38 20h1v1h-1zM25 21h1v1h-1zM29 21h1v1h-1zM38 21h1v1h-1zM29 22h1v1h-1zM25 23h1v1h-1zM35 23h1v1h-1zM25 24h1v1h-1zM28 25h1v1h-1zM37 25h1v1h-1zM27 26h1v1h-1zM34 29h1v1h-1zM33 30h1v1h-1zM37 35h1v1h-1zM38 37h1v1h-1z"/><path fill="#dfff20" d="M15 0h1v1h-1zM21 0h1v1h-1zM4 1h1v1h-1zM33 1h1v1h-1zM3 2h1v1h-1zM10 2h1v1h-1zM29 2h1v1h-1zM33 2h1v1h-1zM14 3h2v1h-2zM34 3h2v1h-2zM37 3h1v1h-1zM8 4h1v1h-1zM13 4h3v1h-3zM31 5h1v1h-1zM25 6h1v1h-1zM10 7h1v1h-1zM16 7h1v1h-1zM22 7h3v1h-3zM28 7h1v1h-1zM24 8h1v1h-1zM28 8h1v1h-1zM11 10h1v1h-1zM16 10h1v1h-1zM20 10h1v1h-1zM23 10h1v1h-1zM32 10h1v1h-1zM19 11h1v1h-1zM37 11h1v1h-1zM27 12h1v1h-1zM29 12h1v1h-1zM33 13h1v1h-1zM29 14h1v1h-1zM33 14h1v1h-1zM35 14h1v1h-1zM25 15h1v1h-1zM18 16h1v1h-1zM24 16h1v1h-1zM34 16h1v1h-1zM25 17h1v1h-1zM33 17h2v1h-2zM25 18h1v1h-1zM33 19h1v1h-1zM26 21h1v1h-1zM35 24h1v1h-1zM37 24h1v1h-1zM26 25h1v1h-1zM33 27h1v1h-1zM31 28h1v1h-1zM38 28h1v1h-1zM33 29h1v1h-1z"/><path fill="#ffff00" d="M23 1h1v1h-1zM28 1h1v1h-1zM31 1h1v1h-1zM38 1h1v1h-1zM6 2h1v1h-1zM19 2h1v1h-1zM25 2h1v1h-1zM27 2h1v1h-1zM4 3h1v1h-1zM29 3h1v1h-1zM7 4h1v1h-1zM16 4h1v1h-1zM38 4h1v1h-1zM15 5h1v1h-1zM28 5h1v1h-1zM9 6h1v1h-1zM12 6h1v1h-1zM23 6h1v1h-1zM27 6h1v1h-1zM34 6h1v1h-1zM12 8h2v1h-2zM32 8h1v1h-1zM16 9h1v1h-1zM26 9h1v1h-1zM29 9h1v1h-1zM18 10h1v1h-1zM15 12h1v1h-1zM18 12h1v1h-1zM23 12h1v1h-1zM25 12h1v1h-1zM14 13h1v1h-1zM28 13h1v1h-1zM35 13h1v1h-1zM16 14h1v1h-1zM38 14h1v1h-1zM18 15h2v1h-2zM21 15h1v1h-1zM26 15h1v1h-1zM26 16h1v1h-1zM28 16h1v1h-1zM28 19h1v1h-1zM25 20h1v1h-1zM34 22h1v1h-1zM34 24h1v1h-1zM28 26h1v1h-1zM37 26h1v1h-1zM38 27h1v1h-1zM35 28h2v1h-2zM38 29h1v1h-1zM38 35h1v1h-1zM38 36h1v1h-1z"/><path fill="#ffdf00" d="M1 0h1v1h-1zM8 2h1v1h-1zM14 2h1v1h-1zM12 3h1v1h-1zM27 3h1v1h-1zM33 3h1v1h-1zM6 4h1v1h-1zM9 4h2v1h-2zM27 4h1v1h-1zM29 4h1v1h-1zM8 6h1v1h-1zM13 6h2v1h-2zM19 6h1v1h-1zM29 6h1v1h-1zM32 6h1v1h-1zM15 7h1v1h-1zM18 7h1v1h-1zM25 7h1v1h-1zM14 8h1v1h-1zM19 8h1v1h-1zM25 8h2v1h-2zM38 8h1v1h-1zM12 9h2v1h-2zM32 9h2v1h-2zM26 10h1v1h-1zM28 10h1v1h-1zM38 10h1v1h-1zM13 12h1v1h-1zM19 12h1v1h-1zM24 13h1v1h-1zM26 13h1v1h-1zM38 13h1v1h-1zM25 14h1v1h-1zM19 18h1v1h-1zM38 18h1v1h-1zM24 19h1v1h-1zM32 19h1v1h-1zM38 19h1v1h-1zM27 24h1v1h-1zM38 24h1v1h-1zM31 25h1v1h-1zM33 25h1v1h-1zM38 25h1v1h-1zM38 26h1v1h-1zM35 33h1v1h-1z"/><path fill="#ffbf00" d="M8 0h1v1h-1zM16 0h1v1h-1zM12 2h2v1h-2zM21 2h1v1h-1zM24 2h1v1h-1zM24 3h2v1h-2zM32 3h1v1h-1zM38 3h1v1h-1zM19 4h1v1h-1zM10 5h2v1h-2zM24 6h1v1h-1zM12 7h1v1h-1zM29 7h1v1h-1zM32 7h1v1h-1zM18 8h1v1h-1zM29 8h1v1h-1zM10 9h1v1h-1zM15 9h1v1h-1zM38 9h1v1h-1zM33 10h1v1h-1zM18 13h2v1h-2zM32 13h1v1h-1zM24 14h1v1h-1zM32 14h1v1h-1zM33 15h1v1h-1zM19 16h1v1h-1zM29 16h1v1h-1zM26 18h2v1h-2zM34 21h1v1h-1zM28 24h1v1h-1zM33 24h1v1h-1zM32 25h1v1h-1zM35 25h1v1h-1zM32 26h1v1h-1zM35 29h1v1h-1zM38 32h1v1h-1z"/><path fill="#ff9f00" d="M15 2h1v1h-1zM28 2h1v1h-1zM6 3h1v1h-1zM18 3h2v1h-2zM21 4h1v1h-1zM25 4h2v1h-2zM26 6h1v1h-1zM28 6h1v1h-1zM16 8h1v1h-1zM13 10h1v1h-1zM15 10h1v1h-1zM16 12h1v1h-1zM24 12h1v1h-1zM29 13h1v1h-1zM28 14h1v1h-1zM16 15h1v1h-1zM32 15h1v1h-1zM32 16h2v1h-2zM24 18h1v1h-1zM33 18h1v1h-1zM29 24h1v1h-1zM34 28h1v1h-1z"/><path fill="#ff8000" d="M9 2h1v1h-1zM18 2h1v1h-1zM26 2h1v1h-1zM32 2h1v1h-1zM10 3h1v1h-1zM13 3h1v1h-1zM16 3h1v1h-1zM14 12h1v1h-1zM26 12h1v1h-1zM25 16h1v1h-1zM29 25h1v1h-1z"/><path fill="#ff6000" d="M26 3h1v1h-1zM15 8h1v1h-1zM14 10h1v1h-1zM29 10h1v1h-1zM33 12h1v1h-1zM38 15h1v1h-1zM32 29h1v1h-1z"/><path fill="#ff4000" d="M8 3h1v1h-1zM10 8h1v1h-1zM26 14h1v1h-1zM29 26h1v1h-1zM29 28h1v1h-1z"/><path fill="#ff0000" d="M16 13h1v1h-1z"/><path fill="#800000" d="M0 0h1v1h-1zM1 1h1v1h-1zM2 2h1v1h-1zM3 3h1v1h-1zM4 4h1v1h-1zM5 5h1v1h-1zM6 6h1v1h-1zM7 7h1v1h-1zM8 8h1v1h-1zM9 9h1v1h-1zM10 10h1v1h-1zM11 11h1v1h-1zM12 12h1v1h-1zM13 13h1v1h-1zM14 14h1v1h-1zM15 15h1v1h-1zM16 16h1v1h-1zM17 17h1v1h-1zM18 18h1v1h-1zM19 19h1v1h-1zM20 20h1v1h-1zM21 21h1v1h-1zM22 22h1v1h-1zM23 23h1v1h-1zM24 24h1v1h-1zM25 25h1v1h-1zM26 26h1v1h-1zM27 27h1v1h-1zM28 28h1v1h-1zM29 29h1v1h-1zM30 30h1v1h-1zM31 31h1v1h-1zM32 32h1v1h-1zM33 33h1v1h-1zM34 34h1v1h-1zM35 35h1v1h-1zM36 36h1v1h-1zM37 37h1v1h-1zM38 38h1v1h-1z"/></g><use href="#mx1" transform="matrix(0 1 1 0 0 0)"/></g><g transform="translate(531.9 1186.3) scale(5.9897)" shape-rendering="crispEdges"><g id="mx2"><path fill="#0080ff" d="M5 4h1v1h-1zM11 4h1v1h-1zM26 15h1v1h-1z"/><path fill="#009fff" d="M6 0h1v1h-1zM16 0h1v1h-1zM14 1h1v1h-1zM20 5h1v1h-1z"/><path fill="#00bfff" d="M4 0h1v1h-1zM27 0h1v1h-1zM4 1h1v1h-1zM25 1h1v1h-1zM5 3h1v1h-1zM34 3h1v1h-1zM7 5h1v1h-1zM17 5h1v1h-1zM38 5h1v1h-1zM35 12h1v1h-1z"/><path fill="#00dfff" d="M9 0h1v1h-1zM38 0h1v1h-1zM3 1h1v1h-1zM6 1h1v1h-1zM11 1h1v1h-1zM15 1h1v1h-1zM23 1h1v1h-1zM31 1h1v1h-1zM34 1h1v1h-1zM36 1h1v1h-1zM3 2h1v1h-1zM14 2h1v1h-1zM16 2h1v1h-1zM26 2h1v1h-1zM35 2h1v1h-1zM27 3h1v1h-1zM33 3h1v1h-1zM24 4h1v1h-1zM25 5h1v1h-1zM27 5h1v1h-1zM29 5h1v1h-1zM32 5h1v1h-1zM33 6h1v1h-1zM15 7h1v1h-1zM18 12h1v1h-1zM33 15h1v1h-1zM38 15h1v1h-1zM33 16h1v1h-1zM29 26h1v1h-1z"/><path fill="#00ffff" d="M2 0h1v1h-1zM12 0h1v1h-1zM23 0h2v1h-2zM5 1h1v1h-1zM37 1h1v1h-1zM15 2h1v1h-1zM25 2h1v1h-1zM33 2h2v1h-2zM7 3h1v1h-1zM21 3h1v1h-1zM30 3h1v1h-1zM32 3h1v1h-1zM28 4h1v1h-1zM30 4h1v1h-1zM14 5h1v1h-1zM36 5h1v1h-1zM32 7h1v1h-1zM13 8h1v1h-1zM30 10h1v1h-1zM15 11h1v1h-1zM30 12h1v1h-1zM38 12h1v1h-1zM26 13h1v1h-1zM32 13h1v1h-1zM16 14h1v1h-1zM30 14h1v1h-1zM30 15h1v1h-1zM33 30h1v1h-1zM37 30h1v1h-1z"/><path fill="#20ffdf" d="M37 0h1v1h-1zM2 1h1v1h-1zM12 1h1v1h-1zM17 1h1v1h-1zM19 1h2v1h-2zM27 1h1v1h-1zM32 1h1v1h-1zM7 2h1v1h-1zM12 2h1v1h-1zM20 2h1v1h-1zM32 2h1v1h-1zM37 2h1v1h-1zM6 3h1v1h-1zM17 3h1v1h-1zM31 3h1v1h-1zM35 3h1v1h-1zM12 4h2v1h-2zM15 4h1v1h-1zM19 4h1v1h-1zM26 4h1v1h-1zM36 4h1v1h-1zM6 5h1v1h-1zM16 5h1v1h-1zM19 5h1v1h-1zM24 5h1v1h-1zM26 5h1v1h-1zM31 5h1v1h-1zM34 5h1v1h-1zM26 6h1v1h-1zM26 8h1v1h-1zM13 9h1v1h-1zM15 9h1v1h-1zM30 9h1v1h-1zM17 10h1v1h-1zM26 11h1v1h-1zM15 13h1v1h-1zM19 13h2v1h-2zM25 13h1v1h-1zM25 15h1v1h-1zM27 15h2v1h-2zM18 16h1v1h-1zM28 16h1v1h-1zM26 17h1v1h-1zM28 18h1v1h-1zM33 19h1v1h-1zM38 20h1v1h-1zM29 25h1v1h-1zM30 26h1v1h-1zM38 26h1v1h-1zM30 29h2v1h-2zM36 30h1v1h-1zM38 36h1v1h-1z"/><path fill="#40ffbf" d="M1 0h1v1h-1zM3 0h1v1h-1zM5 0h1v1h-1zM34 0h1v1h-1zM36 0h1v1h-1zM13 1h1v1h-1zM22 1h1v1h-1zM29 1h2v1h-2zM18 2h1v1h-1zM21 2h1v1h-1zM23 2h1v1h-1zM27 2h2v1h-2zM30 2h2v1h-2zM38 2h1v1h-1zM4 3h1v1h-1zM15 3h1v1h-1zM18 3h1v1h-1zM20 3h1v1h-1zM29 3h1v1h-1zM37 3h1v1h-1zM8 4h1v1h-1zM10 4h1v1h-1zM20 4h1v1h-1zM22 4h1v1h-1zM31 4h1v1h-1zM34 4h2v1h-2zM37 4h1v1h-1zM11 5h1v1h-1zM13 5h1v1h-1zM21 5h1v1h-1zM33 5h1v1h-1zM11 6h1v1h-1zM31 7h1v1h-1zM33 7h1v1h-1zM23 9h1v1h-1zM38 9h1v1h-1zM32 10h1v1h-1zM38 10h1v1h-1zM13 11h1v1h-1zM27 12h1v1h-1zM36 12h1v1h-1zM21 13h1v1h-1zM33 13h1v1h-1zM26 14h1v1h-1zM16 15h1v1h-1zM29 15h1v1h-1zM24 16h1v1h-1zM31 16h1v1h-1zM29 17h1v1h-1zM38 17h1v1h-1zM29 18h1v1h-1zM34 18h1v1h-1zM26 20h1v1h-1zM26 21h1v1h-1zM26 24h1v1h-1zM32 24h1v1h-1zM36 26h1v1h-1zM32 30h1v1h-1zM35 30h1v1h-1zM38 30h1v1h-1zM33 32h1v1h-1zM36 32h1v1h-1zM38 32h1v1h-1zM35 33h1v1h-1zM38 33h1v1h-1z"/><path fill="#60ff9f" d="M10 0h2v1h-2zM13 0h1v1h-1zM20 0h2v1h-2zM30 0h1v1h-1zM32 0h1v1h-1zM26 1h1v1h-1zM28 1h1v1h-1zM38 1h1v1h-1zM5 2h2v1h-2zM10 2h1v1h-1zM13 2h1v1h-1zM8 3h1v1h-1zM13 3h2v1h-2zM22 3h1v1h-1zM24 3h1v1h-1zM26 3h1v1h-1zM16 4h3v1h-3zM23 4h1v1h-1zM33 4h1v1h-1zM38 4h1v1h-1zM8 5h2v1h-2zM12 5h1v1h-1zM18 5h1v1h-1zM23 5h1v1h-1zM30 6h1v1h-1zM38 6h1v1h-1zM17 7h1v1h-1zM30 7h1v1h-1zM18 8h1v1h-1zM32 8h2v1h-2zM16 9h1v1h-1zM35 9h1v1h-1zM15 10h1v1h-1zM33 11h1v1h-1zM28 12h2v1h-2zM33 12h1v1h-1zM14 13h1v1h-1zM18 13h1v1h-1zM24 13h1v1h-1zM27 13h1v1h-1zM31 13h1v1h-1zM37 13h1v1h-1zM18 14h1v1h-1zM17 15h1v1h-1zM23 15h1v1h-1zM17 16h1v1h-1zM29 16h1v1h-1zM32 16h1v1h-1zM32 17h1v1h-1zM36 17h1v1h-1zM25 18h2v1h-2zM30 18h1v1h-1zM36 18h1v1h-1zM38 18h1v1h-1zM29 20h1v1h-1zM26 23h1v1h-1zM32 23h1v1h-1zM36 23h1v1h-1zM36 24h1v1h-1zM28 25h1v1h-1zM30 25h1v1h-1zM31 26h1v1h-1zM33 26h1v1h-1zM33 27h1v1h-1zM33 31h1v1h-1zM36 31h1v1h-1zM34 32h1v1h-1zM38 35h1v1h-1z"/><path fill="#80ff80" d="M8 0h1v1h-1zM31 0h1v1h-1zM33 0h1v1h-1zM7 1h1v1h-1zM10 1h1v1h-1zM24 1h1v1h-1zM8 2h1v1h-1zM17 2h1v1h-1zM19 2h1v1h-1zM22 2h1v1h-1zM24 2h1v1h-1zM36 2h1v1h-1zM9 3h1v1h-1zM16 3h1v1h-1zM19 3h1v1h-1zM23 3h1v1h-1zM38 3h1v1h-1zM9 4h1v1h-1zM21 4h1v1h-1zM25 4h1v1h-1zM28 5h1v1h-1zM8 6h2v1h-2zM13 6h1v1h-1zM16 6h1v1h-1zM18 6h1v1h-1zM26 7h1v1h-1zM29 7h1v1h-1zM16 8h1v1h-1zM29 8h1v1h-1zM17 9h1v1h-1zM28 9h1v1h-1zM26 10h1v1h-1zM33 10h1v1h-1zM29 11h1v1h-1zM38 11h1v1h-1zM15 12h1v1h-1zM37 12h1v1h-1zM22 13h1v1h-1zM30 13h1v1h-1zM38 13h1v1h-1zM19 15h1v1h-1zM36 15h2v1h-2zM25 16h1v1h-1zM38 16h1v1h-1zM18 17h1v1h-1zM30 17h1v1h-1zM33 17h1v1h-1zM20 18h1v1h-1zM22 18h1v1h-1zM31 18h1v1h-1zM35 18h1v1h-1zM32 20h2v1h-2zM26 22h1v1h-1zM28 22h1v1h-1zM32 22h1v1h-1zM38 23h1v1h-1zM38 24h1v1h-1zM27 26h1v1h-1zM29 27h1v1h-1zM30 28h1v1h-1zM33 28h1v1h-1zM33 29h1v1h-1zM38 31h1v1h-1zM36 33h2v1h-2z"/><path fill="#9fff60" d="M7 0h1v1h-1zM15 0h1v1h-1zM18 0h1v1h-1zM25 0h1v1h-1zM29 0h1v1h-1zM35 0h1v1h-1zM9 1h1v1h-1zM33 1h1v1h-1zM35 1h1v1h-1zM4 2h1v1h-1zM11 2h1v1h-1zM29 2h1v1h-1zM10 3h1v1h-1zM36 3h1v1h-1zM29 4h1v1h-1zM32 4h1v1h-1zM10 5h1v1h-1zM30 5h1v1h-1zM37 5h1v1h-1zM22 6h1v1h-1zM27 6h1v1h-1zM25 7h1v1h-1zM27 7h1v1h-1zM36 7h1v1h-1zM20 8h1v1h-1zM30 8h2v1h-2zM34 8h1v1h-1zM22 9h1v1h-1zM29 9h1v1h-1zM18 10h1v1h-1zM28 10h1v1h-1zM12 11h1v1h-1zM25 11h1v1h-1zM13 12h2v1h-2zM16 12h2v1h-2zM26 12h1v1h-1zM16 13h1v1h-1zM28 13h1v1h-1zM34 13h1v1h-1zM29 14h1v1h-1zM31 14h1v1h-1zM35 14h1v1h-1zM38 14h1v1h-1zM35 15h1v1h-1zM26 16h1v1h-1zM30 16h1v1h-1zM20 17h1v1h-1zM28 17h1v1h-1zM21 18h1v1h-1zM33 18h1v1h-1zM38 21h1v1h-1zM30 22h1v1h-1zM38 22h1v1h-1zM28 26h1v1h-1zM32 26h1v1h-1zM34 26h1v1h-1zM36 27h1v1h-1zM32 29h1v1h-1zM34 29h2v1h-2zM34 30h1v1h-1z"/><path fill="#bfff40" d="M14 0h1v1h-1zM17 0h1v1h-1zM26 0h1v1h-1zM28 0h1v1h-1zM8 1h1v1h-1zM18 1h1v1h-1zM21 1h1v1h-1zM9 2h1v1h-1zM12 3h1v1h-1zM28 3h1v1h-1zM6 4h2v1h-2zM14 4h1v1h-1zM27 4h1v1h-1zM22 5h1v1h-1zM35 5h1v1h-1zM10 6h1v1h-1zM17 6h1v1h-1zM28 6h1v1h-1zM31 6h1v1h-1zM8 7h2v1h-2zM11 7h2v1h-2zM19 7h2v1h-2zM22 7h1v1h-1zM28 7h1v1h-1zM24 8h1v1h-1zM36 8h1v1h-1zM19 9h1v1h-1zM32 9h1v1h-1zM34 9h1v1h-1zM13 10h1v1h-1zM22 10h1v1h-1zM24 10h1v1h-1zM27 10h1v1h-1zM36 11h1v1h-1zM23 12h1v1h-1zM17 13h1v1h-1zM23 13h1v1h-1zM29 13h1v1h-1zM15 14h1v1h-1zM33 14h1v1h-1zM36 14h1v1h-1zM31 15h1v1h-1zM34 15h1v1h-1zM27 16h1v1h-1zM19 17h1v1h-1zM27 17h1v1h-1zM31 17h1v1h-1zM37 17h1v1h-1zM27 18h1v1h-1zM32 18h1v1h-1zM30 19h2v1h-2zM30 20h1v1h-1zM28 21h1v1h-1zM32 21h1v1h-1zM36 22h1v1h-1zM30 23h1v1h-1zM30 24h1v1h-1zM32 25h2v1h-2zM38 25h1v1h-1zM32 27h1v1h-1zM34 27h1v1h-1zM31 28h2v1h-2zM36 28h1v1h-1zM36 29h2v1h-2z"/><path fill="#dfff20" d="M19 0h1v1h-1zM16 1h1v1h-1zM11 3h1v1h-1zM25 3h1v1h-1zM15 5h1v1h-1zM12 6h1v1h-1zM32 6h1v1h-1zM37 6h1v1h-1zM10 7h1v1h-1zM16 7h1v1h-1zM18 7h1v1h-1zM34 7h1v1h-1zM10 8h1v1h-1zM12 8h1v1h-1zM15 8h1v1h-1zM19 8h1v1h-1zM23 8h1v1h-1zM11 9h2v1h-2zM18 9h1v1h-1zM20 9h1v1h-1zM26 9h2v1h-2zM33 9h1v1h-1zM36 9h1v1h-1zM20 10h1v1h-1zM29 10h1v1h-1zM36 10h1v1h-1zM14 11h1v1h-1zM27 11h1v1h-1zM19 12h1v1h-1zM27 14h1v1h-1zM18 15h1v1h-1zM24 15h1v1h-1zM32 15h1v1h-1zM20 16h1v1h-1zM23 16h1v1h-1zM36 16h2v1h-2zM24 17h1v1h-1zM27 19h1v1h-1zM32 19h1v1h-1zM36 19h1v1h-1zM29 22h1v1h-1zM33 22h1v1h-1zM35 22h1v1h-1zM29 23h1v1h-1zM29 24h1v1h-1zM33 24h1v1h-1zM36 25h1v1h-1zM35 26h1v1h-1zM37 26h1v1h-1zM30 27h1v1h-1zM29 28h1v1h-1zM34 28h1v1h-1zM38 29h1v1h-1zM31 30h1v1h-1zM35 32h1v1h-1zM38 34h1v1h-1zM38 37h1v1h-1z"/><path fill="#ffff00" d="M22 0h1v1h-1zM29 6h1v1h-1zM13 7h1v1h-1zM21 7h1v1h-1zM24 7h1v1h-1zM37 7h2v1h-2zM14 8h1v1h-1zM17 8h1v1h-1zM38 8h1v1h-1zM24 9h2v1h-2zM31 9h1v1h-1zM37 9h1v1h-1zM12 10h1v1h-1zM14 10h1v1h-1zM25 10h1v1h-1zM16 11h1v1h-1zM30 11h3v1h-3zM35 11h1v1h-1zM25 12h1v1h-1zM31 12h1v1h-1zM35 13h2v1h-2zM20 14h1v1h-1zM23 14h1v1h-1zM21 15h1v1h-1zM22 16h1v1h-1zM21 17h1v1h-1zM23 17h1v1h-1zM34 17h2v1h-2zM19 18h1v1h-1zM24 18h1v1h-1zM37 18h1v1h-1zM25 19h2v1h-2zM29 19h1v1h-1zM25 20h1v1h-1zM35 20h1v1h-1zM33 21h1v1h-1zM36 21h1v1h-1zM25 22h1v1h-1zM34 22h1v1h-1zM26 25h1v1h-1zM31 25h1v1h-1zM34 25h2v1h-2zM37 25h1v1h-1zM37 27h2v1h-2zM35 28h1v1h-1zM37 28h1v1h-1zM36 34h1v1h-1zM36 35h1v1h-1zM37 36h1v1h-1z"/><path fill="#ffdf00" d="M15 6h1v1h-1zM19 6h1v1h-1zM21 6h1v1h-1zM25 6h1v1h-1zM34 6h3v1h-3zM23 7h1v1h-1zM35 7h1v1h-1zM9 8h1v1h-1zM25 8h1v1h-1zM27 8h1v1h-1zM35 8h1v1h-1zM10 9h1v1h-1zM14 9h1v1h-1zM16 10h1v1h-1zM21 10h1v1h-1zM23 10h1v1h-1zM34 10h2v1h-2zM24 12h1v1h-1zM32 12h1v1h-1zM17 14h1v1h-1zM28 14h1v1h-1zM20 15h1v1h-1zM22 15h1v1h-1zM34 16h2v1h-2zM25 17h1v1h-1zM28 19h1v1h-1zM35 19h1v1h-1zM38 19h1v1h-1zM28 20h1v1h-1zM36 20h2v1h-2zM29 21h3v1h-3zM34 33h1v1h-1zM37 34h1v1h-1z"/><path fill="#ffbf00" d="M21 8h2v1h-2zM28 8h1v1h-1zM37 8h1v1h-1zM21 9h1v1h-1zM19 10h1v1h-1zM17 11h2v1h-2zM34 11h1v1h-1zM37 11h1v1h-1zM21 12h1v1h-1zM34 12h1v1h-1zM32 14h1v1h-1zM19 16h1v1h-1zM22 17h1v1h-1zM23 21h1v1h-1zM28 23h1v1h-1zM33 23h2v1h-2zM25 24h1v1h-1zM31 24h1v1h-1zM35 24h1v1h-1zM37 24h1v1h-1zM35 27h1v1h-1zM38 28h1v1h-1zM34 31h1v1h-1zM37 32h1v1h-1zM37 35h1v1h-1z"/><path fill="#ff9f00" d="M7 6h1v1h-1zM20 6h1v1h-1zM23 6h2v1h-2zM14 7h1v1h-1zM19 11h1v1h-1zM21 11h2v1h-2zM28 11h1v1h-1zM22 14h1v1h-1zM24 14h1v1h-1zM20 19h1v1h-1zM37 19h1v1h-1zM24 20h1v1h-1zM27 20h1v1h-1zM31 20h1v1h-1zM25 21h1v1h-1zM34 21h1v1h-1zM27 22h1v1h-1zM25 23h1v1h-1zM31 23h1v1h-1zM27 24h1v1h-1zM28 27h1v1h-1zM32 31h1v1h-1zM35 31h1v1h-1zM35 34h1v1h-1z"/><path fill="#ff8000" d="M14 6h1v1h-1zM11 8h1v1h-1zM37 10h1v1h-1zM20 11h1v1h-1zM23 11h2v1h-2zM20 12h1v1h-1zM22 12h1v1h-1zM34 14h1v1h-1zM37 14h1v1h-1zM21 16h1v1h-1zM23 18h1v1h-1zM34 19h1v1h-1zM21 20h3v1h-3zM35 21h1v1h-1zM24 22h1v1h-1zM31 22h1v1h-1zM37 22h1v1h-1zM28 24h1v1h-1zM31 27h1v1h-1z"/><path fill="#ff6000" d="M11 10h1v1h-1zM31 10h1v1h-1zM21 19h4v1h-4zM22 21h1v1h-1zM24 21h1v1h-1zM27 21h1v1h-1zM23 22h1v1h-1zM24 23h1v1h-1zM35 23h1v1h-1zM37 23h1v1h-1z"/><path fill="#ff4000" d="M19 14h1v1h-1zM34 20h1v1h-1zM27 23h1v1h-1zM34 24h1v1h-1zM27 25h1v1h-1z"/><path fill="#ff2000" d="M25 14h1v1h-1zM37 21h1v1h-1zM37 31h1v1h-1z"/><path fill="#df0000" d="M21 14h1v1h-1z"/><path fill="#800000" d="M0 0h1v1h-1zM1 1h1v1h-1zM2 2h1v1h-1zM3 3h1v1h-1zM4 4h1v1h-1zM5 5h1v1h-1zM6 6h1v1h-1zM7 7h1v1h-1zM8 8h1v1h-1zM9 9h1v1h-1zM10 10h1v1h-1zM11 11h1v1h-1zM12 12h1v1h-1zM13 13h1v1h-1zM14 14h1v1h-1zM15 15h1v1h-1zM16 16h1v1h-1zM17 17h1v1h-1zM18 18h1v1h-1zM19 19h1v1h-1zM20 20h1v1h-1zM21 21h1v1h-1zM22 22h1v1h-1zM23 23h1v1h-1zM24 24h1v1h-1zM25 25h1v1h-1zM26 26h1v1h-1zM27 27h1v1h-1zM28 28h1v1h-1zM29 29h1v1h-1zM30 30h1v1h-1zM31 31h1v1h-1zM32 32h1v1h-1zM33 33h1v1h-1zM34 34h1v1h-1zM35 35h1v1h-1zM36 36h1v1h-1zM37 37h1v1h-1zM38 38h1v1h-1z"/></g><use href="#mx2" transform="matrix(0 1 1 0 0 0)"/></g><g transform="translate(771.4 1186.3) scale(5.9897)" shape-rendering="crispEdges"><g id="mx3"><path fill="#00dfff" d="M32 4h1v1h-1zM37 10h1v1h-1z"/><path fill="#00ffff" d="M31 3h1v1h-1zM32 9h1v1h-1zM11 10h1v1h-1z"/><path fill="#20ffdf" d="M10 2h1v1h-1zM9 3h1v1h-1zM32 8h1v1h-1zM10 9h1v1h-1zM13 10h1v1h-1zM26 10h1v1h-1zM28 10h1v1h-1zM23 13h1v1h-1zM31 14h1v1h-1zM31 19h1v1h-1zM27 21h1v1h-1zM27 22h1v1h-1zM27 23h1v1h-1zM31 23h1v1h-1zM36 32h1v1h-1z"/><path fill="#40ffbf" d="M9 0h1v1h-1zM27 4h1v1h-1zM10 7h1v1h-1zM31 7h1v1h-1zM23 9h1v1h-1zM26 9h1v1h-1zM31 9h1v1h-1zM38 9h1v1h-1zM14 10h1v1h-1zM17 10h1v1h-1zM21 10h1v1h-1zM25 10h1v1h-1zM32 10h1v1h-1zM14 13h1v1h-1zM17 13h1v1h-1zM21 13h1v1h-1zM26 13h1v1h-1zM31 16h1v1h-1zM32 17h1v1h-1zM32 18h1v1h-1zM32 23h1v1h-1zM31 27h1v1h-1zM37 27h1v1h-1zM33 31h1v1h-1zM33 32h1v1h-1z"/><path fill="#60ff9f" d="M13 0h1v1h-1zM27 2h1v1h-1zM13 3h1v1h-1zM9 4h1v1h-1zM10 5h1v1h-1zM9 6h1v1h-1zM27 8h1v1h-1zM17 9h1v1h-1zM30 9h1v1h-1zM35 9h1v1h-1zM16 10h1v1h-1zM20 10h1v1h-1zM27 10h1v1h-1zM30 10h2v1h-2zM13 12h1v1h-1zM19 13h1v1h-1zM25 13h1v1h-1zM33 13h1v1h-1zM36 13h1v1h-1zM24 15h1v1h-1zM27 15h1v1h-1zM32 15h1v1h-1zM32 16h1v1h-1zM27 17h1v1h-1zM31 18h1v1h-1zM32 19h1v1h-1zM27 20h1v1h-1zM32 21h1v1h-1zM32 24h1v1h-1zM32 25h1v1h-1zM31 26h1v1h-1zM32 27h1v1h-1zM34 27h2v1h-2zM37 31h1v1h-1zM34 32h1v1h-1zM38 32h1v1h-1z"/><path fill="#80ff80" d="M27 0h1v1h-1zM9 1h1v1h-1zM13 1h1v1h-1zM9 2h1v1h-1zM32 2h1v1h-1zM10 6h1v1h-1zM31 6h1v1h-1zM27 7h1v1h-1zM32 7h1v1h-1zM10 8h1v1h-1zM18 9h4v1h-4zM24 9h1v1h-1zM28 9h1v1h-1zM33 9h1v1h-1zM19 10h1v1h-1zM22 10h1v1h-1zM36 10h1v1h-1zM38 10h1v1h-1zM27 11h1v1h-1zM27 12h1v1h-1zM32 12h1v1h-1zM31 13h1v1h-1zM38 13h1v1h-1zM31 17h1v1h-1zM27 18h1v1h-1zM24 22h1v1h-1zM31 22h1v1h-1zM31 24h1v1h-1zM34 24h1v1h-1zM27 25h1v1h-1zM27 26h1v1h-1zM28 27h1v1h-1zM32 28h1v1h-1zM31 29h1v1h-1zM37 32h1v1h-1z"/><path fill="#9fff60" d="M10 1h1v1h-1zM29 1h1v1h-1zM7 3h1v1h-1zM10 3h1v1h-1zM32 3h1v1h-1zM9 5h1v1h-1zM31 5h1v1h-1zM13 6h1v1h-1zM13 7h1v1h-1zM15 7h1v1h-1zM13 8h1v1h-1zM29 9h1v1h-1zM12 10h1v1h-1zM18 10h1v1h-1zM34 10h1v1h-1zM13 11h1v1h-1zM23 12h2v1h-2zM35 12h1v1h-1zM15 13h2v1h-2zM18 13h1v1h-1zM24 13h1v1h-1zM35 13h1v1h-1zM37 13h1v1h-1zM32 14h1v1h-1zM27 16h1v1h-1zM25 19h1v1h-1zM32 20h1v1h-1zM31 21h1v1h-1zM32 22h1v1h-1zM24 23h1v1h-1zM29 24h1v1h-1zM31 25h1v1h-1zM33 27h1v1h-1zM32 29h2v1h-2zM31 30h1v1h-1zM35 32h1v1h-1z"/><path fill="#bfff40" d="M24 1h1v1h-1zM31 1h2v1h-2zM15 2h1v1h-1zM27 3h1v1h-1zM10 4h1v1h-1zM13 4h1v1h-1zM16 4h1v1h-1zM31 4h1v1h-1zM13 5h1v1h-1zM27 5h1v1h-1zM7 6h1v1h-1zM27 6h1v1h-1zM12 7h1v1h-1zM14 7h1v1h-1zM19 7h2v1h-2zM29 7h1v1h-1zM33 7h1v1h-1zM35 7h1v1h-1zM37 7h1v1h-1zM15 9h1v1h-1zM22 9h1v1h-1zM25 9h1v1h-1zM27 9h1v1h-1zM34 9h1v1h-1zM15 10h1v1h-1zM23 10h1v1h-1zM29 10h1v1h-1zM33 10h1v1h-1zM35 10h1v1h-1zM20 11h1v1h-1zM24 11h1v1h-1zM18 12h1v1h-1zM20 12h2v1h-2zM30 12h1v1h-1zM37 12h1v1h-1zM27 13h1v1h-1zM29 13h1v1h-1zM34 13h1v1h-1zM18 15h1v1h-1zM38 15h1v1h-1zM18 16h1v1h-1zM25 16h1v1h-1zM30 16h1v1h-1zM27 19h1v1h-1zM31 20h1v1h-1zM24 21h1v1h-1zM26 21h1v1h-1zM30 22h1v1h-1zM27 24h1v1h-1zM33 24h1v1h-1zM36 24h1v1h-1zM30 25h1v1h-1zM32 26h1v1h-1zM32 30h1v1h-1zM32 31h1v1h-1zM34 31h3v1h-3z"/><path fill="#dfff20" d="M10 0h1v1h-1zM32 0h1v1h-1zM6 1h1v1h-1zM12 1h1v1h-1zM19 1h1v1h-1zM28 1h1v1h-1zM30 1h1v1h-1zM31 2h1v1h-1zM24 4h1v1h-1zM7 5h1v1h-1zM12 5h1v1h-1zM32 5h1v1h-1zM30 6h1v1h-1zM32 6h1v1h-1zM8 7h1v1h-1zM23 7h1v1h-1zM9 8h1v1h-1zM25 8h1v1h-1zM11 9h3v1h-3zM36 9h1v1h-1zM32 11h1v1h-1zM14 12h2v1h-2zM19 12h1v1h-1zM22 12h1v1h-1zM28 12h2v1h-2zM22 13h1v1h-1zM28 13h1v1h-1zM30 13h1v1h-1zM32 13h1v1h-1zM15 14h1v1h-1zM35 14h1v1h-1zM24 16h1v1h-1zM37 16h1v1h-1zM30 17h1v1h-1zM24 19h1v1h-1zM24 20h1v1h-1zM38 23h1v1h-1zM30 26h1v1h-1zM36 27h1v1h-1zM38 27h1v1h-1zM38 31h1v1h-1zM38 35h1v1h-1z"/><path fill="#ffff00" d="M25 0h1v1h-1zM30 0h1v1h-1zM14 1h1v1h-1zM27 1h1v1h-1zM25 2h1v1h-1zM33 2h1v1h-1zM35 2h1v1h-1zM24 3h1v1h-1zM38 3h1v1h-1zM30 4h1v1h-1zM38 4h1v1h-1zM25 5h1v1h-1zM15 6h1v1h-1zM25 6h1v1h-1zM28 6h1v1h-1zM9 7h1v1h-1zM21 7h1v1h-1zM24 7h3v1h-3zM30 7h1v1h-1zM36 7h1v1h-1zM15 8h1v1h-1zM31 8h1v1h-1zM14 9h1v1h-1zM16 9h1v1h-1zM37 9h1v1h-1zM18 11h1v1h-1zM31 11h1v1h-1zM34 11h1v1h-1zM17 12h1v1h-1zM25 12h1v1h-1zM36 12h1v1h-1zM38 12h1v1h-1zM23 14h2v1h-2zM27 14h1v1h-1zM17 15h1v1h-1zM25 15h2v1h-2zM28 15h1v1h-1zM36 15h2v1h-2zM20 16h1v1h-1zM29 16h1v1h-1zM36 16h1v1h-1zM38 18h1v1h-1zM26 24h1v1h-1zM26 25h1v1h-1zM28 25h2v1h-2zM35 25h1v1h-1zM29 27h2v1h-2zM33 30h1v1h-1zM38 36h1v1h-1z"/><path fill="#ffdf00" d="M2 0h1v1h-1zM7 0h1v1h-1zM35 0h1v1h-1zM37 0h1v1h-1zM4 1h1v1h-1zM11 1h1v1h-1zM25 1h1v1h-1zM37 1h1v1h-1zM12 2h1v1h-1zM16 2h1v1h-1zM29 2h1v1h-1zM37 2h1v1h-1zM25 3h1v1h-1zM33 3h1v1h-1zM15 4h1v1h-1zM19 4h1v1h-1zM16 5h1v1h-1zM24 5h1v1h-1zM12 6h1v1h-1zM21 6h1v1h-1zM24 6h1v1h-1zM29 6h1v1h-1zM17 7h1v1h-1zM22 7h1v1h-1zM16 8h1v1h-1zM24 8h1v1h-1zM26 8h1v1h-1zM38 8h1v1h-1zM24 10h1v1h-1zM26 11h1v1h-1zM30 11h1v1h-1zM36 11h1v1h-1zM19 14h1v1h-1zM29 14h1v1h-1zM16 15h1v1h-1zM19 15h1v1h-1zM22 15h1v1h-1zM31 15h1v1h-1zM33 15h2v1h-2zM34 16h1v1h-1zM24 17h1v1h-1zM25 18h1v1h-1zM30 18h1v1h-1zM28 19h1v1h-1zM37 20h2v1h-2zM28 24h1v1h-1zM38 24h1v1h-1zM36 25h1v1h-1zM38 25h1v1h-1zM29 26h1v1h-1zM34 26h1v1h-1zM31 28h1v1h-1zM36 28h1v1h-1zM36 29h1v1h-1zM35 30h1v1h-1z"/><path fill="#ffbf00" d="M8 0h1v1h-1zM12 0h1v1h-1zM15 0h1v1h-1zM17 0h1v1h-1zM38 0h1v1h-1zM5 1h1v1h-1zM7 1h1v1h-1zM15 1h1v1h-1zM20 1h1v1h-1zM26 1h1v1h-1zM35 1h1v1h-1zM38 1h1v1h-1zM6 2h3v1h-3zM11 2h1v1h-1zM13 2h1v1h-1zM18 2h1v1h-1zM22 2h3v1h-3zM28 2h1v1h-1zM30 2h1v1h-1zM4 3h1v1h-1zM15 3h2v1h-2zM26 3h1v1h-1zM28 3h1v1h-1zM11 4h2v1h-2zM14 4h1v1h-1zM28 4h1v1h-1zM17 5h1v1h-1zM29 5h1v1h-1zM22 6h1v1h-1zM11 7h1v1h-1zM16 7h1v1h-1zM18 7h1v1h-1zM34 7h1v1h-1zM12 8h1v1h-1zM17 8h1v1h-1zM19 8h1v1h-1zM28 8h1v1h-1zM36 8h1v1h-1zM12 11h1v1h-1zM15 11h1v1h-1zM25 11h1v1h-1zM33 11h1v1h-1zM38 11h1v1h-1zM26 12h1v1h-1zM31 12h1v1h-1zM34 12h1v1h-1zM20 13h1v1h-1zM17 14h2v1h-2zM38 14h1v1h-1zM21 15h1v1h-1zM17 16h1v1h-1zM19 16h1v1h-1zM28 16h1v1h-1zM38 16h1v1h-1zM20 17h1v1h-1zM22 17h1v1h-1zM37 17h2v1h-2zM22 18h1v1h-1zM26 19h1v1h-1zM35 20h1v1h-1zM22 21h1v1h-1zM25 21h1v1h-1zM38 21h1v1h-1zM25 24h1v1h-1zM35 24h1v1h-1zM37 24h1v1h-1zM30 28h1v1h-1zM35 28h1v1h-1zM38 28h1v1h-1zM36 30h1v1h-1zM38 30h1v1h-1zM35 33h1v1h-1zM38 33h1v1h-1z"/><path fill="#ff9f00" d="M1 0h1v1h-1zM6 0h1v1h-1zM14 0h1v1h-1zM16 0h1v1h-1zM23 0h2v1h-2zM28 0h2v1h-2zM33 0h2v1h-2zM3 1h1v1h-1zM21 1h2v1h-2zM34 1h1v1h-1zM3 2h1v1h-1zM5 2h1v1h-1zM26 2h1v1h-1zM34 2h1v1h-1zM38 2h1v1h-1zM22 3h1v1h-1zM29 3h1v1h-1zM5 4h2v1h-2zM8 4h1v1h-1zM17 4h1v1h-1zM23 4h1v1h-1zM8 5h1v1h-1zM15 5h1v1h-1zM18 5h1v1h-1zM26 5h1v1h-1zM11 6h1v1h-1zM16 6h1v1h-1zM38 6h1v1h-1zM28 7h1v1h-1zM38 7h1v1h-1zM22 8h1v1h-1zM30 8h1v1h-1zM34 8h1v1h-1zM14 11h1v1h-1zM16 11h2v1h-2zM22 11h1v1h-1zM35 11h1v1h-1zM33 12h1v1h-1zM25 14h1v1h-1zM28 14h1v1h-1zM30 14h1v1h-1zM36 14h1v1h-1zM20 15h1v1h-1zM23 15h1v1h-1zM29 15h1v1h-1zM35 15h1v1h-1zM21 16h2v1h-2zM35 16h1v1h-1zM25 17h1v1h-1zM29 17h1v1h-1zM34 17h1v1h-1zM24 18h1v1h-1zM33 18h2v1h-2zM23 19h1v1h-1zM38 19h1v1h-1zM25 20h1v1h-1zM30 21h1v1h-1zM23 22h1v1h-1zM33 22h1v1h-1zM28 23h1v1h-1zM33 25h2v1h-2zM37 26h1v1h-1zM37 28h1v1h-1zM30 29h1v1h-1zM34 30h1v1h-1zM34 33h1v1h-1zM37 34h2v1h-2z"/><path fill="#ff8000" d="M18 0h1v1h-1zM22 0h1v1h-1zM31 0h1v1h-1zM36 0h1v1h-1zM8 1h1v1h-1zM18 1h1v1h-1zM23 1h1v1h-1zM33 1h1v1h-1zM36 1h1v1h-1zM14 2h1v1h-1zM17 2h1v1h-1zM19 2h1v1h-1zM21 2h1v1h-1zM36 2h1v1h-1zM6 3h1v1h-1zM11 3h1v1h-1zM14 3h1v1h-1zM20 3h1v1h-1zM22 4h1v1h-1zM25 4h2v1h-2zM29 4h1v1h-1zM34 4h2v1h-2zM11 5h1v1h-1zM20 5h1v1h-1zM33 5h1v1h-1zM36 5h1v1h-1zM8 6h1v1h-1zM23 6h1v1h-1zM33 6h3v1h-3zM11 8h1v1h-1zM14 8h1v1h-1zM18 8h1v1h-1zM20 8h1v1h-1zM35 8h1v1h-1zM21 11h1v1h-1zM37 11h1v1h-1zM16 12h1v1h-1zM22 14h1v1h-1zM26 14h1v1h-1zM33 14h2v1h-2zM30 15h1v1h-1zM26 17h1v1h-1zM28 18h1v1h-1zM22 19h1v1h-1zM30 19h1v1h-1zM30 20h1v1h-1zM23 21h1v1h-1zM29 21h1v1h-1zM26 23h1v1h-1zM35 23h1v1h-1zM30 24h1v1h-1zM28 26h1v1h-1zM33 26h1v1h-1zM38 26h1v1h-1zM33 28h1v1h-1zM38 29h1v1h-1zM36 34h1v1h-1z"/><path fill="#ff6000" d="M5 0h1v1h-1zM11 0h1v1h-1zM20 0h1v1h-1zM26 0h1v1h-1zM2 1h1v1h-1zM17 1h1v1h-1zM4 2h1v1h-1zM5 3h1v1h-1zM8 3h1v1h-1zM12 3h1v1h-1zM17 3h2v1h-2zM7 4h1v1h-1zM33 4h1v1h-1zM14 5h1v1h-1zM19 5h1v1h-1zM28 5h1v1h-1zM30 5h1v1h-1zM35 5h1v1h-1zM26 6h1v1h-1zM36 6h1v1h-1zM21 8h1v1h-1zM33 8h1v1h-1zM37 8h1v1h-1zM23 11h1v1h-1zM28 11h1v1h-1zM16 14h1v1h-1zM20 14h2v1h-2zM23 16h1v1h-1zM26 16h1v1h-1zM33 16h1v1h-1zM18 17h1v1h-1zM21 17h1v1h-1zM21 18h1v1h-1zM23 18h1v1h-1zM26 18h1v1h-1zM35 18h3v1h-3zM33 19h1v1h-1zM37 19h1v1h-1zM21 20h2v1h-2zM34 20h1v1h-1zM33 21h1v1h-1zM25 22h1v1h-1zM28 22h2v1h-2zM36 22h1v1h-1zM38 22h1v1h-1zM25 23h1v1h-1zM30 23h1v1h-1zM33 23h1v1h-1zM36 23h1v1h-1zM35 26h1v1h-1zM37 29h1v1h-1zM36 35h2v1h-2z"/><path fill="#ff4000" d="M3 0h1v1h-1zM19 0h1v1h-1zM16 1h1v1h-1zM20 2h1v1h-1zM21 3h1v1h-1zM30 3h1v1h-1zM34 3h3v1h-3zM18 4h1v1h-1zM6 5h1v1h-1zM21 5h2v1h-2zM14 6h1v1h-1zM37 6h1v1h-1zM23 8h1v1h-1zM29 8h1v1h-1zM19 11h1v1h-1zM37 14h1v1h-1zM19 17h1v1h-1zM28 17h1v1h-1zM35 17h2v1h-2zM29 19h1v1h-1zM34 19h2v1h-2zM29 20h1v1h-1zM33 20h1v1h-1zM28 21h1v1h-1zM34 21h2v1h-2zM34 22h2v1h-2zM34 23h1v1h-1zM37 25h1v1h-1zM36 26h1v1h-1zM34 29h2v1h-2zM35 34h1v1h-1zM37 36h1v1h-1z"/><path fill="#ff2000" d="M4 0h1v1h-1zM19 3h1v1h-1zM20 4h1v1h-1zM36 4h1v1h-1zM34 5h1v1h-1zM38 5h1v1h-1zM19 6h1v1h-1zM29 11h1v1h-1zM33 17h1v1h-1zM29 18h1v1h-1zM21 19h1v1h-1zM23 20h1v1h-1zM26 20h1v1h-1zM28 20h1v1h-1zM36 20h1v1h-1zM37 21h1v1h-1zM26 22h1v1h-1zM37 22h1v1h-1zM37 30h1v1h-1zM36 33h1v1h-1z"/><path fill="#ff0000" d="M21 0h1v1h-1zM37 3h1v1h-1zM37 4h1v1h-1zM17 6h2v1h-2zM23 17h1v1h-1zM19 18h1v1h-1zM20 19h1v1h-1zM36 19h1v1h-1zM36 21h1v1h-1zM29 28h1v1h-1zM34 28h1v1h-1zM37 33h1v1h-1zM38 37h1v1h-1z"/><path fill="#df0000" d="M23 3h1v1h-1zM21 4h1v1h-1zM23 5h1v1h-1zM37 5h1v1h-1zM20 6h1v1h-1zM20 18h1v1h-1zM29 23h1v1h-1zM37 23h1v1h-1z"/><path fill="#800000" d="M0 0h1v1h-1zM1 1h1v1h-1zM2 2h1v1h-1zM3 3h1v1h-1zM4 4h1v1h-1zM5 5h1v1h-1zM6 6h1v1h-1zM7 7h1v1h-1zM8 8h1v1h-1zM9 9h1v1h-1zM10 10h1v1h-1zM11 11h1v1h-1zM12 12h1v1h-1zM13 13h1v1h-1zM14 14h1v1h-1zM15 15h1v1h-1zM16 16h1v1h-1zM17 17h1v1h-1zM18 18h1v1h-1zM19 19h1v1h-1zM20 20h1v1h-1zM21 21h1v1h-1zM22 22h1v1h-1zM23 23h1v1h-1zM24 24h1v1h-1zM25 25h1v1h-1zM26 26h1v1h-1zM27 27h1v1h-1zM28 28h1v1h-1zM29 29h1v1h-1zM30 30h1v1h-1zM31 31h1v1h-1zM32 32h1v1h-1zM33 33h1v1h-1zM34 34h1v1h-1zM35 35h1v1h-1zM36 36h1v1h-1zM37 37h1v1h-1zM38 38h1v1h-1z"/></g><use href="#mx3" transform="matrix(0 1 1 0 0 0)"/></g><text x="179.2" y="1164.6" font-size="26.5" text-anchor="middle" fill="#111" >Pre</text><text x="418.9" y="1164.6" font-size="26.5" text-anchor="middle" fill="#111" >SNI 3h</text><text x="657.5" y="1164.6" font-size="26.5" text-anchor="middle" fill="#111" >SNI 1d</text><text x="897.2" y="1164.6" font-size="26.5" text-anchor="middle" fill="#111" >SNI 3d</text><rect x="867.5" y="1443.4" width="133.7" height="18.6" fill="url(#cbh)"/><text x="866" y="1487" font-size="24" text-anchor="middle" fill="#111" >-0.5</text><text x="937.5" y="1487" font-size="24" text-anchor="middle" fill="#111" >0</text><text x="997" y="1487" font-size="24" text-anchor="middle" fill="#111" >1</text><path d="M1205.2 1184.8h10.6l-5.3 9.3zM1209.3 1186.3h10.6l-5.3 9.3zM1214.6 1185.3h10.6l-5.3 9.3zM1221.7 1185.7h10.6l-5.3 9.3zM1226.2 1185.8h10.6l-5.3 9.3zM1204.3 1191.6h10.6l-5.3 9.3zM1208.6 1191.9h10.6l-5.3 9.3zM1214.8 1191.5h10.6l-5.3 9.3zM1221.6 1191.5h10.6l-5.3 9.3zM1226.3 1190h10.6l-5.3 9.3zM1203.1 1196.5h10.6l-5.3 9.3zM1210.2 1194.8h10.6l-5.3 9.3zM1214.9 1194.4h10.6l-5.3 9.3zM1220.7 1195.9h10.6l-5.3 9.3zM1227.1 1196.3h10.6l-5.3 9.3zM1203 1201.9h10.6l-5.3 9.3zM1211.5 1201.6h10.6l-5.3 9.3zM1216.5 1201.9h10.6l-5.3 9.3zM1220.3 1200.7h10.6l-5.3 9.3zM1226 1201.7h10.6l-5.3 9.3zM1204.4 1204.8h10.6l-5.3 9.3zM1209.9 1206.9h10.6l-5.3 9.3zM1216 1204.9h10.6l-5.3 9.3zM1222.9 1204.7h10.6l-5.3 9.3zM1228.3 1207.5h10.6l-5.3 9.3zM1205.1 1212.5h10.6l-5.3 9.3zM1210.1 1210.4h10.6l-5.3 9.3zM1215.7 1211.9h10.6l-5.3 9.3zM1222.4 1210.8h10.6l-5.3 9.3zM1228.6 1209.8h10.6l-5.3 9.3zM1204.3 1215h10.6l-5.3 9.3zM1209.6 1217.8h10.6l-5.3 9.3zM1214.7 1217.8h10.6l-5.3 9.3zM1222.8 1216.9h10.6l-5.3 9.3zM1226 1216.3h10.6l-5.3 9.3zM1204.9 1220.3h10.6l-5.3 9.3zM1209.4 1220.3h10.6l-5.3 9.3zM1216.8 1222.8h10.6l-5.3 9.3zM1222.8 1222.3h10.6l-5.3 9.3zM1227.5 1220.2h10.6l-5.3 9.3zM1204.2 1227.5h10.6l-5.3 9.3zM1210.8 1225.3h10.6l-5.3 9.3zM1214.3 1225.5h10.6l-5.3 9.3zM1222.8 1225.5h10.6l-5.3 9.3zM1227 1226.6h10.6l-5.3 9.3zM1205.5 1230.8h10.6l-5.3 9.3zM1209.3 1232.7h10.6l-5.3 9.3zM1214.6 1230.9h10.6l-5.3 9.3zM1220.1 1233.2h10.6l-5.3 9.3zM1226.5 1231.9h10.6l-5.3 9.3zM1203.9 1238.5h10.6l-5.3 9.3zM1210.7 1237.3h10.6l-5.3 9.3zM1215.8 1236.3h10.6l-5.3 9.3zM1222.6 1235.8h10.6l-5.3 9.3zM1227.7 1236.4h10.6l-5.3 9.3zM1203.6 1242.1h10.6l-5.3 9.3zM1209.1 1242.5h10.6l-5.3 9.3zM1214.5 1240.7h10.6l-5.3 9.3zM1220.5 1241h10.6l-5.3 9.3zM1228.4 1242.2h10.6l-5.3 9.3zM1204.8 1248.2h10.6l-5.3 9.3zM1209 1248.7h10.6l-5.3 9.3zM1215.5 1247.2h10.6l-5.3 9.3zM1221.5 1247.9h10.6l-5.3 9.3zM1228.1 1246.4h10.6l-5.3 9.3zM1205.3 1252.3h10.6l-5.3 9.3zM1209.3 1253.6h10.6l-5.3 9.3zM1216.9 1253.6h10.6l-5.3 9.3zM1221 1253.8h10.6l-5.3 9.3zM1228.1 1253.9h10.6l-5.3 9.3zM1205.1 1259.2h10.6l-5.3 9.3zM1210 1258.4h10.6l-5.3 9.3zM1216.6 1257.8h10.6l-5.3 9.3zM1221.6 1257.4h10.6l-5.3 9.3zM1228.4 1257.3h10.6l-5.3 9.3zM1205 1263h10.6l-5.3 9.3zM1210.7 1262.3h10.6l-5.3 9.3zM1214.5 1263.4h10.6l-5.3 9.3zM1220.5 1262.4h10.6l-5.3 9.3zM1228.1 1261.5h10.6l-5.3 9.3zM1205.5 1268.3h10.6l-5.3 9.3zM1210.2 1268.6h10.6l-5.3 9.3zM1214.5 1266.6h10.6l-5.3 9.3zM1222.2 1268.3h10.6l-5.3 9.3zM1227.7 1269h10.6l-5.3 9.3zM1203.6 1272.2h10.6l-5.3 9.3zM1211.5 1271.9h10.6l-5.3 9.3zM1215.8 1273.6h10.6l-5.3 9.3zM1222.9 1271.9h10.6l-5.3 9.3zM1227.9 1271.9h10.6l-5.3 9.3zM1204.2 1278.7h10.6l-5.3 9.3zM1211.1 1277h10.6l-5.3 9.3zM1216.5 1277.3h10.6l-5.3 9.3zM1221.3 1279.8h10.6l-5.3 9.3zM1228.4 1277.1h10.6l-5.3 9.3zM1202.8 1282.1h10.6l-5.3 9.3zM1210.9 1282.1h10.6l-5.3 9.3zM1216.7 1284.4h10.6l-5.3 9.3zM1222.5 1284.8h10.6l-5.3 9.3zM1227.7 1284.5h10.6l-5.3 9.3zM1204.4 1289.2h10.6l-5.3 9.3zM1208.8 1288.8h10.6l-5.3 9.3zM1217.3 1288.3h10.6l-5.3 9.3zM1222.2 1287.7h10.6l-5.3 9.3zM1227.2 1288.8h10.6l-5.3 9.3zM1205.1 1293.3h10.6l-5.3 9.3zM1210 1292.9h10.6l-5.3 9.3zM1216 1295.2h10.6l-5.3 9.3zM1221.2 1294.3h10.6l-5.3 9.3zM1227.5 1292.9h10.6l-5.3 9.3zM1204.9 1298.2h10.6l-5.3 9.3zM1210.4 1300.5h10.6l-5.3 9.3zM1215.2 1299.5h10.6l-5.3 9.3zM1221.1 1299.4h10.6l-5.3 9.3zM1226.4 1299h10.6l-5.3 9.3zM1205.2 1303.3h10.6l-5.3 9.3zM1209.6 1303.4h10.6l-5.3 9.3zM1214.8 1304.7h10.6l-5.3 9.3zM1222.5 1304.3h10.6l-5.3 9.3zM1227.1 1303.6h10.6l-5.3 9.3zM1203.5 1310.7h10.6l-5.3 9.3zM1210 1309.9h10.6l-5.3 9.3zM1215.1 1308.4h10.6l-5.3 9.3zM1220.1 1308.7h10.6l-5.3 9.3zM1227.1 1309.4h10.6l-5.3 9.3zM1204.7 1315.1h10.6l-5.3 9.3zM1211.2 1315.4h10.6l-5.3 9.3zM1216.4 1315.4h10.6l-5.3 9.3zM1221.7 1314.4h10.6l-5.3 9.3zM1228.5 1315.7h10.6l-5.3 9.3zM1204 1320.8h10.6l-5.3 9.3zM1209.8 1320.4h10.6l-5.3 9.3zM1214.4 1320h10.6l-5.3 9.3zM1222.9 1319.5h10.6l-5.3 9.3zM1228.4 1320.2h10.6l-5.3 9.3zM1202.9 1323.6h10.6l-5.3 9.3zM1209.5 1326.3h10.6l-5.3 9.3zM1216.3 1325.1h10.6l-5.3 9.3zM1222.6 1324.4h10.6l-5.3 9.3zM1226.2 1324.7h10.6l-5.3 9.3zM1205.5 1329h10.6l-5.3 9.3zM1210 1329.4h10.6l-5.3 9.3zM1215.4 1328.8h10.6l-5.3 9.3zM1222.8 1329.3h10.6l-5.3 9.3zM1228.2 1329h10.6l-5.3 9.3zM1204.1 1333.8h10.6l-5.3 9.3zM1210.3 1335.2h10.6l-5.3 9.3zM1215.6 1334.3h10.6l-5.3 9.3zM1222 1333.8h10.6l-5.3 9.3zM1228.6 1335.1h10.6l-5.3 9.3zM1204.6 1340.1h10.6l-5.3 9.3zM1208.6 1338.9h10.6l-5.3 9.3zM1216.5 1340.3h10.6l-5.3 9.3zM1220.9 1340.5h10.6l-5.3 9.3zM1228.4 1340.4h10.6l-5.3 9.3zM1204.4 1345.8h10.6l-5.3 9.3zM1211.2 1344.1h10.6l-5.3 9.3zM1216.3 1345.7h10.6l-5.3 9.3zM1222.2 1344.5h10.6l-5.3 9.3zM1228.3 1346.4h10.6l-5.3 9.3zM1203.6 1352h10.6l-5.3 9.3zM1208.7 1350.8h10.6l-5.3 9.3zM1214.6 1349.7h10.6l-5.3 9.3zM1222 1351.3h10.6l-5.3 9.3zM1227.2 1349.9h10.6l-5.3 9.3zM1204.4 1355.7h10.6l-5.3 9.3zM1209.7 1355.6h10.6l-5.3 9.3zM1215.7 1355.5h10.6l-5.3 9.3zM1220.4 1355.8h10.6l-5.3 9.3zM1226.7 1356.7h10.6l-5.3 9.3zM1206.3 1361.7h10.6l-5.3 9.3zM1211.7 1360.9h10.6l-5.3 9.3zM1220.2 1360.2h10.6l-5.3 9.3zM1227.6 1359.6h10.6l-5.3 9.3zM1207.2 1366.3h10.6l-5.3 9.3zM1213.3 1366.5h10.6l-5.3 9.3zM1220.2 1365.9h10.6l-5.3 9.3zM1224.6 1365.3h10.6l-5.3 9.3zM1207.4 1372.8h10.6l-5.3 9.3zM1212 1371.3h10.6l-5.3 9.3zM1219.7 1370.8h10.6l-5.3 9.3zM1224.1 1372.1h10.6l-5.3 9.3zM1206.5 1376h10.6l-5.3 9.3zM1213.4 1376.5h10.6l-5.3 9.3zM1219.9 1376.5h10.6l-5.3 9.3zM1223.7 1375.6h10.6l-5.3 9.3zM1209.4 1380.3h10.6l-5.3 9.3zM1214.3 1381.3h10.6l-5.3 9.3zM1224 1380.9h10.6l-5.3 9.3zM1209.5 1385.6h10.6l-5.3 9.3zM1215.1 1388.2h10.6l-5.3 9.3zM1223.1 1385.6h10.6l-5.3 9.3zM1212.2 1391.9h10.6l-5.3 9.3zM1214.7 1391.6h10.6l-5.3 9.3zM1222.2 1391.1h10.6l-5.3 9.3zM1205 1401.3h10.6l-5.3 9.3zM1226.2 1401.3h10.6l-5.3 9.3zM1212.1 1415.4h10.6l-5.3 9.3zM1220.1 1415.4h10.6l-5.3 9.3z" fill="none" stroke="#6d6e71" stroke-width="2.6" stroke-linejoin="miter"/><path d="M1271.6 1199.6h10.6l-5.3 9.3zM1268.9 1204.2h10.6l-5.3 9.3zM1275.2 1202.3h10.6l-5.3 9.3zM1266.2 1210h10.6l-5.3 9.3zM1270.9 1207.2h10.6l-5.3 9.3zM1275.4 1208.4h10.6l-5.3 9.3zM1263.2 1214.5h10.6l-5.3 9.3zM1269.8 1212.3h10.6l-5.3 9.3zM1278.6 1215.2h10.6l-5.3 9.3zM1262.1 1219.5h10.6l-5.3 9.3zM1268.5 1219.5h10.6l-5.3 9.3zM1274.6 1217.5h10.6l-5.3 9.3zM1280.1 1218.8h10.6l-5.3 9.3zM1260.7 1225h10.6l-5.3 9.3zM1266.4 1225.4h10.6l-5.3 9.3zM1275 1225.1h10.6l-5.3 9.3zM1281.8 1223.3h10.6l-5.3 9.3zM1260.3 1230.5h10.6l-5.3 9.3zM1267.3 1229.8h10.6l-5.3 9.3zM1273.2 1229.8h10.6l-5.3 9.3zM1280.2 1229.3h10.6l-5.3 9.3zM1257.9 1233.9h10.6l-5.3 9.3zM1263.9 1233.8h10.6l-5.3 9.3zM1269.7 1235h10.6l-5.3 9.3zM1276.6 1235.3h10.6l-5.3 9.3zM1283.2 1235.1h10.6l-5.3 9.3zM1259.6 1239.7h10.6l-5.3 9.3zM1265.9 1239.4h10.6l-5.3 9.3zM1270.4 1239.3h10.6l-5.3 9.3zM1275.1 1238.7h10.6l-5.3 9.3zM1282.7 1239.3h10.6l-5.3 9.3zM1259.1 1243.6h10.6l-5.3 9.3zM1264 1245.9h10.6l-5.3 9.3zM1271.7 1244.3h10.6l-5.3 9.3zM1277.8 1245h10.6l-5.3 9.3zM1283 1243.7h10.6l-5.3 9.3zM1260.7 1249.8h10.6l-5.3 9.3zM1264 1248.6h10.6l-5.3 9.3zM1269.5 1248.4h10.6l-5.3 9.3zM1277.4 1250.8h10.6l-5.3 9.3zM1281.6 1249.3h10.6l-5.3 9.3zM1260.5 1254.3h10.6l-5.3 9.3zM1266.3 1256.1h10.6l-5.3 9.3zM1270.5 1255h10.6l-5.3 9.3zM1276.3 1254.7h10.6l-5.3 9.3zM1282.9 1255.6h10.6l-5.3 9.3zM1260.8 1259.1h10.6l-5.3 9.3zM1264.5 1260.4h10.6l-5.3 9.3zM1271.7 1261.7h10.6l-5.3 9.3zM1277.5 1259.1h10.6l-5.3 9.3zM1283.1 1259.4h10.6l-5.3 9.3zM1259.1 1264.2h10.6l-5.3 9.3zM1263.6 1265.2h10.6l-5.3 9.3zM1271.9 1264.8h10.6l-5.3 9.3zM1275.1 1266h10.6l-5.3 9.3zM1281.6 1264.2h10.6l-5.3 9.3zM1258.4 1271.8h10.6l-5.3 9.3zM1266.3 1270.6h10.6l-5.3 9.3zM1270.7 1271.2h10.6l-5.3 9.3zM1276.1 1270.3h10.6l-5.3 9.3zM1283.1 1271.1h10.6l-5.3 9.3zM1260.5 1276h10.6l-5.3 9.3zM1266 1276.8h10.6l-5.3 9.3zM1270 1276.2h10.6l-5.3 9.3zM1276.7 1274.8h10.6l-5.3 9.3zM1281.5 1275.4h10.6l-5.3 9.3zM1260.6 1279.5h10.6l-5.3 9.3zM1266.4 1282.3h10.6l-5.3 9.3zM1270.5 1281.3h10.6l-5.3 9.3zM1276 1279.6h10.6l-5.3 9.3zM1280.9 1281.6h10.6l-5.3 9.3zM1258.5 1286.1h10.6l-5.3 9.3zM1264.4 1284.6h10.6l-5.3 9.3zM1270.5 1286h10.6l-5.3 9.3zM1277.9 1286.1h10.6l-5.3 9.3zM1283.7 1285.8h10.6l-5.3 9.3zM1260.3 1291.3h10.6l-5.3 9.3zM1263.6 1292.5h10.6l-5.3 9.3zM1271.4 1291.5h10.6l-5.3 9.3zM1276.4 1289.8h10.6l-5.3 9.3zM1283.4 1289.9h10.6l-5.3 9.3zM1258.1 1297.3h10.6l-5.3 9.3zM1264.4 1295.9h10.6l-5.3 9.3zM1270.1 1296.3h10.6l-5.3 9.3zM1277.4 1295.9h10.6l-5.3 9.3zM1281.2 1296.6h10.6l-5.3 9.3zM1258.9 1302.8h10.6l-5.3 9.3zM1263.7 1301.4h10.6l-5.3 9.3zM1270.6 1302.5h10.6l-5.3 9.3zM1275.6 1302.5h10.6l-5.3 9.3zM1282.5 1302.6h10.6l-5.3 9.3zM1260.2 1306.8h10.6l-5.3 9.3zM1265.7 1305.7h10.6l-5.3 9.3zM1271.6 1305.9h10.6l-5.3 9.3zM1276.7 1305.8h10.6l-5.3 9.3zM1283.6 1306.5h10.6l-5.3 9.3zM1259.8 1312h10.6l-5.3 9.3zM1265.6 1311h10.6l-5.3 9.3zM1271.6 1311.6h10.6l-5.3 9.3zM1277 1313.2h10.6l-5.3 9.3zM1282.8 1312.7h10.6l-5.3 9.3zM1259.3 1317h10.6l-5.3 9.3zM1266.3 1317h10.6l-5.3 9.3zM1269.4 1316.5h10.6l-5.3 9.3zM1276.5 1315.6h10.6l-5.3 9.3zM1281.1 1317.3h10.6l-5.3 9.3zM1258.3 1323.6h10.6l-5.3 9.3zM1263.9 1321.7h10.6l-5.3 9.3zM1269.6 1321.9h10.6l-5.3 9.3zM1275.1 1322.6h10.6l-5.3 9.3zM1281.2 1321.1h10.6l-5.3 9.3zM1258.9 1326.3h10.6l-5.3 9.3zM1264.3 1328.8h10.6l-5.3 9.3zM1270.3 1328h10.6l-5.3 9.3zM1277 1327.9h10.6l-5.3 9.3zM1282.2 1327.3h10.6l-5.3 9.3zM1259.7 1331.5h10.6l-5.3 9.3zM1263.7 1331.4h10.6l-5.3 9.3zM1269.4 1332.5h10.6l-5.3 9.3zM1275.3 1332.5h10.6l-5.3 9.3zM1282.5 1331.8h10.6l-5.3 9.3zM1259.8 1337.8h10.6l-5.3 9.3zM1264.5 1337.8h10.6l-5.3 9.3zM1269.4 1337.9h10.6l-5.3 9.3zM1275.6 1339.1h10.6l-5.3 9.3zM1282.5 1337.8h10.6l-5.3 9.3zM1258.4 1341.7h10.6l-5.3 9.3zM1264 1342.5h10.6l-5.3 9.3zM1269.8 1344.1h10.6l-5.3 9.3zM1275.9 1342.7h10.6l-5.3 9.3zM1281.9 1342.5h10.6l-5.3 9.3zM1259 1348.6h10.6l-5.3 9.3zM1268.2 1348.3h10.6l-5.3 9.3zM1273.6 1348.9h10.6l-5.3 9.3zM1280.3 1348.7h10.6l-5.3 9.3zM1260.7 1352.3h10.6l-5.3 9.3zM1268.9 1352h10.6l-5.3 9.3zM1273.6 1353.7h10.6l-5.3 9.3zM1279.4 1354h10.6l-5.3 9.3zM1260.3 1357.5h10.6l-5.3 9.3zM1268.9 1357.1h10.6l-5.3 9.3zM1274.9 1357.4h10.6l-5.3 9.3zM1279.4 1357.8h10.6l-5.3 9.3zM1263.2 1364h10.6l-5.3 9.3zM1269.8 1362.9h10.6l-5.3 9.3zM1278.8 1364.8h10.6l-5.3 9.3zM1263.6 1369.2h10.6l-5.3 9.3zM1271.7 1369.3h10.6l-5.3 9.3zM1279 1368.4h10.6l-5.3 9.3zM1265.3 1372.7h10.6l-5.3 9.3zM1269.9 1372.6h10.6l-5.3 9.3zM1278 1372.9h10.6l-5.3 9.3zM1265.7 1378.6h10.6l-5.3 9.3zM1270.1 1378h10.6l-5.3 9.3zM1275.6 1379.1h10.6l-5.3 9.3zM1267.1 1384.8h10.6l-5.3 9.3zM1275.7 1384.4h10.6l-5.3 9.3zM1268.3 1388.5h10.6l-5.3 9.3zM1273 1388.8h10.6l-5.3 9.3zM1271.4 1393.5h10.6l-5.3 9.3z" fill="none" stroke="#fb9bc8" stroke-width="2.6" stroke-linejoin="miter"/><path d="M1316.1 1203.9h10.6l-5.3 9.3zM1324 1203.8h10.6l-5.3 9.3zM1329.8 1204.2h10.6l-5.3 9.3zM1336.5 1203.3h10.6l-5.3 9.3zM1316.7 1209.3h10.6l-5.3 9.3zM1322.4 1210.2h10.6l-5.3 9.3zM1330.9 1210.1h10.6l-5.3 9.3zM1336.6 1208.7h10.6l-5.3 9.3zM1314.5 1214.1h10.6l-5.3 9.3zM1323.7 1213.6h10.6l-5.3 9.3zM1330.7 1214.6h10.6l-5.3 9.3zM1337.7 1215h10.6l-5.3 9.3zM1316.4 1219.9h10.6l-5.3 9.3zM1321.5 1219.8h10.6l-5.3 9.3zM1330.1 1219.2h10.6l-5.3 9.3zM1337.6 1221.3h10.6l-5.3 9.3zM1313.7 1226.8h10.6l-5.3 9.3zM1322 1225.6h10.6l-5.3 9.3zM1331.1 1225.8h10.6l-5.3 9.3zM1338.5 1226.1h10.6l-5.3 9.3zM1316.4 1231.4h10.6l-5.3 9.3zM1322.6 1229.8h10.6l-5.3 9.3zM1330.3 1231.6h10.6l-5.3 9.3zM1335.9 1231.5h10.6l-5.3 9.3zM1314.9 1234.9h10.6l-5.3 9.3zM1321.3 1236.5h10.6l-5.3 9.3zM1329.7 1234.3h10.6l-5.3 9.3zM1336.4 1234.4h10.6l-5.3 9.3zM1314.5 1239.9h10.6l-5.3 9.3zM1322.3 1239.6h10.6l-5.3 9.3zM1328.4 1241.4h10.6l-5.3 9.3zM1338.5 1241.6h10.6l-5.3 9.3zM1314.1 1247.5h10.6l-5.3 9.3zM1323.5 1247.4h10.6l-5.3 9.3zM1329.5 1246.1h10.6l-5.3 9.3zM1337.5 1247.5h10.6l-5.3 9.3zM1316.5 1250.7h10.6l-5.3 9.3zM1321.1 1251.5h10.6l-5.3 9.3zM1330.6 1249.9h10.6l-5.3 9.3zM1338.4 1250h10.6l-5.3 9.3zM1315.8 1257.3h10.6l-5.3 9.3zM1324 1255.7h10.6l-5.3 9.3zM1329.9 1255.2h10.6l-5.3 9.3zM1337.8 1257.8h10.6l-5.3 9.3zM1316.5 1260.1h10.6l-5.3 9.3zM1321.4 1263h10.6l-5.3 9.3zM1331.2 1262.3h10.6l-5.3 9.3zM1338 1261.3h10.6l-5.3 9.3zM1315.6 1267.9h10.6l-5.3 9.3zM1322.4 1266.4h10.6l-5.3 9.3zM1329.2 1266.6h10.6l-5.3 9.3zM1337.5 1265.9h10.6l-5.3 9.3zM1314.1 1271.1h10.6l-5.3 9.3zM1321.4 1270.8h10.6l-5.3 9.3zM1329.6 1272.7h10.6l-5.3 9.3zM1336.9 1272.4h10.6l-5.3 9.3zM1315.2 1277.2h10.6l-5.3 9.3zM1323.8 1276h10.6l-5.3 9.3zM1330.3 1276.4h10.6l-5.3 9.3zM1336.6 1277.4h10.6l-5.3 9.3zM1316.7 1280.8h10.6l-5.3 9.3zM1321.9 1283.5h10.6l-5.3 9.3zM1328.9 1282.1h10.6l-5.3 9.3zM1336.4 1281.1h10.6l-5.3 9.3zM1315.8 1288.5h10.6l-5.3 9.3zM1323 1288h10.6l-5.3 9.3zM1329.2 1288.5h10.6l-5.3 9.3zM1336.7 1286.6h10.6l-5.3 9.3zM1315.5 1291.6h10.6l-5.3 9.3zM1323.5 1292.3h10.6l-5.3 9.3zM1331 1293h10.6l-5.3 9.3zM1338.6 1291.6h10.6l-5.3 9.3zM1314.4 1298h10.6l-5.3 9.3zM1321.8 1297.9h10.6l-5.3 9.3zM1329.1 1298.2h10.6l-5.3 9.3zM1338.1 1299h10.6l-5.3 9.3zM1315.9 1302h10.6l-5.3 9.3zM1321.8 1304.1h10.6l-5.3 9.3zM1330.3 1301.7h10.6l-5.3 9.3zM1337.7 1302.3h10.6l-5.3 9.3zM1316 1306.8h10.6l-5.3 9.3zM1323.5 1307.4h10.6l-5.3 9.3zM1331.3 1309.4h10.6l-5.3 9.3zM1336.5 1309h10.6l-5.3 9.3zM1314.9 1314.6h10.6l-5.3 9.3zM1322.3 1313.7h10.6l-5.3 9.3zM1331.2 1311.9h10.6l-5.3 9.3zM1337.2 1314.6h10.6l-5.3 9.3zM1316.6 1319.6h10.6l-5.3 9.3zM1322.9 1319.1h10.6l-5.3 9.3zM1331 1318.3h10.6l-5.3 9.3zM1335.8 1319.2h10.6l-5.3 9.3zM1316.2 1323.5h10.6l-5.3 9.3zM1322.9 1322.2h10.6l-5.3 9.3zM1331.2 1323.5h10.6l-5.3 9.3zM1336.2 1323h10.6l-5.3 9.3zM1314.5 1328.4h10.6l-5.3 9.3zM1322.3 1329.3h10.6l-5.3 9.3zM1330.8 1327.5h10.6l-5.3 9.3zM1337.4 1329.5h10.6l-5.3 9.3zM1314.7 1333.4h10.6l-5.3 9.3zM1321.3 1333.9h10.6l-5.3 9.3zM1328.8 1334.3h10.6l-5.3 9.3zM1335.8 1335.2h10.6l-5.3 9.3zM1315.7 1338.1h10.6l-5.3 9.3zM1322.6 1338.4h10.6l-5.3 9.3zM1329.7 1340h10.6l-5.3 9.3zM1338.2 1339.4h10.6l-5.3 9.3zM1315.8 1344.5h10.6l-5.3 9.3zM1321.2 1345.6h10.6l-5.3 9.3zM1328.7 1345h10.6l-5.3 9.3zM1337.2 1345.3h10.6l-5.3 9.3zM1314.5 1350.1h10.6l-5.3 9.3zM1323.7 1348.7h10.6l-5.3 9.3zM1329.2 1350.4h10.6l-5.3 9.3zM1337 1349.1h10.6l-5.3 9.3zM1316.4 1355.3h10.6l-5.3 9.3zM1321.4 1356h10.6l-5.3 9.3zM1329.4 1353.1h10.6l-5.3 9.3zM1336.5 1354.3h10.6l-5.3 9.3zM1316.6 1359.9h10.6l-5.3 9.3zM1321.9 1360.2h10.6l-5.3 9.3zM1328.7 1360.3h10.6l-5.3 9.3zM1334.7 1359.2h10.6l-5.3 9.3zM1319.3 1365.9h10.6l-5.3 9.3zM1323.8 1364.4h10.6l-5.3 9.3zM1327.9 1365.2h10.6l-5.3 9.3zM1334.4 1365.8h10.6l-5.3 9.3zM1317.2 1370.3h10.6l-5.3 9.3zM1324.8 1370.1h10.6l-5.3 9.3zM1333.4 1369.7h10.6l-5.3 9.3zM1318.2 1374.6h10.6l-5.3 9.3zM1325.1 1374.5h10.6l-5.3 9.3zM1333.6 1374.5h10.6l-5.3 9.3zM1321.7 1380h10.6l-5.3 9.3zM1327.7 1379.2h10.6l-5.3 9.3zM1331.9 1379.3h10.6l-5.3 9.3zM1323.1 1384.5h10.6l-5.3 9.3zM1329.6 1386.7h10.6l-5.3 9.3zM1317.8 1396.6h10.6l-5.3 9.3zM1334.2 1396.6h10.6l-5.3 9.3zM1325.7 1413h10.6l-5.3 9.3z" fill="none" stroke="#ec2d7a" stroke-width="2.6" stroke-linejoin="miter"/><path d="M1371.5 1178.6h10.6l-5.3 9.3zM1379.1 1179.5h10.6l-5.3 9.3zM1388.3 1178.5h10.6l-5.3 9.3zM1372.2 1184.4h10.6l-5.3 9.3zM1378.5 1185.4h10.6l-5.3 9.3zM1383.4 1184.5h10.6l-5.3 9.3zM1387.6 1182.6h10.6l-5.3 9.3zM1370.2 1189.4h10.6l-5.3 9.3zM1378.2 1189.8h10.6l-5.3 9.3zM1382.8 1188.6h10.6l-5.3 9.3zM1390.4 1187.8h10.6l-5.3 9.3zM1372.1 1195.3h10.6l-5.3 9.3zM1376 1195.4h10.6l-5.3 9.3zM1383.7 1194.2h10.6l-5.3 9.3zM1388.6 1195.8h10.6l-5.3 9.3zM1370.1 1200.4h10.6l-5.3 9.3zM1375.6 1199.7h10.6l-5.3 9.3zM1382.3 1198.5h10.6l-5.3 9.3zM1390.9 1199.8h10.6l-5.3 9.3zM1369.7 1203.3h10.6l-5.3 9.3zM1377.7 1205.4h10.6l-5.3 9.3zM1382.2 1204.3h10.6l-5.3 9.3zM1391 1204.2h10.6l-5.3 9.3zM1369 1208.9h10.6l-5.3 9.3zM1377.4 1209.2h10.6l-5.3 9.3zM1385.1 1209.6h10.6l-5.3 9.3zM1392.5 1208.6h10.6l-5.3 9.3zM1367.9 1215.9h10.6l-5.3 9.3zM1373.6 1213.9h10.6l-5.3 9.3zM1379.8 1215.9h10.6l-5.3 9.3zM1386.5 1215.7h10.6l-5.3 9.3zM1391.7 1215.1h10.6l-5.3 9.3zM1368.1 1220h10.6l-5.3 9.3zM1373.8 1220.5h10.6l-5.3 9.3zM1381.5 1220.7h10.6l-5.3 9.3zM1387.2 1219.5h10.6l-5.3 9.3zM1391.8 1219.8h10.6l-5.3 9.3zM1369.8 1224.7h10.6l-5.3 9.3zM1374.5 1224.4h10.6l-5.3 9.3zM1378.7 1226.6h10.6l-5.3 9.3zM1385.4 1224.7h10.6l-5.3 9.3zM1392.9 1224.2h10.6l-5.3 9.3zM1367.7 1229.3h10.6l-5.3 9.3zM1374.8 1229.9h10.6l-5.3 9.3zM1379.3 1232.1h10.6l-5.3 9.3zM1386.9 1230.4h10.6l-5.3 9.3zM1392.2 1229.5h10.6l-5.3 9.3zM1369.2 1236.5h10.6l-5.3 9.3zM1374.2 1236.3h10.6l-5.3 9.3zM1379.7 1234.5h10.6l-5.3 9.3zM1385.3 1234.8h10.6l-5.3 9.3zM1392.2 1235.3h10.6l-5.3 9.3zM1369.4 1241.1h10.6l-5.3 9.3zM1374.7 1239.8h10.6l-5.3 9.3zM1380.4 1240.6h10.6l-5.3 9.3zM1386.3 1242.3h10.6l-5.3 9.3zM1392.5 1241.9h10.6l-5.3 9.3zM1369 1245.4h10.6l-5.3 9.3zM1373.1 1246.3h10.6l-5.3 9.3zM1379 1244.6h10.6l-5.3 9.3zM1384.8 1247.5h10.6l-5.3 9.3zM1392.5 1245.9h10.6l-5.3 9.3zM1368.2 1250.2h10.6l-5.3 9.3zM1374.4 1251.4h10.6l-5.3 9.3zM1378.8 1250h10.6l-5.3 9.3zM1385.3 1251h10.6l-5.3 9.3zM1393 1252.7h10.6l-5.3 9.3zM1367.2 1257.4h10.6l-5.3 9.3zM1373.5 1256.5h10.6l-5.3 9.3zM1381.1 1256.2h10.6l-5.3 9.3zM1386.7 1257.2h10.6l-5.3 9.3zM1391.3 1255.6h10.6l-5.3 9.3zM1369.9 1262.1h10.6l-5.3 9.3zM1373.5 1260.3h10.6l-5.3 9.3zM1380 1262h10.6l-5.3 9.3zM1387 1260.4h10.6l-5.3 9.3zM1393 1260.7h10.6l-5.3 9.3zM1368.7 1268.2h10.6l-5.3 9.3zM1374.2 1266.3h10.6l-5.3 9.3zM1380.5 1265.5h10.6l-5.3 9.3zM1384.9 1267.5h10.6l-5.3 9.3zM1391.4 1266.9h10.6l-5.3 9.3zM1367.8 1272.5h10.6l-5.3 9.3zM1373 1270.6h10.6l-5.3 9.3zM1379.5 1272h10.6l-5.3 9.3zM1386.5 1272.4h10.6l-5.3 9.3zM1391 1271.3h10.6l-5.3 9.3zM1369.4 1278.1h10.6l-5.3 9.3zM1374.3 1278.1h10.6l-5.3 9.3zM1380.7 1276.1h10.6l-5.3 9.3zM1387.2 1275.9h10.6l-5.3 9.3zM1390.9 1277.8h10.6l-5.3 9.3zM1369.5 1282.9h10.6l-5.3 9.3zM1375.1 1281.6h10.6l-5.3 9.3zM1379.9 1283.2h10.6l-5.3 9.3zM1385.8 1281.1h10.6l-5.3 9.3zM1391.4 1281.1h10.6l-5.3 9.3zM1367.8 1286.6h10.6l-5.3 9.3zM1373.8 1286.3h10.6l-5.3 9.3zM1381.6 1286.2h10.6l-5.3 9.3zM1385.6 1288.6h10.6l-5.3 9.3zM1392.2 1287.4h10.6l-5.3 9.3zM1369 1293.9h10.6l-5.3 9.3zM1373.7 1292.7h10.6l-5.3 9.3zM1380.1 1291.4h10.6l-5.3 9.3zM1386 1291.4h10.6l-5.3 9.3zM1392 1293.5h10.6l-5.3 9.3zM1369.1 1296.5h10.6l-5.3 9.3zM1373.9 1297.1h10.6l-5.3 9.3zM1380.4 1298.8h10.6l-5.3 9.3zM1386.5 1296.7h10.6l-5.3 9.3zM1390.7 1296.7h10.6l-5.3 9.3zM1368 1301.9h10.6l-5.3 9.3zM1373 1302.2h10.6l-5.3 9.3zM1379.2 1303.6h10.6l-5.3 9.3zM1387.6 1303.3h10.6l-5.3 9.3zM1391.2 1301.9h10.6l-5.3 9.3zM1369.8 1309.1h10.6l-5.3 9.3zM1374.2 1308.6h10.6l-5.3 9.3zM1381.6 1308.7h10.6l-5.3 9.3zM1386.5 1308.3h10.6l-5.3 9.3zM1391.7 1307.9h10.6l-5.3 9.3zM1368 1313.7h10.6l-5.3 9.3zM1374.8 1311.8h10.6l-5.3 9.3zM1381.1 1313.7h10.6l-5.3 9.3zM1386.3 1314.5h10.6l-5.3 9.3zM1392 1312.6h10.6l-5.3 9.3zM1367.3 1317.8h10.6l-5.3 9.3zM1374.5 1318.5h10.6l-5.3 9.3zM1379.8 1318.7h10.6l-5.3 9.3zM1387.1 1319.6h10.6l-5.3 9.3zM1393.6 1317.7h10.6l-5.3 9.3zM1369.4 1322.9h10.6l-5.3 9.3zM1374.2 1322.3h10.6l-5.3 9.3zM1380.7 1324h10.6l-5.3 9.3zM1386.9 1324.7h10.6l-5.3 9.3zM1391.1 1322.3h10.6l-5.3 9.3zM1369.3 1328.8h10.6l-5.3 9.3zM1375.8 1328.3h10.6l-5.3 9.3zM1383.6 1329.4h10.6l-5.3 9.3zM1391.3 1328.1h10.6l-5.3 9.3zM1368.8 1332.5h10.6l-5.3 9.3zM1377 1333.1h10.6l-5.3 9.3zM1383.4 1332.9h10.6l-5.3 9.3zM1391 1335.1h10.6l-5.3 9.3zM1370.8 1339h10.6l-5.3 9.3zM1376 1338.6h10.6l-5.3 9.3zM1384 1339.4h10.6l-5.3 9.3zM1390.1 1339.9h10.6l-5.3 9.3zM1371.1 1345.2h10.6l-5.3 9.3zM1378.5 1343.3h10.6l-5.3 9.3zM1383.9 1344h10.6l-5.3 9.3zM1390.6 1342.9h10.6l-5.3 9.3zM1371.4 1349.6h10.6l-5.3 9.3zM1378.7 1348.5h10.6l-5.3 9.3zM1381.9 1350.4h10.6l-5.3 9.3zM1388 1347.9h10.6l-5.3 9.3zM1372.7 1355.2h10.6l-5.3 9.3zM1380.8 1355.1h10.6l-5.3 9.3zM1388.9 1355.1h10.6l-5.3 9.3zM1374.6 1361.1h10.6l-5.3 9.3zM1381.2 1358.8h10.6l-5.3 9.3zM1385.1 1360.4h10.6l-5.3 9.3zM1375.8 1364.8h10.6l-5.3 9.3zM1385.7 1363.9h10.6l-5.3 9.3zM1369.4 1367h10.6l-5.3 9.3zM1378.8 1363.7h10.6l-5.3 9.3zM1388.2 1376.9h10.6l-5.3 9.3zM1378.8 1384.8h10.6l-5.3 9.3z" fill="none" stroke="#ed1c24" stroke-width="2.6" stroke-linejoin="miter"/><path d="M1201.1 1305.7L1241.1 1305.7" stroke="#000" stroke-width="2.6" fill="none" /><path d="M1206.1 1302.7L1236.1 1302.7" stroke="#000" stroke-width="2" fill="none" /><path d="M1206.1 1308.7L1236.1 1308.7" stroke="#000" stroke-width="2" fill="none" /><path d="M1221.1 1302.7L1221.1 1308.7" stroke="#000" stroke-width="2" fill="none" /><path d="M1256.1 1305.7L1296.1 1305.7" stroke="#000" stroke-width="2.6" fill="none" /><path d="M1261.1 1302.7L1291.1 1302.7" stroke="#000" stroke-width="2" fill="none" /><path d="M1261.1 1308.7L1291.1 1308.7" stroke="#000" stroke-width="2" fill="none" /><path d="M1276.1 1302.7L1276.1 1308.7" stroke="#000" stroke-width="2" fill="none" /><path d="M1311.5 1301.9L1351.5 1301.9" stroke="#000" stroke-width="2.6" fill="none" /><path d="M1316.5 1298.9L1346.5 1298.9" stroke="#000" stroke-width="2" fill="none" /><path d="M1316.5 1304.9L1346.5 1304.9" stroke="#000" stroke-width="2" fill="none" /><path d="M1331.5 1298.9L1331.5 1304.9" stroke="#000" stroke-width="2" fill="none" /><path d="M1365.5 1281.7L1405.5 1281.7" stroke="#000" stroke-width="2.6" fill="none" /><path d="M1370.5 1278.7L1400.5 1278.7" stroke="#000" stroke-width="2" fill="none" /><path d="M1370.5 1284.7L1400.5 1284.7" stroke="#000" stroke-width="2" fill="none" /><path d="M1385.5 1278.7L1385.5 1284.7" stroke="#000" stroke-width="2" fill="none" /><path d="M1190.1 1153.9L1190.1 1457" stroke="#111" stroke-width="2" fill="none" /><path d="M1190.1 1413.2L1427.3 1413.2" stroke="#111" stroke-width="1.8" fill="none" /><path d="M1178.1 1154.9L1190.1 1154.9" stroke="#111" stroke-width="2" fill="none" /><text x="1164.5" y="1164.4" font-size="26.5" text-anchor="end" fill="#111" >0.6</text><path d="M1178.1 1240.9L1190.1 1240.9" stroke="#111" stroke-width="2" fill="none" /><text x="1164.5" y="1250.4" font-size="26.5" text-anchor="end" fill="#111" >0.4</text><path d="M1178.1 1326.8L1190.1 1326.8" stroke="#111" stroke-width="2" fill="none" /><text x="1164.5" y="1336.3" font-size="26.5" text-anchor="end" fill="#111" >0.2</text><path d="M1178.1 1413.2L1190.1 1413.2" stroke="#111" stroke-width="2" fill="none" /><text x="1164.5" y="1422.7" font-size="26.5" text-anchor="end" fill="#111" >0</text><path d="M1178.1 1456L1190.1 1456" stroke="#111" stroke-width="2" fill="none" /><text x="1164.5" y="1465.5" font-size="26.5" text-anchor="end" fill="#111" >-0.1</text><text x="1229.1" y="1473.5" font-size="26.5" text-anchor="middle" fill="#111" >Pre</text><text x="1291.6" y="1473.5" font-size="26.5" text-anchor="middle" fill="#111" >3h</text><text x="1340.9" y="1473.5" font-size="26.5" text-anchor="middle" fill="#111" >1d</text><text x="1396.8" y="1473.5" font-size="26.5" text-anchor="middle" fill="#111" >3d</text><path d="M1272.8 1482.8L1411.4 1482.8" stroke="#111" stroke-width="1.8" fill="none" /><text x="1330.1" y="1514.8" font-size="26.5" text-anchor="middle" fill="#111" >SNI</text><text x="1383.2" y="1176.5" font-size="34" text-anchor="middle" fill="#111" >***</text><text transform="translate(1103 1309) rotate(-90)" font-size="26.5" text-anchor="middle" fill="#111" >S1 Correlation</text><path d="M1615.7 1131.8L1615.7 1442" stroke="#111" stroke-width="2" fill="none" /><path d="M1606.2 1433.5L1917.3 1433.5" stroke="#111" stroke-width="2" fill="none" /><path d="M1606.2 1132.8L1615.7 1132.8" stroke="#111" stroke-width="2" fill="none" /><text x="1595.5" y="1142.3" font-size="26.5" text-anchor="end" fill="#111" >0.6</text><path d="M1606.2 1232.4L1615.7 1232.4" stroke="#111" stroke-width="2" fill="none" /><text x="1595.5" y="1241.9" font-size="26.5" text-anchor="end" fill="#111" >0.4</text><path d="M1606.2 1332.5L1615.7 1332.5" stroke="#111" stroke-width="2" fill="none" /><text x="1595.5" y="1342" font-size="26.5" text-anchor="end" fill="#111" >0.2</text><path d="M1606.2 1433.5L1615.7 1433.5" stroke="#111" stroke-width="2" fill="none" /><text x="1599" y="1443" font-size="26.5" text-anchor="end" fill="#111" >0</text><path d="M1615.7 1433.5L1615.7 1442" stroke="#111" stroke-width="2" fill="none" /><text x="1615.7" y="1471.2" font-size="26.5" text-anchor="middle" fill="#111" >0.0</text><path d="M1715.3 1433.5L1715.3 1442" stroke="#111" stroke-width="2" fill="none" /><text x="1715.3" y="1471.2" font-size="26.5" text-anchor="middle" fill="#111" >0.2</text><path d="M1815.4 1433.5L1815.4 1442" stroke="#111" stroke-width="2" fill="none" /><text x="1815.4" y="1471.2" font-size="26.5" text-anchor="middle" fill="#111" >0.4</text><path d="M1915.9 1433.5L1915.9 1442" stroke="#111" stroke-width="2" fill="none" /><text x="1915.9" y="1471.2" font-size="26.5" text-anchor="middle" fill="#111" >0.6</text><text x="1764.6" y="1511.2" font-size="26.5" text-anchor="middle" fill="#111" >Correlation coefficient</text><text transform="translate(1506 1290) rotate(-90)" font-size="26.5" text-anchor="middle" fill="#111" >4-8 Hz</text><text transform="translate(1536.5 1291.5) rotate(-90)" font-size="26.5" text-anchor="middle" fill="#111" >Mean power<tspan dx="-5">（</tspan>μV²/Hz)</text><circle cx="1751.5" cy="1250.2" r="5.2" fill="none" stroke="#6e6e6e" stroke-width="2.6"/><circle cx="1732.7" cy="1260.6" r="5.2" fill="none" stroke="#6e6e6e" stroke-width="2.6"/><circle cx="1728" cy="1294.9" r="5.2" fill="none" stroke="#6e6e6e" stroke-width="2.6"/><circle cx="1694.2" cy="1310.4" r="5.2" fill="none" stroke="#6e6e6e" stroke-width="2.6"/><circle cx="1655.6" cy="1348" r="5.2" fill="none" stroke="#6e6e6e" stroke-width="2.6"/><circle cx="1689.5" cy="1349.4" r="5.2" fill="none" stroke="#6e6e6e" stroke-width="2.6"/><circle cx="1659.4" cy="1362" r="5.2" fill="none" stroke="#6e6e6e" stroke-width="2.6"/><circle cx="1716.7" cy="1365.3" r="5.2" fill="none" stroke="#6e6e6e" stroke-width="2.6"/><circle cx="1718.6" cy="1369.6" r="5.2" fill="none" stroke="#6e6e6e" stroke-width="2.6"/><circle cx="1804.6" cy="1365.8" r="5.2" fill="none" stroke="#6e6e6e" stroke-width="2.6"/><circle cx="1772.1" cy="1267.6" r="5.2" fill="none" stroke="#fb95c4" stroke-width="2.6"/><circle cx="1731.7" cy="1288.8" r="5.2" fill="none" stroke="#fb95c4" stroke-width="2.6"/><circle cx="1785.8" cy="1279.8" r="5.2" fill="none" stroke="#fb95c4" stroke-width="2.6"/><circle cx="1742.5" cy="1304.3" r="5.2" fill="none" stroke="#fb95c4" stroke-width="2.6"/><circle cx="1734.6" cy="1324.9" r="5.2" fill="none" stroke="#fb95c4" stroke-width="2.6"/><circle cx="1722.3" cy="1328.7" r="5.2" fill="none" stroke="#fb95c4" stroke-width="2.6"/><circle cx="1749.1" cy="1327.3" r="5.2" fill="none" stroke="#fb95c4" stroke-width="2.6"/><circle cx="1718.6" cy="1335.7" r="5.2" fill="none" stroke="#fb95c4" stroke-width="2.6"/><circle cx="1703.6" cy="1343.7" r="5.2" fill="none" stroke="#fb95c4" stroke-width="2.6"/><circle cx="1736.4" cy="1309" r="5.2" fill="none" stroke="#fb95c4" stroke-width="2.6"/><circle cx="1736.9" cy="1237.6" r="5.2" fill="none" stroke="#ec3f8c" stroke-width="2.6"/><circle cx="1872.7" cy="1232.4" r="5.2" fill="none" stroke="#ec3f8c" stroke-width="2.6"/><circle cx="1676.3" cy="1278.4" r="5.2" fill="none" stroke="#ec3f8c" stroke-width="2.6"/><circle cx="1632.2" cy="1330.6" r="5.2" fill="none" stroke="#ec3f8c" stroke-width="2.6"/><circle cx="1676.3" cy="1339" r="5.2" fill="none" stroke="#ec3f8c" stroke-width="2.6"/><circle cx="1632.2" cy="1357.8" r="5.2" fill="none" stroke="#ec3f8c" stroke-width="2.6"/><circle cx="1727.5" cy="1301.9" r="5.2" fill="none" stroke="#ec3f8c" stroke-width="2.6"/><circle cx="1741.1" cy="1307.6" r="5.2" fill="none" stroke="#ec3f8c" stroke-width="2.6"/><circle cx="1774" cy="1319.3" r="5.2" fill="none" stroke="#ec3f8c" stroke-width="2.6"/><circle cx="1781.5" cy="1320.2" r="5.2" fill="none" stroke="#ec3f8c" stroke-width="2.6"/><circle cx="1883" cy="1208" r="5.2" fill="none" stroke="#e8202a" stroke-width="2.6"/><circle cx="1836.5" cy="1224.9" r="5.2" fill="none" stroke="#e8202a" stroke-width="2.6"/><circle cx="1899.9" cy="1278.4" r="5.2" fill="none" stroke="#e8202a" stroke-width="2.6"/><circle cx="1783.4" cy="1281.7" r="5.2" fill="none" stroke="#e8202a" stroke-width="2.6"/><circle cx="1809.2" cy="1320.2" r="5.2" fill="none" stroke="#e8202a" stroke-width="2.6"/><circle cx="1761.3" cy="1305.2" r="5.2" fill="none" stroke="#e8202a" stroke-width="2.6"/><circle cx="1767.9" cy="1309" r="5.2" fill="none" stroke="#e8202a" stroke-width="2.6"/><circle cx="1755.2" cy="1315.1" r="5.2" fill="none" stroke="#e8202a" stroke-width="2.6"/><circle cx="1709.2" cy="1327.8" r="5.2" fill="none" stroke="#e8202a" stroke-width="2.6"/><circle cx="1746.8" cy="1346.1" r="5.2" fill="none" stroke="#e8202a" stroke-width="2.6"/><path d="M1632.2 1348L1899.9 1253.1" stroke="#000" stroke-width="2.4" fill="none" /><circle cx="1647.2" cy="1107" r="5.2" fill="none" stroke="#6e6e6e" stroke-width="2.6"/><text x="1666.2" y="1115.7" font-size="26.5" text-anchor="start" fill="#111" >Pre</text><circle cx="1805.5" cy="1107" r="5.2" fill="none" stroke="#fb95c4" stroke-width="2.6"/><text x="1824.5" y="1115.7" font-size="26.5" text-anchor="start" fill="#111" >SNI 3h</text><circle cx="1647.2" cy="1147.8" r="5.2" fill="none" stroke="#ec3f8c" stroke-width="2.6"/><text x="1666.2" y="1156.5" font-size="26.5" text-anchor="start" fill="#111" >SNI 1d</text><circle cx="1805.5" cy="1147.8" r="5.2" fill="none" stroke="#e8202a" stroke-width="2.6"/><text x="1824.5" y="1156.5" font-size="26.5" text-anchor="start" fill="#111" >SNI 3d</text><text x="1629.3" y="1415.8" font-size="26.2" fill="#222"><tspan font-style="italic">R</tspan><tspan font-size="15" dy="-9" dx="-2">2</tspan><tspan dy="9"> = 0.3223, </tspan><tspan font-style="italic">P</tspan> = 0.0001</text>
</svg></body></html>
